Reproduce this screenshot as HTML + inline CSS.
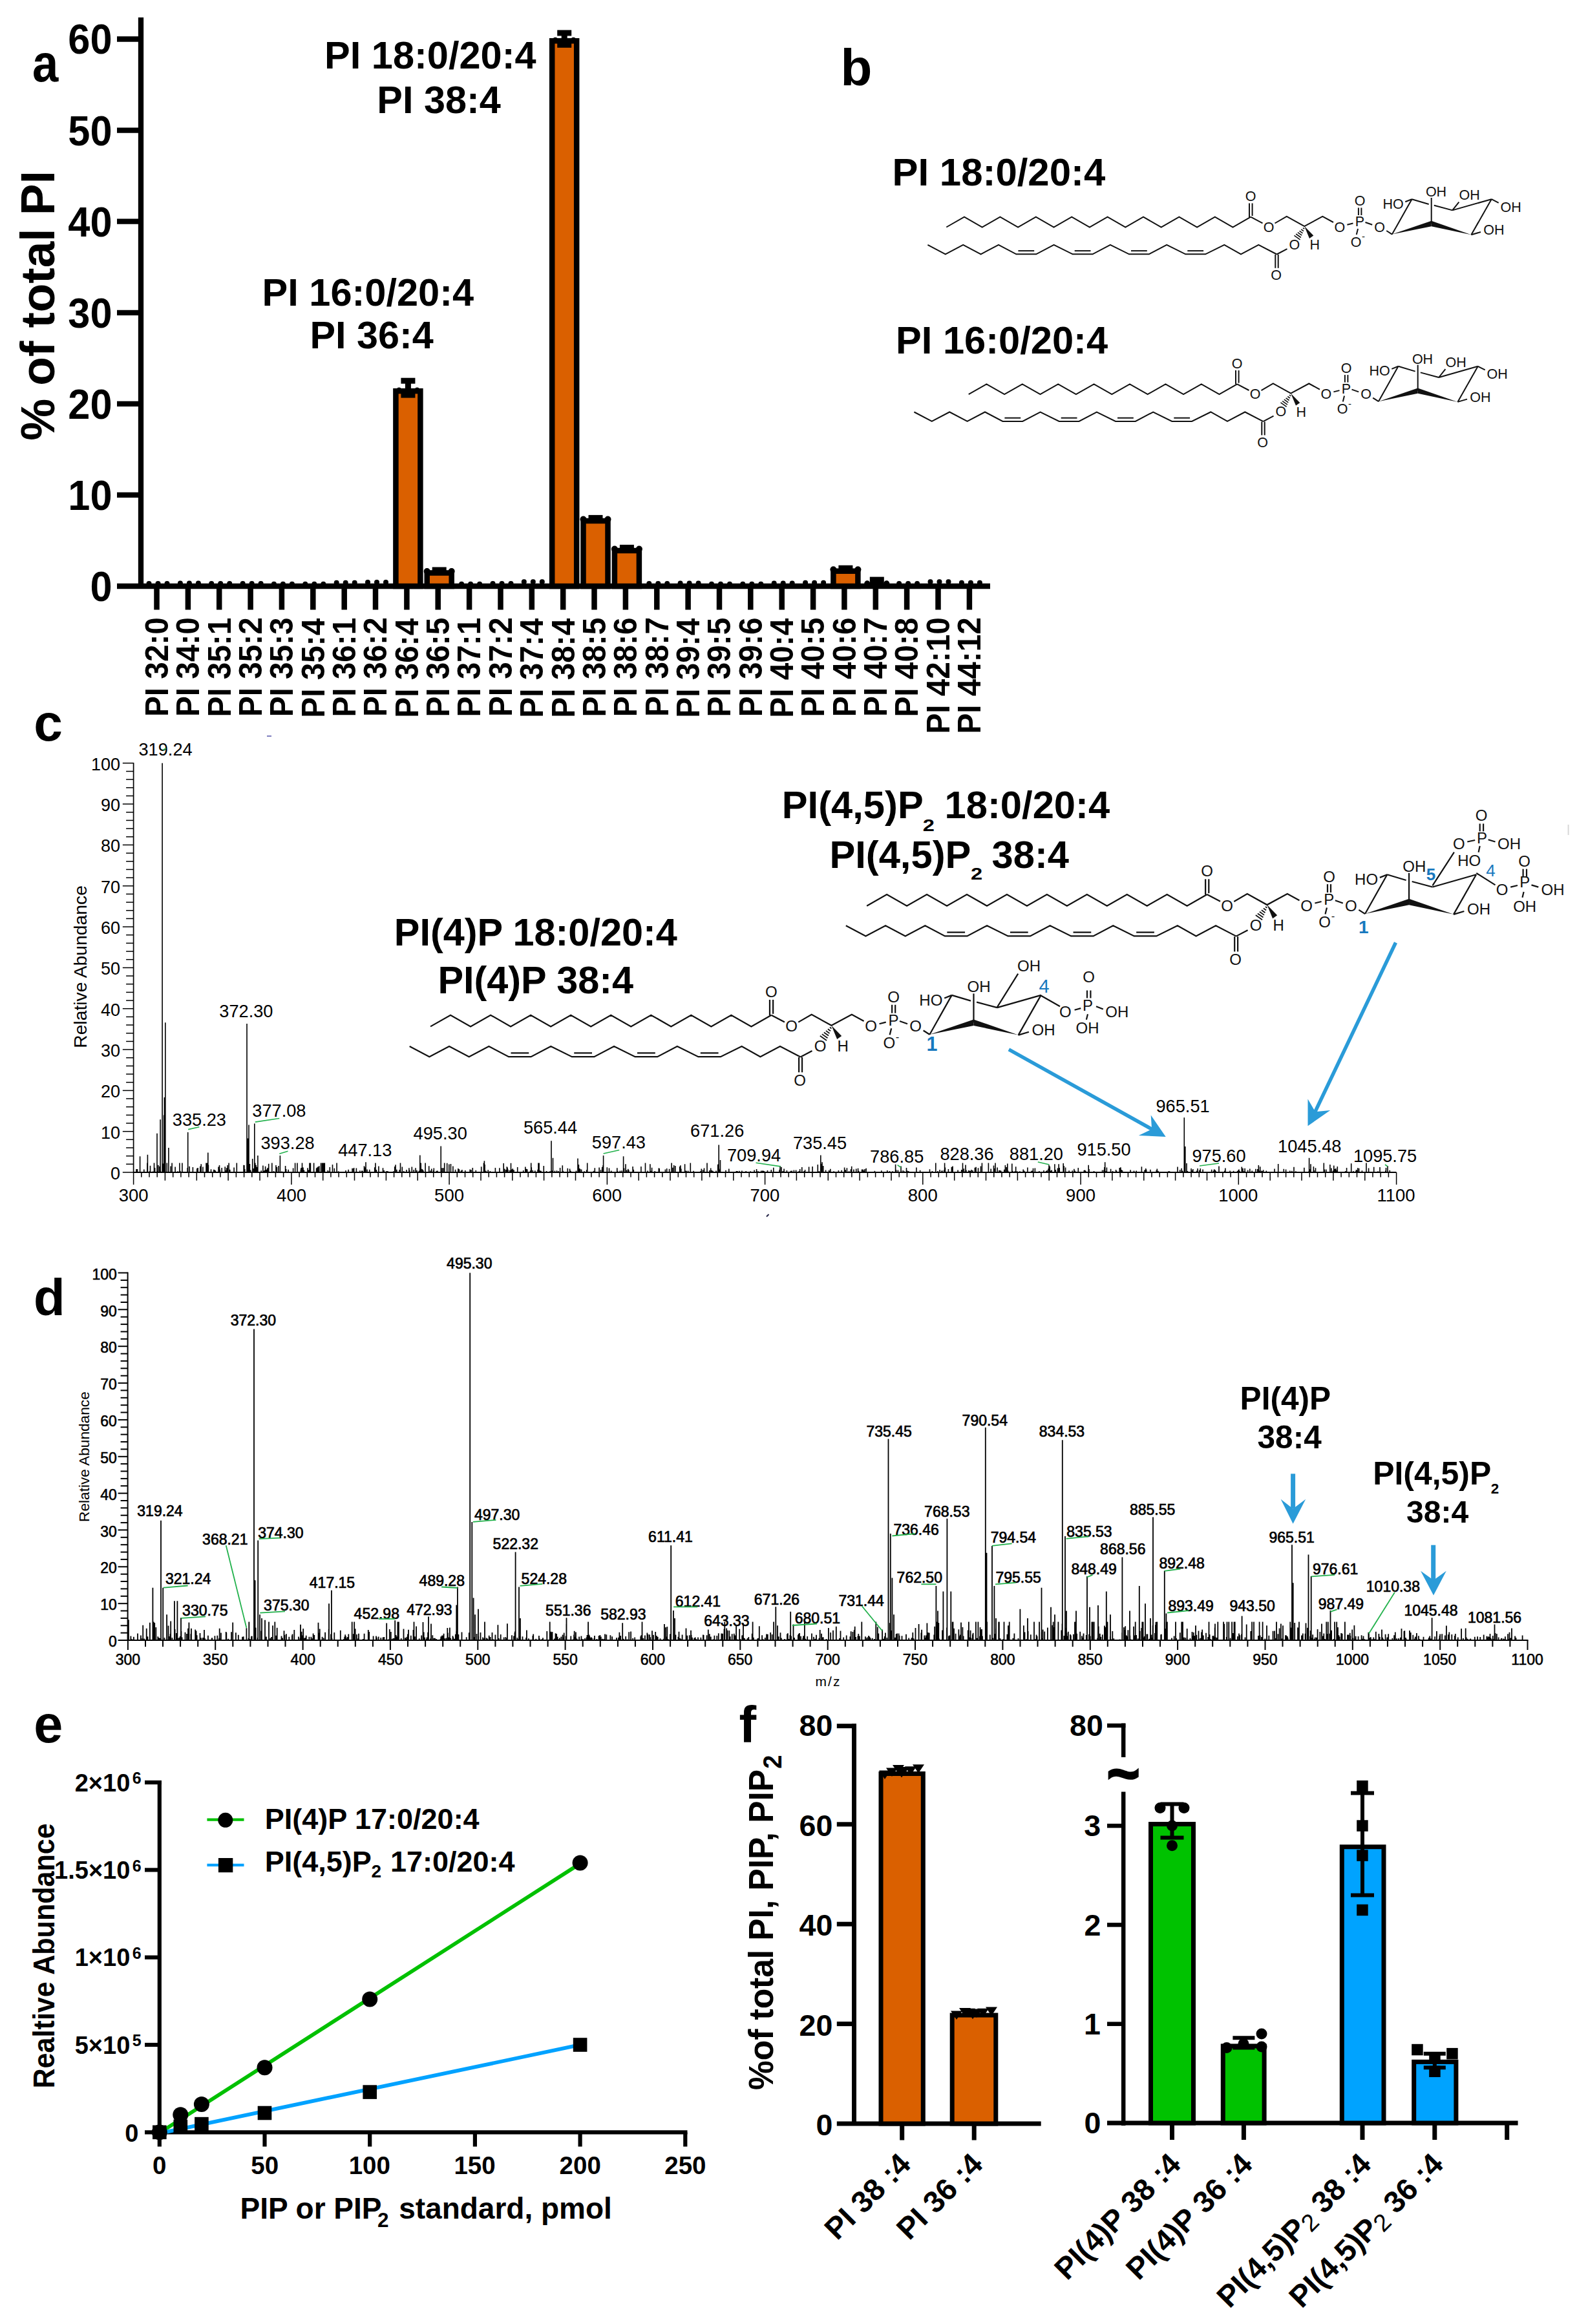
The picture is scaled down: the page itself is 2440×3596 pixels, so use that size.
<!DOCTYPE html>
<html><head><meta charset="utf-8"><style>
html,body{margin:0;padding:0;background:#fff;}
svg{display:block;}
</style></head><body>
<svg width="2440" height="3596" viewBox="0 0 2440 3596">
<rect width="2440" height="3596" fill="#fff"/>
<text x="0.0" y="0.0" font-size="81.6" font-weight="bold" text-anchor="start" fill="#000" font-family="'Liberation Sans', Arial, sans-serif" transform="translate(50.1,125.8) scale(0.888,1)" >a</text>
<line x1="218.0" y1="27.0" x2="218.0" y2="911.0" stroke="#000" stroke-width="8.3" stroke-linecap="butt"/>
<line x1="181.0" y1="907.0" x2="1532.0" y2="907.0" stroke="#000" stroke-width="8.3" stroke-linecap="butt"/>
<line x1="181.0" y1="765.9" x2="218.0" y2="765.9" stroke="#000" stroke-width="8.3" stroke-linecap="butt"/>
<line x1="181.0" y1="624.8" x2="218.0" y2="624.8" stroke="#000" stroke-width="8.3" stroke-linecap="butt"/>
<line x1="181.0" y1="483.8" x2="218.0" y2="483.8" stroke="#000" stroke-width="8.3" stroke-linecap="butt"/>
<line x1="181.0" y1="342.7" x2="218.0" y2="342.7" stroke="#000" stroke-width="8.3" stroke-linecap="butt"/>
<line x1="181.0" y1="201.6" x2="218.0" y2="201.6" stroke="#000" stroke-width="8.3" stroke-linecap="butt"/>
<line x1="181.0" y1="60.5" x2="218.0" y2="60.5" stroke="#000" stroke-width="8.3" stroke-linecap="butt"/>
<text x="0.0" y="0.0" font-size="64.2" font-weight="bold" text-anchor="start" fill="#000" font-family="'Liberation Sans', Arial, sans-serif" transform="translate(139.4,929.9) scale(0.955,1)" >0</text>
<text x="0.0" y="0.0" font-size="64.2" font-weight="bold" text-anchor="start" fill="#000" font-family="'Liberation Sans', Arial, sans-serif" transform="translate(105.3,788.8) scale(0.955,1)" >10</text>
<text x="0.0" y="0.0" font-size="64.2" font-weight="bold" text-anchor="start" fill="#000" font-family="'Liberation Sans', Arial, sans-serif" transform="translate(105.3,647.7) scale(0.955,1)" >20</text>
<text x="0.0" y="0.0" font-size="64.2" font-weight="bold" text-anchor="start" fill="#000" font-family="'Liberation Sans', Arial, sans-serif" transform="translate(105.3,506.6) scale(0.955,1)" >30</text>
<text x="0.0" y="0.0" font-size="64.2" font-weight="bold" text-anchor="start" fill="#000" font-family="'Liberation Sans', Arial, sans-serif" transform="translate(105.3,365.6) scale(0.955,1)" >40</text>
<text x="0.0" y="0.0" font-size="64.2" font-weight="bold" text-anchor="start" fill="#000" font-family="'Liberation Sans', Arial, sans-serif" transform="translate(105.3,224.5) scale(0.955,1)" >50</text>
<text x="0.0" y="0.0" font-size="64.2" font-weight="bold" text-anchor="start" fill="#000" font-family="'Liberation Sans', Arial, sans-serif" transform="translate(105.3,83.4) scale(0.955,1)" >60</text>
<text x="0.0" y="0.0" font-size="75.0" font-weight="bold" text-anchor="start" fill="#000" font-family="'Liberation Sans', Arial, sans-serif" transform="translate(84.3,681.8) rotate(-90) scale(0.973,1)" >% of total PI</text>
<line x1="242.5" y1="911.0" x2="242.5" y2="943.5" stroke="#000" stroke-width="8.5" stroke-linecap="butt"/>
<circle cx="230.5" cy="903.1" r="4" fill="#000"/>
<circle cx="244.5" cy="903.1" r="4" fill="#000"/>
<circle cx="258.5" cy="903.1" r="4" fill="#000"/>
<text x="0.0" y="0.0" font-size="50.1" font-weight="bold" text-anchor="start" fill="#000" font-family="'Liberation Sans', Arial, sans-serif" transform="translate(259.8,1109.0) rotate(-90) scale(0.953,1)" >PI 32:0</text>
<line x1="290.9" y1="911.0" x2="290.9" y2="943.5" stroke="#000" stroke-width="8.5" stroke-linecap="butt"/>
<circle cx="278.9" cy="902.4" r="4" fill="#000"/>
<circle cx="292.9" cy="902.4" r="4" fill="#000"/>
<circle cx="306.9" cy="902.4" r="4" fill="#000"/>
<text x="0.0" y="0.0" font-size="50.1" font-weight="bold" text-anchor="start" fill="#000" font-family="'Liberation Sans', Arial, sans-serif" transform="translate(308.2,1109.0) rotate(-90) scale(0.953,1)" >PI 34:0</text>
<line x1="339.2" y1="911.0" x2="339.2" y2="943.5" stroke="#000" stroke-width="8.5" stroke-linecap="butt"/>
<circle cx="327.2" cy="903.1" r="4" fill="#000"/>
<circle cx="341.2" cy="903.1" r="4" fill="#000"/>
<circle cx="355.2" cy="903.1" r="4" fill="#000"/>
<text x="0.0" y="0.0" font-size="50.1" font-weight="bold" text-anchor="start" fill="#000" font-family="'Liberation Sans', Arial, sans-serif" transform="translate(356.5,1109.6) rotate(-90) scale(0.953,1)" >PI 35:1</text>
<line x1="387.6" y1="911.0" x2="387.6" y2="943.5" stroke="#000" stroke-width="8.5" stroke-linecap="butt"/>
<circle cx="375.6" cy="903.1" r="4" fill="#000"/>
<circle cx="389.6" cy="903.1" r="4" fill="#000"/>
<circle cx="403.6" cy="903.1" r="4" fill="#000"/>
<text x="0.0" y="0.0" font-size="50.1" font-weight="bold" text-anchor="start" fill="#000" font-family="'Liberation Sans', Arial, sans-serif" transform="translate(404.9,1109.1) rotate(-90) scale(0.953,1)" >PI 35:2</text>
<line x1="435.9" y1="911.0" x2="435.9" y2="943.5" stroke="#000" stroke-width="8.5" stroke-linecap="butt"/>
<circle cx="423.9" cy="903.8" r="4" fill="#000"/>
<circle cx="437.9" cy="903.8" r="4" fill="#000"/>
<circle cx="451.9" cy="903.8" r="4" fill="#000"/>
<text x="0.0" y="0.0" font-size="50.1" font-weight="bold" text-anchor="start" fill="#000" font-family="'Liberation Sans', Arial, sans-serif" transform="translate(453.2,1109.3) rotate(-90) scale(0.953,1)" >PI 35:3</text>
<line x1="484.3" y1="911.0" x2="484.3" y2="943.5" stroke="#000" stroke-width="8.5" stroke-linecap="butt"/>
<circle cx="472.3" cy="903.8" r="4" fill="#000"/>
<circle cx="486.3" cy="903.8" r="4" fill="#000"/>
<circle cx="500.3" cy="903.8" r="4" fill="#000"/>
<text x="0.0" y="0.0" font-size="50.1" font-weight="bold" text-anchor="start" fill="#000" font-family="'Liberation Sans', Arial, sans-serif" transform="translate(501.6,1110.7) rotate(-90) scale(0.953,1)" >PI 35:4</text>
<line x1="532.7" y1="911.0" x2="532.7" y2="943.5" stroke="#000" stroke-width="8.5" stroke-linecap="butt"/>
<circle cx="520.7" cy="901.7" r="4" fill="#000"/>
<circle cx="534.7" cy="901.7" r="4" fill="#000"/>
<circle cx="548.7" cy="901.7" r="4" fill="#000"/>
<text x="0.0" y="0.0" font-size="50.1" font-weight="bold" text-anchor="start" fill="#000" font-family="'Liberation Sans', Arial, sans-serif" transform="translate(550.0,1109.6) rotate(-90) scale(0.953,1)" >PI 36:1</text>
<line x1="581.0" y1="911.0" x2="581.0" y2="943.5" stroke="#000" stroke-width="8.5" stroke-linecap="butt"/>
<circle cx="569.0" cy="901.0" r="4" fill="#000"/>
<circle cx="583.0" cy="901.0" r="4" fill="#000"/>
<circle cx="597.0" cy="901.0" r="4" fill="#000"/>
<text x="0.0" y="0.0" font-size="50.1" font-weight="bold" text-anchor="start" fill="#000" font-family="'Liberation Sans', Arial, sans-serif" transform="translate(598.3,1109.1) rotate(-90) scale(0.953,1)" >PI 36:2</text>
<line x1="629.4" y1="911.0" x2="629.4" y2="943.5" stroke="#000" stroke-width="8.5" stroke-linecap="butt"/>
<rect x="612.4" y="605.1" width="38.0" height="301.9" fill="#DA6000" stroke="#000" stroke-width="8.5"/>
<line x1="631.4" y1="589.2" x2="631.4" y2="605.1" stroke="#000" stroke-width="9" stroke-linecap="butt"/>
<line x1="620.4" y1="589.2" x2="642.4" y2="589.2" stroke="#000" stroke-width="9" stroke-linecap="butt"/>
<line x1="620.4" y1="611.1" x2="642.4" y2="611.1" stroke="#000" stroke-width="9" stroke-linecap="butt"/>
<circle cx="617.4" cy="604.1" r="4.5" fill="#000"/>
<circle cx="631.4" cy="604.1" r="4.5" fill="#000"/>
<circle cx="645.4" cy="604.1" r="4.5" fill="#000"/>
<text x="0.0" y="0.0" font-size="50.1" font-weight="bold" text-anchor="start" fill="#000" font-family="'Liberation Sans', Arial, sans-serif" transform="translate(646.7,1110.7) rotate(-90) scale(0.953,1)" >PI 36:4</text>
<line x1="677.7" y1="911.0" x2="677.7" y2="943.5" stroke="#000" stroke-width="8.5" stroke-linecap="butt"/>
<rect x="660.7" y="886.5" width="38.0" height="20.5" fill="#DA6000" stroke="#000" stroke-width="8.5"/>
<rect x="668.7" y="877.5" width="22.0" height="6.0" fill="#000"/>
<circle cx="660.7" cy="884.0" r="5" fill="#000"/>
<circle cx="698.7" cy="884.0" r="5" fill="#000"/>
<text x="0.0" y="0.0" font-size="50.1" font-weight="bold" text-anchor="start" fill="#000" font-family="'Liberation Sans', Arial, sans-serif" transform="translate(695.0,1109.6) rotate(-90) scale(0.953,1)" >PI 36:5</text>
<line x1="726.1" y1="911.0" x2="726.1" y2="943.5" stroke="#000" stroke-width="8.5" stroke-linecap="butt"/>
<circle cx="714.1" cy="903.8" r="4" fill="#000"/>
<circle cx="728.1" cy="903.8" r="4" fill="#000"/>
<circle cx="742.1" cy="903.8" r="4" fill="#000"/>
<text x="0.0" y="0.0" font-size="50.1" font-weight="bold" text-anchor="start" fill="#000" font-family="'Liberation Sans', Arial, sans-serif" transform="translate(743.4,1109.6) rotate(-90) scale(0.953,1)" >PI 37:1</text>
<line x1="774.5" y1="911.0" x2="774.5" y2="943.5" stroke="#000" stroke-width="8.5" stroke-linecap="butt"/>
<circle cx="762.5" cy="903.1" r="4" fill="#000"/>
<circle cx="776.5" cy="903.1" r="4" fill="#000"/>
<circle cx="790.5" cy="903.1" r="4" fill="#000"/>
<text x="0.0" y="0.0" font-size="50.1" font-weight="bold" text-anchor="start" fill="#000" font-family="'Liberation Sans', Arial, sans-serif" transform="translate(791.8,1109.1) rotate(-90) scale(0.953,1)" >PI 37:2</text>
<line x1="822.8" y1="911.0" x2="822.8" y2="943.5" stroke="#000" stroke-width="8.5" stroke-linecap="butt"/>
<circle cx="810.8" cy="900.3" r="4" fill="#000"/>
<circle cx="824.8" cy="900.3" r="4" fill="#000"/>
<circle cx="838.8" cy="900.3" r="4" fill="#000"/>
<text x="0.0" y="0.0" font-size="50.1" font-weight="bold" text-anchor="start" fill="#000" font-family="'Liberation Sans', Arial, sans-serif" transform="translate(840.1,1110.7) rotate(-90) scale(0.953,1)" >PI 37:4</text>
<line x1="871.2" y1="911.0" x2="871.2" y2="943.5" stroke="#000" stroke-width="8.5" stroke-linecap="butt"/>
<rect x="854.2" y="63.3" width="38.0" height="843.7" fill="#DA6000" stroke="#000" stroke-width="8.5"/>
<line x1="873.2" y1="51.0" x2="873.2" y2="63.3" stroke="#000" stroke-width="9" stroke-linecap="butt"/>
<line x1="862.2" y1="51.0" x2="884.2" y2="51.0" stroke="#000" stroke-width="9" stroke-linecap="butt"/>
<line x1="862.2" y1="69.3" x2="884.2" y2="69.3" stroke="#000" stroke-width="9" stroke-linecap="butt"/>
<circle cx="859.2" cy="62.3" r="4.5" fill="#000"/>
<circle cx="873.2" cy="62.3" r="4.5" fill="#000"/>
<circle cx="887.2" cy="62.3" r="4.5" fill="#000"/>
<text x="0.0" y="0.0" font-size="50.1" font-weight="bold" text-anchor="start" fill="#000" font-family="'Liberation Sans', Arial, sans-serif" transform="translate(888.5,1110.7) rotate(-90) scale(0.953,1)" >PI 38:4</text>
<line x1="919.5" y1="911.0" x2="919.5" y2="943.5" stroke="#000" stroke-width="8.5" stroke-linecap="butt"/>
<rect x="902.5" y="806.0" width="38.0" height="101.0" fill="#DA6000" stroke="#000" stroke-width="8.5"/>
<rect x="910.5" y="796.9" width="22.0" height="6.0" fill="#000"/>
<circle cx="902.5" cy="803.5" r="5" fill="#000"/>
<circle cx="940.5" cy="803.5" r="5" fill="#000"/>
<text x="0.0" y="0.0" font-size="50.1" font-weight="bold" text-anchor="start" fill="#000" font-family="'Liberation Sans', Arial, sans-serif" transform="translate(936.8,1109.6) rotate(-90) scale(0.953,1)" >PI 38:5</text>
<line x1="967.9" y1="911.0" x2="967.9" y2="943.5" stroke="#000" stroke-width="8.5" stroke-linecap="butt"/>
<rect x="950.9" y="852.0" width="38.0" height="55.0" fill="#DA6000" stroke="#000" stroke-width="8.5"/>
<rect x="958.9" y="842.9" width="22.0" height="6.0" fill="#000"/>
<circle cx="950.9" cy="849.5" r="5" fill="#000"/>
<circle cx="988.9" cy="849.5" r="5" fill="#000"/>
<text x="0.0" y="0.0" font-size="50.1" font-weight="bold" text-anchor="start" fill="#000" font-family="'Liberation Sans', Arial, sans-serif" transform="translate(985.2,1109.3) rotate(-90) scale(0.953,1)" >PI 38:6</text>
<line x1="1016.3" y1="911.0" x2="1016.3" y2="943.5" stroke="#000" stroke-width="8.5" stroke-linecap="butt"/>
<circle cx="1004.3" cy="903.1" r="4" fill="#000"/>
<circle cx="1018.3" cy="903.1" r="4" fill="#000"/>
<circle cx="1032.3" cy="903.1" r="4" fill="#000"/>
<text x="0.0" y="0.0" font-size="50.1" font-weight="bold" text-anchor="start" fill="#000" font-family="'Liberation Sans', Arial, sans-serif" transform="translate(1033.6,1108.9) rotate(-90) scale(0.953,1)" >PI 38:7</text>
<line x1="1064.6" y1="911.0" x2="1064.6" y2="943.5" stroke="#000" stroke-width="8.5" stroke-linecap="butt"/>
<circle cx="1052.6" cy="902.4" r="4" fill="#000"/>
<circle cx="1066.6" cy="902.4" r="4" fill="#000"/>
<circle cx="1080.6" cy="902.4" r="4" fill="#000"/>
<text x="0.0" y="0.0" font-size="50.1" font-weight="bold" text-anchor="start" fill="#000" font-family="'Liberation Sans', Arial, sans-serif" transform="translate(1081.9,1110.7) rotate(-90) scale(0.953,1)" >PI 39:4</text>
<line x1="1113.0" y1="911.0" x2="1113.0" y2="943.5" stroke="#000" stroke-width="8.5" stroke-linecap="butt"/>
<circle cx="1101.0" cy="903.8" r="4" fill="#000"/>
<circle cx="1115.0" cy="903.8" r="4" fill="#000"/>
<circle cx="1129.0" cy="903.8" r="4" fill="#000"/>
<text x="0.0" y="0.0" font-size="50.1" font-weight="bold" text-anchor="start" fill="#000" font-family="'Liberation Sans', Arial, sans-serif" transform="translate(1130.3,1109.6) rotate(-90) scale(0.953,1)" >PI 39:5</text>
<line x1="1161.3" y1="911.0" x2="1161.3" y2="943.5" stroke="#000" stroke-width="8.5" stroke-linecap="butt"/>
<circle cx="1149.3" cy="903.8" r="4" fill="#000"/>
<circle cx="1163.3" cy="903.8" r="4" fill="#000"/>
<circle cx="1177.3" cy="903.8" r="4" fill="#000"/>
<text x="0.0" y="0.0" font-size="50.1" font-weight="bold" text-anchor="start" fill="#000" font-family="'Liberation Sans', Arial, sans-serif" transform="translate(1178.6,1109.3) rotate(-90) scale(0.953,1)" >PI 39:6</text>
<line x1="1209.7" y1="911.0" x2="1209.7" y2="943.5" stroke="#000" stroke-width="8.5" stroke-linecap="butt"/>
<circle cx="1197.7" cy="902.4" r="4" fill="#000"/>
<circle cx="1211.7" cy="902.4" r="4" fill="#000"/>
<circle cx="1225.7" cy="902.4" r="4" fill="#000"/>
<text x="0.0" y="0.0" font-size="50.1" font-weight="bold" text-anchor="start" fill="#000" font-family="'Liberation Sans', Arial, sans-serif" transform="translate(1227.0,1110.7) rotate(-90) scale(0.953,1)" >PI 40:4</text>
<line x1="1258.1" y1="911.0" x2="1258.1" y2="943.5" stroke="#000" stroke-width="8.5" stroke-linecap="butt"/>
<circle cx="1246.1" cy="901.7" r="4" fill="#000"/>
<circle cx="1260.1" cy="901.7" r="4" fill="#000"/>
<circle cx="1274.1" cy="901.7" r="4" fill="#000"/>
<text x="0.0" y="0.0" font-size="50.1" font-weight="bold" text-anchor="start" fill="#000" font-family="'Liberation Sans', Arial, sans-serif" transform="translate(1275.4,1109.6) rotate(-90) scale(0.953,1)" >PI 40:5</text>
<line x1="1306.4" y1="911.0" x2="1306.4" y2="943.5" stroke="#000" stroke-width="8.5" stroke-linecap="butt"/>
<rect x="1289.4" y="883.7" width="38.0" height="23.3" fill="#DA6000" stroke="#000" stroke-width="8.5"/>
<rect x="1297.4" y="874.7" width="22.0" height="6.0" fill="#000"/>
<circle cx="1289.4" cy="881.2" r="5" fill="#000"/>
<circle cx="1327.4" cy="881.2" r="5" fill="#000"/>
<text x="0.0" y="0.0" font-size="50.1" font-weight="bold" text-anchor="start" fill="#000" font-family="'Liberation Sans', Arial, sans-serif" transform="translate(1323.7,1109.3) rotate(-90) scale(0.953,1)" >PI 40:6</text>
<line x1="1354.8" y1="911.0" x2="1354.8" y2="943.5" stroke="#000" stroke-width="8.5" stroke-linecap="butt"/>
<rect x="1345.8" y="892.6" width="22.0" height="14.4" fill="#000"/>
<circle cx="1341.8" cy="902.9" r="4.6" fill="#000"/>
<circle cx="1371.8" cy="902.9" r="4.6" fill="#000"/>
<text x="0.0" y="0.0" font-size="50.1" font-weight="bold" text-anchor="start" fill="#000" font-family="'Liberation Sans', Arial, sans-serif" transform="translate(1372.1,1108.9) rotate(-90) scale(0.953,1)" >PI 40:7</text>
<line x1="1403.1" y1="911.0" x2="1403.1" y2="943.5" stroke="#000" stroke-width="8.5" stroke-linecap="butt"/>
<circle cx="1391.1" cy="903.1" r="4" fill="#000"/>
<circle cx="1405.1" cy="903.1" r="4" fill="#000"/>
<circle cx="1419.1" cy="903.1" r="4" fill="#000"/>
<text x="0.0" y="0.0" font-size="50.1" font-weight="bold" text-anchor="start" fill="#000" font-family="'Liberation Sans', Arial, sans-serif" transform="translate(1420.4,1109.5) rotate(-90) scale(0.953,1)" >PI 40:8</text>
<line x1="1451.5" y1="911.0" x2="1451.5" y2="943.5" stroke="#000" stroke-width="8.5" stroke-linecap="butt"/>
<circle cx="1439.5" cy="900.3" r="4" fill="#000"/>
<circle cx="1453.5" cy="900.3" r="4" fill="#000"/>
<circle cx="1467.5" cy="900.3" r="4" fill="#000"/>
<text x="0.0" y="0.0" font-size="50.1" font-weight="bold" text-anchor="start" fill="#000" font-family="'Liberation Sans', Arial, sans-serif" transform="translate(1468.8,1135.6) rotate(-90) scale(0.953,1)" >PI 42:10</text>
<line x1="1499.9" y1="911.0" x2="1499.9" y2="943.5" stroke="#000" stroke-width="8.5" stroke-linecap="butt"/>
<circle cx="1487.9" cy="901.7" r="4" fill="#000"/>
<circle cx="1501.9" cy="901.7" r="4" fill="#000"/>
<circle cx="1515.9" cy="901.7" r="4" fill="#000"/>
<text x="0.0" y="0.0" font-size="50.1" font-weight="bold" text-anchor="start" fill="#000" font-family="'Liberation Sans', Arial, sans-serif" transform="translate(1517.2,1135.6) rotate(-90) scale(0.953,1)" >PI 44:12</text>
<text x="502.1" y="105.9" font-size="59.5" font-weight="bold" text-anchor="start" fill="#000" font-family="'Liberation Sans', Arial, sans-serif" >PI 18:0/20:4</text>
<text x="583.3" y="174.6" font-size="59.4" font-weight="bold" text-anchor="start" fill="#000" font-family="'Liberation Sans', Arial, sans-serif" >PI 38:4</text>
<text x="405.6" y="472.6" font-size="59.5" font-weight="bold" text-anchor="start" fill="#000" font-family="'Liberation Sans', Arial, sans-serif" >PI 16:0/20:4</text>
<text x="479.5" y="538.9" font-size="59.3" font-weight="bold" text-anchor="start" fill="#000" font-family="'Liberation Sans', Arial, sans-serif" >PI 36:4</text>
<text x="1300.6" y="131.8" font-size="80.0" font-weight="bold" text-anchor="start" fill="#000" font-family="'Liberation Sans', Arial, sans-serif" >b</text>
<text x="1380.6" y="287.3" font-size="59.9" font-weight="bold" text-anchor="start" fill="#000" font-family="'Liberation Sans', Arial, sans-serif" >PI 18:0/20:4</text>
<text x="1386.1" y="546.9" font-size="59.6" font-weight="bold" text-anchor="start" fill="#000" font-family="'Liberation Sans', Arial, sans-serif" >PI 16:0/20:4</text>
<g transform="translate(0.00,0.00) scale(1.0000)" font-family="Liberation Sans, Arial, sans-serif">
<path d="M1935.2,335.7 L1907.5,351.5 L1879.8,335.7 L1852.1,351.5 L1824.4,335.7 L1796.7,351.5 L1769.0,335.7 L1741.3,351.5 L1713.6,335.7 L1685.9,351.5 L1658.2,335.7 L1630.5,351.5 L1602.8,335.7 L1575.1,351.5 L1547.4,335.7 L1519.7,351.5 L1492.0,335.7 L1464.3,351.5" fill="none" stroke="#111" stroke-width="2.0" stroke-linejoin="miter"/>
<line x1="1933.0" y1="314.5" x2="1933.0" y2="336.0" stroke="#111" stroke-width="2.0"/>
<line x1="1937.6" y1="314.5" x2="1937.6" y2="334.0" stroke="#111" stroke-width="2.0"/>
<text x="1935.2" y="311.1" font-size="21.5" text-anchor="middle" fill="#111">O</text>
<line x1="1935.2" y1="335.7" x2="1953.5" y2="345.4" stroke="#111" stroke-width="2.0"/>
<text x="1963.0" y="358.7" font-size="21.5" text-anchor="middle" fill="#111">O</text>
<path d="M1972.5,345.5 L1990.8,334.9 L2018.2,350.1 L2046.3,334.9 L2063,344" fill="none" stroke="#111" stroke-width="2.0"/>
<text x="2072.9" y="358.6" font-size="21.5" text-anchor="middle" fill="#111">O</text>
<line x1="2084.4" y1="347.8" x2="2093.5" y2="345.5" stroke="#111" stroke-width="2.0"/>
<text x="2104.0" y="350.4" font-size="21.5" text-anchor="middle" fill="#111">P</text>
<line x1="2101.9" y1="321.5" x2="2101.9" y2="333.0" stroke="#111" stroke-width="2.0"/>
<line x1="2106.4" y1="321.5" x2="2106.4" y2="333.0" stroke="#111" stroke-width="2.0"/>
<text x="2104.2" y="318.4" font-size="21.5" text-anchor="middle" fill="#111">O</text>
<line x1="2101.0" y1="354.0" x2="2098.8" y2="363.0" stroke="#111" stroke-width="2.0"/>
<text x="2098.0" y="381.6" font-size="21.5" text-anchor="middle" fill="#111">O</text>
<text x="2107" y="371" font-size="15.0" fill="#111">-</text>
<line x1="2112.5" y1="344.0" x2="2123.2" y2="347.8" stroke="#111" stroke-width="2.0"/>
<text x="2134.5" y="358.6" font-size="21.5" text-anchor="middle" fill="#111">O</text>
<line x1="2145.2" y1="357.0" x2="2153.9" y2="362.6" stroke="#111" stroke-width="2.0"/>
<line x1="2153.9" y1="362.6" x2="2184.5" y2="308.2" stroke="#111" stroke-width="2.0"/>
<line x1="2184.5" y1="308.2" x2="2210.7" y2="316.0" stroke="#111" stroke-width="2.0"/>
<line x1="2218.8" y1="317.8" x2="2247.2" y2="325.4" stroke="#111" stroke-width="2.0"/>
<line x1="2247.2" y1="325.4" x2="2307.7" y2="308.2" stroke="#111" stroke-width="2.0"/>
<line x1="2307.7" y1="308.2" x2="2276.4" y2="363.3" stroke="#111" stroke-width="2.0"/>
<line x1="2214.7" y1="306.0" x2="2214.7" y2="346.0" stroke="#111" stroke-width="2.0"/>
<path d="M2153.9,362.6 L2214.7,341.8 L2214.7,350.2 Z" fill="#111"/>
<path d="M2276.4,363.3 L2214.7,341.8 L2214.7,350.2 Z" fill="#111"/>
<line x1="2184.5" y1="308.2" x2="2174.3" y2="312.3" stroke="#111" stroke-width="2.0"/>
<text x="2155.7" y="322.6" font-size="21.5" text-anchor="middle" fill="#111">HO</text>
<text x="2222.0" y="304.0" font-size="21.5" text-anchor="middle" fill="#111">OH</text>
<line x1="2247.2" y1="325.4" x2="2257.4" y2="312.6" stroke="#111" stroke-width="2.0"/>
<text x="2273.7" y="309.4" font-size="21.5" text-anchor="middle" fill="#111">OH</text>
<line x1="2307.7" y1="308.2" x2="2318.7" y2="313.8" stroke="#111" stroke-width="2.0"/>
<text x="2337.6" y="327.7" font-size="21.5" text-anchor="middle" fill="#111">OH</text>
<line x1="2276.4" y1="363.3" x2="2291.0" y2="359.0" stroke="#111" stroke-width="2.0"/>
<text x="2311.3" y="363.4" font-size="21.5" text-anchor="middle" fill="#111">OH</text>
<line x1="2018.3" y1="354.2" x2="2016.0" y2="352.6" stroke="#111" stroke-width="1.6"/>
<line x1="2017.0" y1="357.6" x2="2013.3" y2="354.9" stroke="#111" stroke-width="1.6"/>
<line x1="2015.6" y1="360.9" x2="2010.6" y2="357.3" stroke="#111" stroke-width="1.6"/>
<line x1="2014.3" y1="364.2" x2="2007.9" y2="359.6" stroke="#111" stroke-width="1.6"/>
<line x1="2012.9" y1="367.5" x2="2005.2" y2="362.0" stroke="#111" stroke-width="1.6"/>
<line x1="2011.6" y1="370.8" x2="2002.5" y2="364.3" stroke="#111" stroke-width="1.6"/>
<path d="M2018.2,350.1 L2026.0,369.0 L2032.3,364.6 Z" fill="#111"/>
<text x="2034.2" y="386.1" font-size="21.5" text-anchor="middle" fill="#111">H</text>
<text x="2002.8" y="385.6" font-size="21.5" text-anchor="middle" fill="#111">O</text>
<line x1="1991.5" y1="385.1" x2="1975.5" y2="393.5" stroke="#111" stroke-width="2.0"/>
<path d="M1435.4,378.9 L1462.8,393.3 L1490.2,378.9 L1517.6,393.3 L1545.0,378.9 L1572.4,393.3 L1603.2,393.3 L1630.6,378.9 L1659.7,393.3 L1690.5,393.3 L1717.9,378.9 L1747.0,393.3 L1777.8,393.3 L1805.2,378.9 L1834.3,393.3 L1865.1,393.3 L1894.3,378.9 L1920.0,393.3 L1947.3,378.9 L1975.5,393.5" fill="none" stroke="#111" stroke-width="2.0"/>
<line x1="1575.4" y1="388.1" x2="1600.2" y2="388.1" stroke="#111" stroke-width="2.0"/>
<line x1="1662.7" y1="388.1" x2="1687.5" y2="388.1" stroke="#111" stroke-width="2.0"/>
<line x1="1750.0" y1="388.1" x2="1774.8" y2="388.1" stroke="#111" stroke-width="2.0"/>
<line x1="1837.3" y1="388.1" x2="1862.1" y2="388.1" stroke="#111" stroke-width="2.0"/>
<line x1="1973.3" y1="394.0" x2="1973.3" y2="414.8" stroke="#111" stroke-width="2.0"/>
<line x1="1977.7" y1="394.0" x2="1977.7" y2="414.8" stroke="#111" stroke-width="2.0"/>
<text x="1974.6" y="433.2" font-size="21.5" text-anchor="middle" fill="#111">O</text>
</g>
<g transform="translate(-21.00,258.60) scale(1.0000)" font-family="Liberation Sans, Arial, sans-serif">
<path d="M1935.2,335.7 L1907.5,351.5 L1879.8,335.7 L1852.1,351.5 L1824.4,335.7 L1796.7,351.5 L1769.0,335.7 L1741.3,351.5 L1713.6,335.7 L1685.9,351.5 L1658.2,335.7 L1630.5,351.5 L1602.8,335.7 L1575.1,351.5 L1547.4,335.7 L1519.7,351.5" fill="none" stroke="#111" stroke-width="2.0" stroke-linejoin="miter"/>
<line x1="1933.0" y1="314.5" x2="1933.0" y2="336.0" stroke="#111" stroke-width="2.0"/>
<line x1="1937.6" y1="314.5" x2="1937.6" y2="334.0" stroke="#111" stroke-width="2.0"/>
<text x="1935.2" y="311.1" font-size="21.5" text-anchor="middle" fill="#111">O</text>
<line x1="1935.2" y1="335.7" x2="1953.5" y2="345.4" stroke="#111" stroke-width="2.0"/>
<text x="1963.0" y="358.7" font-size="21.5" text-anchor="middle" fill="#111">O</text>
<path d="M1972.5,345.5 L1990.8,334.9 L2018.2,350.1 L2046.3,334.9 L2063,344" fill="none" stroke="#111" stroke-width="2.0"/>
<text x="2072.9" y="358.6" font-size="21.5" text-anchor="middle" fill="#111">O</text>
<line x1="2084.4" y1="347.8" x2="2093.5" y2="345.5" stroke="#111" stroke-width="2.0"/>
<text x="2104.0" y="350.4" font-size="21.5" text-anchor="middle" fill="#111">P</text>
<line x1="2101.9" y1="321.5" x2="2101.9" y2="333.0" stroke="#111" stroke-width="2.0"/>
<line x1="2106.4" y1="321.5" x2="2106.4" y2="333.0" stroke="#111" stroke-width="2.0"/>
<text x="2104.2" y="318.4" font-size="21.5" text-anchor="middle" fill="#111">O</text>
<line x1="2101.0" y1="354.0" x2="2098.8" y2="363.0" stroke="#111" stroke-width="2.0"/>
<text x="2098.0" y="381.6" font-size="21.5" text-anchor="middle" fill="#111">O</text>
<text x="2107" y="371" font-size="15.0" fill="#111">-</text>
<line x1="2112.5" y1="344.0" x2="2123.2" y2="347.8" stroke="#111" stroke-width="2.0"/>
<text x="2134.5" y="358.6" font-size="21.5" text-anchor="middle" fill="#111">O</text>
<line x1="2145.2" y1="357.0" x2="2153.9" y2="362.6" stroke="#111" stroke-width="2.0"/>
<line x1="2153.9" y1="362.6" x2="2184.5" y2="308.2" stroke="#111" stroke-width="2.0"/>
<line x1="2184.5" y1="308.2" x2="2210.7" y2="316.0" stroke="#111" stroke-width="2.0"/>
<line x1="2218.8" y1="317.8" x2="2247.2" y2="325.4" stroke="#111" stroke-width="2.0"/>
<line x1="2247.2" y1="325.4" x2="2307.7" y2="308.2" stroke="#111" stroke-width="2.0"/>
<line x1="2307.7" y1="308.2" x2="2276.4" y2="363.3" stroke="#111" stroke-width="2.0"/>
<line x1="2214.7" y1="306.0" x2="2214.7" y2="346.0" stroke="#111" stroke-width="2.0"/>
<path d="M2153.9,362.6 L2214.7,341.8 L2214.7,350.2 Z" fill="#111"/>
<path d="M2276.4,363.3 L2214.7,341.8 L2214.7,350.2 Z" fill="#111"/>
<line x1="2184.5" y1="308.2" x2="2174.3" y2="312.3" stroke="#111" stroke-width="2.0"/>
<text x="2155.7" y="322.6" font-size="21.5" text-anchor="middle" fill="#111">HO</text>
<text x="2222.0" y="304.0" font-size="21.5" text-anchor="middle" fill="#111">OH</text>
<line x1="2247.2" y1="325.4" x2="2257.4" y2="312.6" stroke="#111" stroke-width="2.0"/>
<text x="2273.7" y="309.4" font-size="21.5" text-anchor="middle" fill="#111">OH</text>
<line x1="2307.7" y1="308.2" x2="2318.7" y2="313.8" stroke="#111" stroke-width="2.0"/>
<text x="2337.6" y="327.7" font-size="21.5" text-anchor="middle" fill="#111">OH</text>
<line x1="2276.4" y1="363.3" x2="2291.0" y2="359.0" stroke="#111" stroke-width="2.0"/>
<text x="2311.3" y="363.4" font-size="21.5" text-anchor="middle" fill="#111">OH</text>
<line x1="2018.3" y1="354.2" x2="2016.0" y2="352.6" stroke="#111" stroke-width="1.6"/>
<line x1="2017.0" y1="357.6" x2="2013.3" y2="354.9" stroke="#111" stroke-width="1.6"/>
<line x1="2015.6" y1="360.9" x2="2010.6" y2="357.3" stroke="#111" stroke-width="1.6"/>
<line x1="2014.3" y1="364.2" x2="2007.9" y2="359.6" stroke="#111" stroke-width="1.6"/>
<line x1="2012.9" y1="367.5" x2="2005.2" y2="362.0" stroke="#111" stroke-width="1.6"/>
<line x1="2011.6" y1="370.8" x2="2002.5" y2="364.3" stroke="#111" stroke-width="1.6"/>
<path d="M2018.2,350.1 L2026.0,369.0 L2032.3,364.6 Z" fill="#111"/>
<text x="2034.2" y="386.1" font-size="21.5" text-anchor="middle" fill="#111">H</text>
<text x="2002.8" y="385.6" font-size="21.5" text-anchor="middle" fill="#111">O</text>
<line x1="1991.5" y1="385.1" x2="1975.5" y2="393.5" stroke="#111" stroke-width="2.0"/>
<path d="M1435.4,378.9 L1462.8,393.3 L1490.2,378.9 L1517.6,393.3 L1545.0,378.9 L1572.4,393.3 L1603.2,393.3 L1630.6,378.9 L1659.7,393.3 L1690.5,393.3 L1717.9,378.9 L1747.0,393.3 L1777.8,393.3 L1805.2,378.9 L1834.3,393.3 L1865.1,393.3 L1894.3,378.9 L1920.0,393.3 L1947.3,378.9 L1975.5,393.5" fill="none" stroke="#111" stroke-width="2.0"/>
<line x1="1575.4" y1="388.1" x2="1600.2" y2="388.1" stroke="#111" stroke-width="2.0"/>
<line x1="1662.7" y1="388.1" x2="1687.5" y2="388.1" stroke="#111" stroke-width="2.0"/>
<line x1="1750.0" y1="388.1" x2="1774.8" y2="388.1" stroke="#111" stroke-width="2.0"/>
<line x1="1837.3" y1="388.1" x2="1862.1" y2="388.1" stroke="#111" stroke-width="2.0"/>
<line x1="1973.3" y1="394.0" x2="1973.3" y2="414.8" stroke="#111" stroke-width="2.0"/>
<line x1="1977.7" y1="394.0" x2="1977.7" y2="414.8" stroke="#111" stroke-width="2.0"/>
<text x="1974.6" y="433.2" font-size="21.5" text-anchor="middle" fill="#111">O</text>
</g>
<g transform="translate(-973.98,1194.69) scale(1.1200)" font-family="Liberation Sans, Arial, sans-serif">
<path d="M1935.2,335.7 L1907.5,351.5 L1879.8,335.7 L1852.1,351.5 L1824.4,335.7 L1796.7,351.5 L1769.0,335.7 L1741.3,351.5 L1713.6,335.7 L1685.9,351.5 L1658.2,335.7 L1630.5,351.5 L1602.8,335.7 L1575.1,351.5 L1547.4,335.7 L1519.7,351.5 L1492.0,335.7 L1464.3,351.5" fill="none" stroke="#111" stroke-width="2.0" stroke-linejoin="miter"/>
<line x1="1933.0" y1="314.5" x2="1933.0" y2="336.0" stroke="#111" stroke-width="2.0"/>
<line x1="1937.6" y1="314.5" x2="1937.6" y2="334.0" stroke="#111" stroke-width="2.0"/>
<text x="1935.2" y="311.1" font-size="21.5" text-anchor="middle" fill="#111">O</text>
<line x1="1935.2" y1="335.7" x2="1953.5" y2="345.4" stroke="#111" stroke-width="2.0"/>
<text x="1963.0" y="358.7" font-size="21.5" text-anchor="middle" fill="#111">O</text>
<path d="M1972.5,345.5 L1990.8,334.9 L2018.2,350.1 L2046.3,334.9 L2063,344" fill="none" stroke="#111" stroke-width="2.0"/>
<text x="2072.9" y="358.6" font-size="21.5" text-anchor="middle" fill="#111">O</text>
<line x1="2084.4" y1="347.8" x2="2093.5" y2="345.5" stroke="#111" stroke-width="2.0"/>
<text x="2104.0" y="350.4" font-size="21.5" text-anchor="middle" fill="#111">P</text>
<line x1="2101.9" y1="321.5" x2="2101.9" y2="333.0" stroke="#111" stroke-width="2.0"/>
<line x1="2106.4" y1="321.5" x2="2106.4" y2="333.0" stroke="#111" stroke-width="2.0"/>
<text x="2104.2" y="318.4" font-size="21.5" text-anchor="middle" fill="#111">O</text>
<line x1="2101.0" y1="354.0" x2="2098.8" y2="363.0" stroke="#111" stroke-width="2.0"/>
<text x="2098.0" y="381.6" font-size="21.5" text-anchor="middle" fill="#111">O</text>
<text x="2107" y="371" font-size="15.0" fill="#111">-</text>
<line x1="2112.5" y1="344.0" x2="2123.2" y2="347.8" stroke="#111" stroke-width="2.0"/>
<text x="2134.5" y="358.6" font-size="21.5" text-anchor="middle" fill="#111">O</text>
<line x1="2145.2" y1="357.0" x2="2153.9" y2="362.6" stroke="#111" stroke-width="2.0"/>
<line x1="2153.9" y1="362.6" x2="2184.5" y2="308.2" stroke="#111" stroke-width="2.0"/>
<line x1="2184.5" y1="308.2" x2="2210.7" y2="316.0" stroke="#111" stroke-width="2.0"/>
<line x1="2218.8" y1="317.8" x2="2247.2" y2="325.4" stroke="#111" stroke-width="2.0"/>
<line x1="2247.2" y1="325.4" x2="2307.7" y2="308.2" stroke="#111" stroke-width="2.0"/>
<line x1="2307.7" y1="308.2" x2="2276.4" y2="363.3" stroke="#111" stroke-width="2.0"/>
<line x1="2214.7" y1="306.0" x2="2214.7" y2="346.0" stroke="#111" stroke-width="2.0"/>
<path d="M2153.9,362.6 L2214.7,341.8 L2214.7,350.2 Z" fill="#111"/>
<path d="M2276.4,363.3 L2214.7,341.8 L2214.7,350.2 Z" fill="#111"/>
<line x1="2184.5" y1="308.2" x2="2174.3" y2="312.3" stroke="#111" stroke-width="2.0"/>
<text x="2155.7" y="322.6" font-size="21.5" text-anchor="middle" fill="#111">HO</text>
<text x="2222.0" y="304.0" font-size="21.5" text-anchor="middle" fill="#111">OH</text>
<line x1="2276.4" y1="363.3" x2="2291.0" y2="359.0" stroke="#111" stroke-width="2.0"/>
<text x="2311.3" y="363.4" font-size="21.5" text-anchor="middle" fill="#111">OH</text>
<line x1="2018.3" y1="354.2" x2="2016.0" y2="352.6" stroke="#111" stroke-width="1.6"/>
<line x1="2017.0" y1="357.6" x2="2013.3" y2="354.9" stroke="#111" stroke-width="1.6"/>
<line x1="2015.6" y1="360.9" x2="2010.6" y2="357.3" stroke="#111" stroke-width="1.6"/>
<line x1="2014.3" y1="364.2" x2="2007.9" y2="359.6" stroke="#111" stroke-width="1.6"/>
<line x1="2012.9" y1="367.5" x2="2005.2" y2="362.0" stroke="#111" stroke-width="1.6"/>
<line x1="2011.6" y1="370.8" x2="2002.5" y2="364.3" stroke="#111" stroke-width="1.6"/>
<path d="M2018.2,350.1 L2026.0,369.0 L2032.3,364.6 Z" fill="#111"/>
<text x="2034.2" y="386.1" font-size="21.5" text-anchor="middle" fill="#111">H</text>
<text x="2002.8" y="385.6" font-size="21.5" text-anchor="middle" fill="#111">O</text>
<line x1="1991.5" y1="385.1" x2="1975.5" y2="393.5" stroke="#111" stroke-width="2.0"/>
<path d="M1435.4,378.9 L1462.8,393.3 L1490.2,378.9 L1517.6,393.3 L1545.0,378.9 L1572.4,393.3 L1603.2,393.3 L1630.6,378.9 L1659.7,393.3 L1690.5,393.3 L1717.9,378.9 L1747.0,393.3 L1777.8,393.3 L1805.2,378.9 L1834.3,393.3 L1865.1,393.3 L1894.3,378.9 L1920.0,393.3 L1947.3,378.9 L1975.5,393.5" fill="none" stroke="#111" stroke-width="2.0"/>
<line x1="1575.4" y1="388.1" x2="1600.2" y2="388.1" stroke="#111" stroke-width="2.0"/>
<line x1="1662.7" y1="388.1" x2="1687.5" y2="388.1" stroke="#111" stroke-width="2.0"/>
<line x1="1750.0" y1="388.1" x2="1774.8" y2="388.1" stroke="#111" stroke-width="2.0"/>
<line x1="1837.3" y1="388.1" x2="1862.1" y2="388.1" stroke="#111" stroke-width="2.0"/>
<line x1="1973.3" y1="394.0" x2="1973.3" y2="414.8" stroke="#111" stroke-width="2.0"/>
<line x1="1977.7" y1="394.0" x2="1977.7" y2="414.8" stroke="#111" stroke-width="2.0"/>
<text x="1974.6" y="433.2" font-size="21.5" text-anchor="middle" fill="#111">O</text>
</g>
<line x1="1542.9" y1="1558.4" x2="1575.2" y2="1506.7" stroke="#111" stroke-width="2.2" stroke-linecap="butt"/>
<text x="1592.0" y="1503.1" font-size="24.0" font-weight="normal" text-anchor="middle" fill="#111" font-family="Liberation Sans, Arial, sans-serif">OH</text>
<line x1="1609.7" y1="1540.0" x2="1640.0" y2="1557.3" stroke="#111" stroke-width="2.2" stroke-linecap="butt"/>
<text x="1648.4" y="1573.5" font-size="24.0" font-weight="normal" text-anchor="middle" fill="#111" font-family="Liberation Sans, Arial, sans-serif">O</text>
<line x1="1662.6" y1="1562.7" x2="1672.3" y2="1560.1" stroke="#111" stroke-width="2.2" stroke-linecap="butt"/>
<text x="1683.0" y="1563.9" font-size="24.0" font-weight="normal" text-anchor="middle" fill="#111" font-family="Liberation Sans, Arial, sans-serif">P</text>
<line x1="1682.0" y1="1532.5" x2="1682.0" y2="1544.4" stroke="#111" stroke-width="2.2" stroke-linecap="butt"/>
<line x1="1687.4" y1="1532.5" x2="1687.4" y2="1544.4" stroke="#111" stroke-width="2.2" stroke-linecap="butt"/>
<text x="1684.5" y="1519.6" font-size="24.0" font-weight="normal" text-anchor="middle" fill="#111" font-family="Liberation Sans, Arial, sans-serif">O</text>
<line x1="1696.0" y1="1557.3" x2="1706.8" y2="1561.6" stroke="#111" stroke-width="2.2" stroke-linecap="butt"/>
<text x="1728.3" y="1573.8" font-size="24.0" font-weight="normal" text-anchor="middle" fill="#111" font-family="Liberation Sans, Arial, sans-serif">OH</text>
<line x1="1683.0" y1="1569.2" x2="1680.9" y2="1577.8" stroke="#111" stroke-width="2.2" stroke-linecap="butt"/>
<text x="1682.5" y="1599.4" font-size="24.0" font-weight="normal" text-anchor="middle" fill="#111" font-family="Liberation Sans, Arial, sans-serif">OH</text>
<text x="1615.6" y="1536.4" font-size="29.0" font-weight="normal" text-anchor="middle" fill="#1878BE" font-family="Liberation Sans, Arial, sans-serif">4</text>
<text x="1442.0" y="1626.2" font-size="30.5" font-weight="bold" text-anchor="middle" fill="#1878BE" font-family="Liberation Sans, Arial, sans-serif">1</text>
<g transform="translate(-295.95,1008.69) scale(1.1180)" font-family="Liberation Sans, Arial, sans-serif">
<path d="M1935.2,335.7 L1907.5,351.5 L1879.8,335.7 L1852.1,351.5 L1824.4,335.7 L1796.7,351.5 L1769.0,335.7 L1741.3,351.5 L1713.6,335.7 L1685.9,351.5 L1658.2,335.7 L1630.5,351.5 L1602.8,335.7 L1575.1,351.5 L1547.4,335.7 L1519.7,351.5 L1492.0,335.7 L1464.3,351.5" fill="none" stroke="#111" stroke-width="2.0" stroke-linejoin="miter"/>
<line x1="1933.0" y1="314.5" x2="1933.0" y2="336.0" stroke="#111" stroke-width="2.0"/>
<line x1="1937.6" y1="314.5" x2="1937.6" y2="334.0" stroke="#111" stroke-width="2.0"/>
<text x="1935.2" y="311.1" font-size="21.5" text-anchor="middle" fill="#111">O</text>
<line x1="1935.2" y1="335.7" x2="1953.5" y2="345.4" stroke="#111" stroke-width="2.0"/>
<text x="1963.0" y="358.7" font-size="21.5" text-anchor="middle" fill="#111">O</text>
<path d="M1972.5,345.5 L1990.8,334.9 L2018.2,350.1 L2046.3,334.9 L2063,344" fill="none" stroke="#111" stroke-width="2.0"/>
<text x="2072.9" y="358.6" font-size="21.5" text-anchor="middle" fill="#111">O</text>
<line x1="2084.4" y1="347.8" x2="2093.5" y2="345.5" stroke="#111" stroke-width="2.0"/>
<text x="2104.0" y="350.4" font-size="21.5" text-anchor="middle" fill="#111">P</text>
<line x1="2101.9" y1="321.5" x2="2101.9" y2="333.0" stroke="#111" stroke-width="2.0"/>
<line x1="2106.4" y1="321.5" x2="2106.4" y2="333.0" stroke="#111" stroke-width="2.0"/>
<text x="2104.2" y="318.4" font-size="21.5" text-anchor="middle" fill="#111">O</text>
<line x1="2101.0" y1="354.0" x2="2098.8" y2="363.0" stroke="#111" stroke-width="2.0"/>
<text x="2098.0" y="381.6" font-size="21.5" text-anchor="middle" fill="#111">O</text>
<text x="2107" y="371" font-size="15.0" fill="#111">-</text>
<line x1="2112.5" y1="344.0" x2="2123.2" y2="347.8" stroke="#111" stroke-width="2.0"/>
<text x="2134.5" y="358.6" font-size="21.5" text-anchor="middle" fill="#111">O</text>
<line x1="2145.2" y1="357.0" x2="2153.9" y2="362.6" stroke="#111" stroke-width="2.0"/>
<line x1="2153.9" y1="362.6" x2="2184.5" y2="308.2" stroke="#111" stroke-width="2.0"/>
<line x1="2184.5" y1="308.2" x2="2210.7" y2="316.0" stroke="#111" stroke-width="2.0"/>
<line x1="2218.8" y1="317.8" x2="2247.2" y2="325.4" stroke="#111" stroke-width="2.0"/>
<line x1="2247.2" y1="325.4" x2="2307.7" y2="308.2" stroke="#111" stroke-width="2.0"/>
<line x1="2307.7" y1="308.2" x2="2276.4" y2="363.3" stroke="#111" stroke-width="2.0"/>
<line x1="2214.7" y1="306.0" x2="2214.7" y2="346.0" stroke="#111" stroke-width="2.0"/>
<path d="M2153.9,362.6 L2214.7,341.8 L2214.7,350.2 Z" fill="#111"/>
<path d="M2276.4,363.3 L2214.7,341.8 L2214.7,350.2 Z" fill="#111"/>
<line x1="2184.5" y1="308.2" x2="2174.3" y2="312.3" stroke="#111" stroke-width="2.0"/>
<text x="2155.7" y="322.6" font-size="21.5" text-anchor="middle" fill="#111">HO</text>
<text x="2222.0" y="304.0" font-size="21.5" text-anchor="middle" fill="#111">OH</text>
<line x1="2276.4" y1="363.3" x2="2291.0" y2="359.0" stroke="#111" stroke-width="2.0"/>
<text x="2311.3" y="363.4" font-size="21.5" text-anchor="middle" fill="#111">OH</text>
<line x1="2018.3" y1="354.2" x2="2016.0" y2="352.6" stroke="#111" stroke-width="1.6"/>
<line x1="2017.0" y1="357.6" x2="2013.3" y2="354.9" stroke="#111" stroke-width="1.6"/>
<line x1="2015.6" y1="360.9" x2="2010.6" y2="357.3" stroke="#111" stroke-width="1.6"/>
<line x1="2014.3" y1="364.2" x2="2007.9" y2="359.6" stroke="#111" stroke-width="1.6"/>
<line x1="2012.9" y1="367.5" x2="2005.2" y2="362.0" stroke="#111" stroke-width="1.6"/>
<line x1="2011.6" y1="370.8" x2="2002.5" y2="364.3" stroke="#111" stroke-width="1.6"/>
<path d="M2018.2,350.1 L2026.0,369.0 L2032.3,364.6 Z" fill="#111"/>
<text x="2034.2" y="386.1" font-size="21.5" text-anchor="middle" fill="#111">H</text>
<text x="2002.8" y="385.6" font-size="21.5" text-anchor="middle" fill="#111">O</text>
<line x1="1991.5" y1="385.1" x2="1975.5" y2="393.5" stroke="#111" stroke-width="2.0"/>
<path d="M1435.4,378.9 L1462.8,393.3 L1490.2,378.9 L1517.6,393.3 L1545.0,378.9 L1572.4,393.3 L1603.2,393.3 L1630.6,378.9 L1659.7,393.3 L1690.5,393.3 L1717.9,378.9 L1747.0,393.3 L1777.8,393.3 L1805.2,378.9 L1834.3,393.3 L1865.1,393.3 L1894.3,378.9 L1920.0,393.3 L1947.3,378.9 L1975.5,393.5" fill="none" stroke="#111" stroke-width="2.0"/>
<line x1="1575.4" y1="388.1" x2="1600.2" y2="388.1" stroke="#111" stroke-width="2.0"/>
<line x1="1662.7" y1="388.1" x2="1687.5" y2="388.1" stroke="#111" stroke-width="2.0"/>
<line x1="1750.0" y1="388.1" x2="1774.8" y2="388.1" stroke="#111" stroke-width="2.0"/>
<line x1="1837.3" y1="388.1" x2="1862.1" y2="388.1" stroke="#111" stroke-width="2.0"/>
<line x1="1973.3" y1="394.0" x2="1973.3" y2="414.8" stroke="#111" stroke-width="2.0"/>
<line x1="1977.7" y1="394.0" x2="1977.7" y2="414.8" stroke="#111" stroke-width="2.0"/>
<text x="1974.6" y="433.2" font-size="21.5" text-anchor="middle" fill="#111">O</text>
</g>
<line x1="2216.4" y1="1370.4" x2="2249.9" y2="1318.7" stroke="#111" stroke-width="2.2" stroke-linecap="butt"/>
<text x="2257.4" y="1314.1" font-size="24.0" font-weight="normal" text-anchor="middle" fill="#111" font-family="Liberation Sans, Arial, sans-serif">O</text>
<line x1="2270.3" y1="1302.5" x2="2282.2" y2="1300.0" stroke="#111" stroke-width="2.2" stroke-linecap="butt"/>
<text x="2293.0" y="1304.7" font-size="24.0" font-weight="normal" text-anchor="middle" fill="#111" font-family="Liberation Sans, Arial, sans-serif">P</text>
<line x1="2289.7" y1="1274.5" x2="2289.7" y2="1286.4" stroke="#111" stroke-width="2.2" stroke-linecap="butt"/>
<line x1="2295.1" y1="1274.5" x2="2295.1" y2="1286.4" stroke="#111" stroke-width="2.2" stroke-linecap="butt"/>
<text x="2292.2" y="1269.5" font-size="24.0" font-weight="normal" text-anchor="middle" fill="#111" font-family="Liberation Sans, Arial, sans-serif">O</text>
<line x1="2302.7" y1="1299.3" x2="2313.5" y2="1302.5" stroke="#111" stroke-width="2.2" stroke-linecap="butt"/>
<text x="2335.0" y="1314.1" font-size="24.0" font-weight="normal" text-anchor="middle" fill="#111" font-family="Liberation Sans, Arial, sans-serif">OH</text>
<line x1="2289.7" y1="1309.0" x2="2287.6" y2="1318.7" stroke="#111" stroke-width="2.2" stroke-linecap="butt"/>
<text x="2273.2" y="1339.9" font-size="24.0" font-weight="normal" text-anchor="middle" fill="#111" font-family="Liberation Sans, Arial, sans-serif">HO</text>
<text x="2214.0" y="1361.7" font-size="26.0" font-weight="bold" text-anchor="middle" fill="#1878BE" font-family="Liberation Sans, Arial, sans-serif">5</text>
<line x1="2284.3" y1="1351.0" x2="2313.5" y2="1369.4" stroke="#111" stroke-width="2.2" stroke-linecap="butt"/>
<text x="2324.2" y="1384.9" font-size="24.0" font-weight="normal" text-anchor="middle" fill="#111" font-family="Liberation Sans, Arial, sans-serif">O</text>
<line x1="2337.2" y1="1372.6" x2="2348.0" y2="1370.0" stroke="#111" stroke-width="2.2" stroke-linecap="butt"/>
<text x="2359.2" y="1373.3" font-size="24.0" font-weight="normal" text-anchor="middle" fill="#111" font-family="Liberation Sans, Arial, sans-serif">P</text>
<line x1="2356.6" y1="1344.6" x2="2356.6" y2="1356.4" stroke="#111" stroke-width="2.2" stroke-linecap="butt"/>
<line x1="2362.0" y1="1344.6" x2="2362.0" y2="1356.4" stroke="#111" stroke-width="2.2" stroke-linecap="butt"/>
<text x="2358.5" y="1340.8" font-size="24.0" font-weight="normal" text-anchor="middle" fill="#111" font-family="Liberation Sans, Arial, sans-serif">O</text>
<line x1="2369.5" y1="1369.4" x2="2380.3" y2="1372.6" stroke="#111" stroke-width="2.2" stroke-linecap="butt"/>
<text x="2402.5" y="1384.9" font-size="24.0" font-weight="normal" text-anchor="middle" fill="#111" font-family="Liberation Sans, Arial, sans-serif">OH</text>
<line x1="2357.6" y1="1380.1" x2="2355.5" y2="1388.8" stroke="#111" stroke-width="2.2" stroke-linecap="butt"/>
<text x="2359.2" y="1411.1" font-size="24.0" font-weight="normal" text-anchor="middle" fill="#111" font-family="Liberation Sans, Arial, sans-serif">OH</text>
<text x="2306.4" y="1355.7" font-size="26.0" font-weight="normal" text-anchor="middle" fill="#1878BE" font-family="Liberation Sans, Arial, sans-serif">4</text>
<text x="2109.7" y="1443.8" font-size="28.0" font-weight="bold" text-anchor="middle" fill="#1878BE" font-family="Liberation Sans, Arial, sans-serif">1</text>
<text x="609.8" y="1463.0" font-size="59.4" font-weight="bold" text-anchor="start" fill="#000" font-family="'Liberation Sans', Arial, sans-serif" >PI(4)P 18:0/20:4</text>
<text x="677.4" y="1537.1" font-size="59.4" font-weight="bold" text-anchor="start" fill="#000" font-family="'Liberation Sans', Arial, sans-serif" >PI(4)P 38:4</text>
<text x="1209.8" y="1265.5" font-size="59.7" font-weight="bold" text-anchor="start" fill="#000" font-family="'Liberation Sans', Arial, sans-serif" >PI(4,5)P</text>
<text x="0.0" y="0.0" font-size="25.1" font-weight="bold" text-anchor="start" fill="#000" font-family="'Liberation Sans', Arial, sans-serif" transform="translate(1427.7,1286.0) scale(1.300,1)" >2</text>
<text x="1461.6" y="1265.5" font-size="59.7" font-weight="bold" text-anchor="start" fill="#000" font-family="'Liberation Sans', Arial, sans-serif" >18:0/20:4</text>
<text x="1283.4" y="1342.9" font-size="59.7" font-weight="bold" text-anchor="start" fill="#000" font-family="'Liberation Sans', Arial, sans-serif" >PI(4,5)P</text>
<text x="0.0" y="0.0" font-size="25.1" font-weight="bold" text-anchor="start" fill="#000" font-family="'Liberation Sans', Arial, sans-serif" transform="translate(1502.0,1361.0) scale(1.300,1)" >2</text>
<text x="1534.5" y="1342.9" font-size="59.7" font-weight="bold" text-anchor="start" fill="#000" font-family="'Liberation Sans', Arial, sans-serif" >38:4</text>
<line x1="1560.9" y1="1623.8" x2="1787.5" y2="1750.2" stroke="#2A9BD8" stroke-width="5.5" stroke-linecap="butt"/>
<path d="M1803.7,1759.0 L1780.7,1725.6 L1782.1,1747.2 L1761.8,1757.0 Z" fill="#2A9BD8"/>
<line x1="2159.5" y1="1458.5" x2="2032.2" y2="1725.8" stroke="#2A9BD8" stroke-width="5.5" stroke-linecap="butt"/>
<path d="M2023.5,1742.3 L2023.5,1700.5 L2035.1,1720.3 L2058.2,1718.0 Z" fill="#2A9BD8"/>
<text x="52.2" y="1146.0" font-size="80.3" font-weight="bold" text-anchor="start" fill="#000" font-family="'Liberation Sans', Arial, sans-serif" >c</text>
<line x1="206.6" y1="1180.3" x2="206.6" y2="1814.8" stroke="#000" stroke-width="1.7" stroke-linecap="butt"/>
<line x1="206.6" y1="1814.0" x2="2160.5" y2="1814.0" stroke="#000" stroke-width="1.8" stroke-linecap="butt"/>
<line x1="189.8" y1="1814.0" x2="206.6" y2="1814.0" stroke="#000" stroke-width="1.5" stroke-linecap="butt"/>
<text x="171.0" y="1824.8" font-size="27.0" font-weight="normal" text-anchor="start" fill="#000" font-family="'Liberation Sans', Arial, sans-serif" >0</text>
<line x1="195.1" y1="1801.3" x2="206.6" y2="1801.3" stroke="#000" stroke-width="1.5" stroke-linecap="butt"/>
<line x1="195.1" y1="1788.7" x2="206.6" y2="1788.7" stroke="#000" stroke-width="1.5" stroke-linecap="butt"/>
<line x1="195.1" y1="1776.0" x2="206.6" y2="1776.0" stroke="#000" stroke-width="1.5" stroke-linecap="butt"/>
<line x1="195.1" y1="1763.3" x2="206.6" y2="1763.3" stroke="#000" stroke-width="1.5" stroke-linecap="butt"/>
<line x1="189.8" y1="1750.7" x2="206.6" y2="1750.7" stroke="#000" stroke-width="1.5" stroke-linecap="butt"/>
<text x="156.0" y="1761.5" font-size="27.0" font-weight="normal" text-anchor="start" fill="#000" font-family="'Liberation Sans', Arial, sans-serif" >10</text>
<line x1="195.1" y1="1738.0" x2="206.6" y2="1738.0" stroke="#000" stroke-width="1.5" stroke-linecap="butt"/>
<line x1="195.1" y1="1725.4" x2="206.6" y2="1725.4" stroke="#000" stroke-width="1.5" stroke-linecap="butt"/>
<line x1="195.1" y1="1712.7" x2="206.6" y2="1712.7" stroke="#000" stroke-width="1.5" stroke-linecap="butt"/>
<line x1="195.1" y1="1700.0" x2="206.6" y2="1700.0" stroke="#000" stroke-width="1.5" stroke-linecap="butt"/>
<line x1="189.8" y1="1687.4" x2="206.6" y2="1687.4" stroke="#000" stroke-width="1.5" stroke-linecap="butt"/>
<text x="156.0" y="1698.1" font-size="27.0" font-weight="normal" text-anchor="start" fill="#000" font-family="'Liberation Sans', Arial, sans-serif" >20</text>
<line x1="195.1" y1="1674.7" x2="206.6" y2="1674.7" stroke="#000" stroke-width="1.5" stroke-linecap="butt"/>
<line x1="195.1" y1="1662.0" x2="206.6" y2="1662.0" stroke="#000" stroke-width="1.5" stroke-linecap="butt"/>
<line x1="195.1" y1="1649.4" x2="206.6" y2="1649.4" stroke="#000" stroke-width="1.5" stroke-linecap="butt"/>
<line x1="195.1" y1="1636.7" x2="206.6" y2="1636.7" stroke="#000" stroke-width="1.5" stroke-linecap="butt"/>
<line x1="189.8" y1="1624.0" x2="206.6" y2="1624.0" stroke="#000" stroke-width="1.5" stroke-linecap="butt"/>
<text x="156.0" y="1634.8" font-size="27.0" font-weight="normal" text-anchor="start" fill="#000" font-family="'Liberation Sans', Arial, sans-serif" >30</text>
<line x1="195.1" y1="1611.4" x2="206.6" y2="1611.4" stroke="#000" stroke-width="1.5" stroke-linecap="butt"/>
<line x1="195.1" y1="1598.7" x2="206.6" y2="1598.7" stroke="#000" stroke-width="1.5" stroke-linecap="butt"/>
<line x1="195.1" y1="1586.0" x2="206.6" y2="1586.0" stroke="#000" stroke-width="1.5" stroke-linecap="butt"/>
<line x1="195.1" y1="1573.4" x2="206.6" y2="1573.4" stroke="#000" stroke-width="1.5" stroke-linecap="butt"/>
<line x1="189.8" y1="1560.7" x2="206.6" y2="1560.7" stroke="#000" stroke-width="1.5" stroke-linecap="butt"/>
<text x="156.0" y="1571.5" font-size="27.0" font-weight="normal" text-anchor="start" fill="#000" font-family="'Liberation Sans', Arial, sans-serif" >40</text>
<line x1="195.1" y1="1548.1" x2="206.6" y2="1548.1" stroke="#000" stroke-width="1.5" stroke-linecap="butt"/>
<line x1="195.1" y1="1535.4" x2="206.6" y2="1535.4" stroke="#000" stroke-width="1.5" stroke-linecap="butt"/>
<line x1="195.1" y1="1522.7" x2="206.6" y2="1522.7" stroke="#000" stroke-width="1.5" stroke-linecap="butt"/>
<line x1="195.1" y1="1510.1" x2="206.6" y2="1510.1" stroke="#000" stroke-width="1.5" stroke-linecap="butt"/>
<line x1="189.8" y1="1497.4" x2="206.6" y2="1497.4" stroke="#000" stroke-width="1.5" stroke-linecap="butt"/>
<text x="156.0" y="1508.2" font-size="27.0" font-weight="normal" text-anchor="start" fill="#000" font-family="'Liberation Sans', Arial, sans-serif" >50</text>
<line x1="195.1" y1="1484.7" x2="206.6" y2="1484.7" stroke="#000" stroke-width="1.5" stroke-linecap="butt"/>
<line x1="195.1" y1="1472.1" x2="206.6" y2="1472.1" stroke="#000" stroke-width="1.5" stroke-linecap="butt"/>
<line x1="195.1" y1="1459.4" x2="206.6" y2="1459.4" stroke="#000" stroke-width="1.5" stroke-linecap="butt"/>
<line x1="195.1" y1="1446.7" x2="206.6" y2="1446.7" stroke="#000" stroke-width="1.5" stroke-linecap="butt"/>
<line x1="189.8" y1="1434.1" x2="206.6" y2="1434.1" stroke="#000" stroke-width="1.5" stroke-linecap="butt"/>
<text x="156.0" y="1444.9" font-size="27.0" font-weight="normal" text-anchor="start" fill="#000" font-family="'Liberation Sans', Arial, sans-serif" >60</text>
<line x1="195.1" y1="1421.4" x2="206.6" y2="1421.4" stroke="#000" stroke-width="1.5" stroke-linecap="butt"/>
<line x1="195.1" y1="1408.8" x2="206.6" y2="1408.8" stroke="#000" stroke-width="1.5" stroke-linecap="butt"/>
<line x1="195.1" y1="1396.1" x2="206.6" y2="1396.1" stroke="#000" stroke-width="1.5" stroke-linecap="butt"/>
<line x1="195.1" y1="1383.4" x2="206.6" y2="1383.4" stroke="#000" stroke-width="1.5" stroke-linecap="butt"/>
<line x1="189.8" y1="1370.8" x2="206.6" y2="1370.8" stroke="#000" stroke-width="1.5" stroke-linecap="butt"/>
<text x="156.0" y="1381.5" font-size="27.0" font-weight="normal" text-anchor="start" fill="#000" font-family="'Liberation Sans', Arial, sans-serif" >70</text>
<line x1="195.1" y1="1358.1" x2="206.6" y2="1358.1" stroke="#000" stroke-width="1.5" stroke-linecap="butt"/>
<line x1="195.1" y1="1345.4" x2="206.6" y2="1345.4" stroke="#000" stroke-width="1.5" stroke-linecap="butt"/>
<line x1="195.1" y1="1332.8" x2="206.6" y2="1332.8" stroke="#000" stroke-width="1.5" stroke-linecap="butt"/>
<line x1="195.1" y1="1320.1" x2="206.6" y2="1320.1" stroke="#000" stroke-width="1.5" stroke-linecap="butt"/>
<line x1="189.8" y1="1307.4" x2="206.6" y2="1307.4" stroke="#000" stroke-width="1.5" stroke-linecap="butt"/>
<text x="156.0" y="1318.2" font-size="27.0" font-weight="normal" text-anchor="start" fill="#000" font-family="'Liberation Sans', Arial, sans-serif" >80</text>
<line x1="195.1" y1="1294.8" x2="206.6" y2="1294.8" stroke="#000" stroke-width="1.5" stroke-linecap="butt"/>
<line x1="195.1" y1="1282.1" x2="206.6" y2="1282.1" stroke="#000" stroke-width="1.5" stroke-linecap="butt"/>
<line x1="195.1" y1="1269.4" x2="206.6" y2="1269.4" stroke="#000" stroke-width="1.5" stroke-linecap="butt"/>
<line x1="195.1" y1="1256.8" x2="206.6" y2="1256.8" stroke="#000" stroke-width="1.5" stroke-linecap="butt"/>
<line x1="189.8" y1="1244.1" x2="206.6" y2="1244.1" stroke="#000" stroke-width="1.5" stroke-linecap="butt"/>
<text x="156.0" y="1254.9" font-size="27.0" font-weight="normal" text-anchor="start" fill="#000" font-family="'Liberation Sans', Arial, sans-serif" >90</text>
<line x1="195.1" y1="1231.5" x2="206.6" y2="1231.5" stroke="#000" stroke-width="1.5" stroke-linecap="butt"/>
<line x1="195.1" y1="1218.8" x2="206.6" y2="1218.8" stroke="#000" stroke-width="1.5" stroke-linecap="butt"/>
<line x1="195.1" y1="1206.1" x2="206.6" y2="1206.1" stroke="#000" stroke-width="1.5" stroke-linecap="butt"/>
<line x1="195.1" y1="1193.5" x2="206.6" y2="1193.5" stroke="#000" stroke-width="1.5" stroke-linecap="butt"/>
<line x1="189.8" y1="1180.8" x2="206.6" y2="1180.8" stroke="#000" stroke-width="1.5" stroke-linecap="butt"/>
<text x="141.0" y="1191.6" font-size="27.0" font-weight="normal" text-anchor="start" fill="#000" font-family="'Liberation Sans', Arial, sans-serif" >100</text>
<line x1="206.6" y1="1814.0" x2="206.6" y2="1833.0" stroke="#000" stroke-width="1.5" stroke-linecap="butt"/>
<text x="183.7" y="1858.6" font-size="27.5" font-weight="normal" text-anchor="start" fill="#000" font-family="'Liberation Sans', Arial, sans-serif" >300</text>
<line x1="218.8" y1="1814.0" x2="218.8" y2="1821.6" stroke="#000" stroke-width="1.5" stroke-linecap="butt"/>
<line x1="231.0" y1="1814.0" x2="231.0" y2="1821.6" stroke="#000" stroke-width="1.5" stroke-linecap="butt"/>
<line x1="243.2" y1="1814.0" x2="243.2" y2="1821.6" stroke="#000" stroke-width="1.5" stroke-linecap="butt"/>
<line x1="255.4" y1="1814.0" x2="255.4" y2="1826.7" stroke="#000" stroke-width="1.5" stroke-linecap="butt"/>
<line x1="267.7" y1="1814.0" x2="267.7" y2="1821.6" stroke="#000" stroke-width="1.5" stroke-linecap="butt"/>
<line x1="279.9" y1="1814.0" x2="279.9" y2="1821.6" stroke="#000" stroke-width="1.5" stroke-linecap="butt"/>
<line x1="292.1" y1="1814.0" x2="292.1" y2="1821.6" stroke="#000" stroke-width="1.5" stroke-linecap="butt"/>
<line x1="304.3" y1="1814.0" x2="304.3" y2="1826.7" stroke="#000" stroke-width="1.5" stroke-linecap="butt"/>
<line x1="316.5" y1="1814.0" x2="316.5" y2="1821.6" stroke="#000" stroke-width="1.5" stroke-linecap="butt"/>
<line x1="328.7" y1="1814.0" x2="328.7" y2="1821.6" stroke="#000" stroke-width="1.5" stroke-linecap="butt"/>
<line x1="340.9" y1="1814.0" x2="340.9" y2="1821.6" stroke="#000" stroke-width="1.5" stroke-linecap="butt"/>
<line x1="353.1" y1="1814.0" x2="353.1" y2="1826.7" stroke="#000" stroke-width="1.5" stroke-linecap="butt"/>
<line x1="365.4" y1="1814.0" x2="365.4" y2="1821.6" stroke="#000" stroke-width="1.5" stroke-linecap="butt"/>
<line x1="377.6" y1="1814.0" x2="377.6" y2="1821.6" stroke="#000" stroke-width="1.5" stroke-linecap="butt"/>
<line x1="389.8" y1="1814.0" x2="389.8" y2="1821.6" stroke="#000" stroke-width="1.5" stroke-linecap="butt"/>
<line x1="402.0" y1="1814.0" x2="402.0" y2="1826.7" stroke="#000" stroke-width="1.5" stroke-linecap="butt"/>
<line x1="414.2" y1="1814.0" x2="414.2" y2="1821.6" stroke="#000" stroke-width="1.5" stroke-linecap="butt"/>
<line x1="426.4" y1="1814.0" x2="426.4" y2="1821.6" stroke="#000" stroke-width="1.5" stroke-linecap="butt"/>
<line x1="438.6" y1="1814.0" x2="438.6" y2="1821.6" stroke="#000" stroke-width="1.5" stroke-linecap="butt"/>
<line x1="450.9" y1="1814.0" x2="450.9" y2="1833.0" stroke="#000" stroke-width="1.5" stroke-linecap="butt"/>
<text x="428.1" y="1858.6" font-size="27.5" font-weight="normal" text-anchor="start" fill="#000" font-family="'Liberation Sans', Arial, sans-serif" >400</text>
<line x1="463.1" y1="1814.0" x2="463.1" y2="1821.6" stroke="#000" stroke-width="1.5" stroke-linecap="butt"/>
<line x1="475.3" y1="1814.0" x2="475.3" y2="1821.6" stroke="#000" stroke-width="1.5" stroke-linecap="butt"/>
<line x1="487.5" y1="1814.0" x2="487.5" y2="1821.6" stroke="#000" stroke-width="1.5" stroke-linecap="butt"/>
<line x1="499.7" y1="1814.0" x2="499.7" y2="1826.7" stroke="#000" stroke-width="1.5" stroke-linecap="butt"/>
<line x1="511.9" y1="1814.0" x2="511.9" y2="1821.6" stroke="#000" stroke-width="1.5" stroke-linecap="butt"/>
<line x1="524.1" y1="1814.0" x2="524.1" y2="1821.6" stroke="#000" stroke-width="1.5" stroke-linecap="butt"/>
<line x1="536.3" y1="1814.0" x2="536.3" y2="1821.6" stroke="#000" stroke-width="1.5" stroke-linecap="butt"/>
<line x1="548.5" y1="1814.0" x2="548.5" y2="1826.7" stroke="#000" stroke-width="1.5" stroke-linecap="butt"/>
<line x1="560.8" y1="1814.0" x2="560.8" y2="1821.6" stroke="#000" stroke-width="1.5" stroke-linecap="butt"/>
<line x1="573.0" y1="1814.0" x2="573.0" y2="1821.6" stroke="#000" stroke-width="1.5" stroke-linecap="butt"/>
<line x1="585.2" y1="1814.0" x2="585.2" y2="1821.6" stroke="#000" stroke-width="1.5" stroke-linecap="butt"/>
<line x1="597.4" y1="1814.0" x2="597.4" y2="1826.7" stroke="#000" stroke-width="1.5" stroke-linecap="butt"/>
<line x1="609.6" y1="1814.0" x2="609.6" y2="1821.6" stroke="#000" stroke-width="1.5" stroke-linecap="butt"/>
<line x1="621.8" y1="1814.0" x2="621.8" y2="1821.6" stroke="#000" stroke-width="1.5" stroke-linecap="butt"/>
<line x1="634.0" y1="1814.0" x2="634.0" y2="1821.6" stroke="#000" stroke-width="1.5" stroke-linecap="butt"/>
<line x1="646.2" y1="1814.0" x2="646.2" y2="1826.7" stroke="#000" stroke-width="1.5" stroke-linecap="butt"/>
<line x1="658.5" y1="1814.0" x2="658.5" y2="1821.6" stroke="#000" stroke-width="1.5" stroke-linecap="butt"/>
<line x1="670.7" y1="1814.0" x2="670.7" y2="1821.6" stroke="#000" stroke-width="1.5" stroke-linecap="butt"/>
<line x1="682.9" y1="1814.0" x2="682.9" y2="1821.6" stroke="#000" stroke-width="1.5" stroke-linecap="butt"/>
<line x1="695.1" y1="1814.0" x2="695.1" y2="1833.0" stroke="#000" stroke-width="1.5" stroke-linecap="butt"/>
<text x="672.1" y="1858.6" font-size="27.5" font-weight="normal" text-anchor="start" fill="#000" font-family="'Liberation Sans', Arial, sans-serif" >500</text>
<line x1="707.3" y1="1814.0" x2="707.3" y2="1821.6" stroke="#000" stroke-width="1.5" stroke-linecap="butt"/>
<line x1="719.5" y1="1814.0" x2="719.5" y2="1821.6" stroke="#000" stroke-width="1.5" stroke-linecap="butt"/>
<line x1="731.7" y1="1814.0" x2="731.7" y2="1821.6" stroke="#000" stroke-width="1.5" stroke-linecap="butt"/>
<line x1="744.0" y1="1814.0" x2="744.0" y2="1826.7" stroke="#000" stroke-width="1.5" stroke-linecap="butt"/>
<line x1="756.2" y1="1814.0" x2="756.2" y2="1821.6" stroke="#000" stroke-width="1.5" stroke-linecap="butt"/>
<line x1="768.4" y1="1814.0" x2="768.4" y2="1821.6" stroke="#000" stroke-width="1.5" stroke-linecap="butt"/>
<line x1="780.6" y1="1814.0" x2="780.6" y2="1821.6" stroke="#000" stroke-width="1.5" stroke-linecap="butt"/>
<line x1="792.8" y1="1814.0" x2="792.8" y2="1826.7" stroke="#000" stroke-width="1.5" stroke-linecap="butt"/>
<line x1="805.0" y1="1814.0" x2="805.0" y2="1821.6" stroke="#000" stroke-width="1.5" stroke-linecap="butt"/>
<line x1="817.2" y1="1814.0" x2="817.2" y2="1821.6" stroke="#000" stroke-width="1.5" stroke-linecap="butt"/>
<line x1="829.4" y1="1814.0" x2="829.4" y2="1821.6" stroke="#000" stroke-width="1.5" stroke-linecap="butt"/>
<line x1="841.6" y1="1814.0" x2="841.6" y2="1826.7" stroke="#000" stroke-width="1.5" stroke-linecap="butt"/>
<line x1="853.9" y1="1814.0" x2="853.9" y2="1821.6" stroke="#000" stroke-width="1.5" stroke-linecap="butt"/>
<line x1="866.1" y1="1814.0" x2="866.1" y2="1821.6" stroke="#000" stroke-width="1.5" stroke-linecap="butt"/>
<line x1="878.3" y1="1814.0" x2="878.3" y2="1821.6" stroke="#000" stroke-width="1.5" stroke-linecap="butt"/>
<line x1="890.5" y1="1814.0" x2="890.5" y2="1826.7" stroke="#000" stroke-width="1.5" stroke-linecap="butt"/>
<line x1="902.7" y1="1814.0" x2="902.7" y2="1821.6" stroke="#000" stroke-width="1.5" stroke-linecap="butt"/>
<line x1="914.9" y1="1814.0" x2="914.9" y2="1821.6" stroke="#000" stroke-width="1.5" stroke-linecap="butt"/>
<line x1="927.1" y1="1814.0" x2="927.1" y2="1821.6" stroke="#000" stroke-width="1.5" stroke-linecap="butt"/>
<line x1="939.4" y1="1814.0" x2="939.4" y2="1833.0" stroke="#000" stroke-width="1.5" stroke-linecap="butt"/>
<text x="916.2" y="1858.6" font-size="27.5" font-weight="normal" text-anchor="start" fill="#000" font-family="'Liberation Sans', Arial, sans-serif" >600</text>
<line x1="951.6" y1="1814.0" x2="951.6" y2="1821.6" stroke="#000" stroke-width="1.5" stroke-linecap="butt"/>
<line x1="963.8" y1="1814.0" x2="963.8" y2="1821.6" stroke="#000" stroke-width="1.5" stroke-linecap="butt"/>
<line x1="976.0" y1="1814.0" x2="976.0" y2="1821.6" stroke="#000" stroke-width="1.5" stroke-linecap="butt"/>
<line x1="988.2" y1="1814.0" x2="988.2" y2="1826.7" stroke="#000" stroke-width="1.5" stroke-linecap="butt"/>
<line x1="1000.4" y1="1814.0" x2="1000.4" y2="1821.6" stroke="#000" stroke-width="1.5" stroke-linecap="butt"/>
<line x1="1012.6" y1="1814.0" x2="1012.6" y2="1821.6" stroke="#000" stroke-width="1.5" stroke-linecap="butt"/>
<line x1="1024.8" y1="1814.0" x2="1024.8" y2="1821.6" stroke="#000" stroke-width="1.5" stroke-linecap="butt"/>
<line x1="1037.0" y1="1814.0" x2="1037.0" y2="1826.7" stroke="#000" stroke-width="1.5" stroke-linecap="butt"/>
<line x1="1049.3" y1="1814.0" x2="1049.3" y2="1821.6" stroke="#000" stroke-width="1.5" stroke-linecap="butt"/>
<line x1="1061.5" y1="1814.0" x2="1061.5" y2="1821.6" stroke="#000" stroke-width="1.5" stroke-linecap="butt"/>
<line x1="1073.7" y1="1814.0" x2="1073.7" y2="1821.6" stroke="#000" stroke-width="1.5" stroke-linecap="butt"/>
<line x1="1085.9" y1="1814.0" x2="1085.9" y2="1826.7" stroke="#000" stroke-width="1.5" stroke-linecap="butt"/>
<line x1="1098.1" y1="1814.0" x2="1098.1" y2="1821.6" stroke="#000" stroke-width="1.5" stroke-linecap="butt"/>
<line x1="1110.3" y1="1814.0" x2="1110.3" y2="1821.6" stroke="#000" stroke-width="1.5" stroke-linecap="butt"/>
<line x1="1122.5" y1="1814.0" x2="1122.5" y2="1821.6" stroke="#000" stroke-width="1.5" stroke-linecap="butt"/>
<line x1="1134.8" y1="1814.0" x2="1134.8" y2="1826.7" stroke="#000" stroke-width="1.5" stroke-linecap="butt"/>
<line x1="1147.0" y1="1814.0" x2="1147.0" y2="1821.6" stroke="#000" stroke-width="1.5" stroke-linecap="butt"/>
<line x1="1159.2" y1="1814.0" x2="1159.2" y2="1821.6" stroke="#000" stroke-width="1.5" stroke-linecap="butt"/>
<line x1="1171.4" y1="1814.0" x2="1171.4" y2="1821.6" stroke="#000" stroke-width="1.5" stroke-linecap="butt"/>
<line x1="1183.6" y1="1814.0" x2="1183.6" y2="1833.0" stroke="#000" stroke-width="1.5" stroke-linecap="butt"/>
<text x="1160.5" y="1858.6" font-size="27.5" font-weight="normal" text-anchor="start" fill="#000" font-family="'Liberation Sans', Arial, sans-serif" >700</text>
<line x1="1195.8" y1="1814.0" x2="1195.8" y2="1821.6" stroke="#000" stroke-width="1.5" stroke-linecap="butt"/>
<line x1="1208.0" y1="1814.0" x2="1208.0" y2="1821.6" stroke="#000" stroke-width="1.5" stroke-linecap="butt"/>
<line x1="1220.2" y1="1814.0" x2="1220.2" y2="1821.6" stroke="#000" stroke-width="1.5" stroke-linecap="butt"/>
<line x1="1232.4" y1="1814.0" x2="1232.4" y2="1826.7" stroke="#000" stroke-width="1.5" stroke-linecap="butt"/>
<line x1="1244.7" y1="1814.0" x2="1244.7" y2="1821.6" stroke="#000" stroke-width="1.5" stroke-linecap="butt"/>
<line x1="1256.9" y1="1814.0" x2="1256.9" y2="1821.6" stroke="#000" stroke-width="1.5" stroke-linecap="butt"/>
<line x1="1269.1" y1="1814.0" x2="1269.1" y2="1821.6" stroke="#000" stroke-width="1.5" stroke-linecap="butt"/>
<line x1="1281.3" y1="1814.0" x2="1281.3" y2="1826.7" stroke="#000" stroke-width="1.5" stroke-linecap="butt"/>
<line x1="1293.5" y1="1814.0" x2="1293.5" y2="1821.6" stroke="#000" stroke-width="1.5" stroke-linecap="butt"/>
<line x1="1305.7" y1="1814.0" x2="1305.7" y2="1821.6" stroke="#000" stroke-width="1.5" stroke-linecap="butt"/>
<line x1="1317.9" y1="1814.0" x2="1317.9" y2="1821.6" stroke="#000" stroke-width="1.5" stroke-linecap="butt"/>
<line x1="1330.1" y1="1814.0" x2="1330.1" y2="1826.7" stroke="#000" stroke-width="1.5" stroke-linecap="butt"/>
<line x1="1342.4" y1="1814.0" x2="1342.4" y2="1821.6" stroke="#000" stroke-width="1.5" stroke-linecap="butt"/>
<line x1="1354.6" y1="1814.0" x2="1354.6" y2="1821.6" stroke="#000" stroke-width="1.5" stroke-linecap="butt"/>
<line x1="1366.8" y1="1814.0" x2="1366.8" y2="1821.6" stroke="#000" stroke-width="1.5" stroke-linecap="butt"/>
<line x1="1379.0" y1="1814.0" x2="1379.0" y2="1826.7" stroke="#000" stroke-width="1.5" stroke-linecap="butt"/>
<line x1="1391.2" y1="1814.0" x2="1391.2" y2="1821.6" stroke="#000" stroke-width="1.5" stroke-linecap="butt"/>
<line x1="1403.4" y1="1814.0" x2="1403.4" y2="1821.6" stroke="#000" stroke-width="1.5" stroke-linecap="butt"/>
<line x1="1415.6" y1="1814.0" x2="1415.6" y2="1821.6" stroke="#000" stroke-width="1.5" stroke-linecap="butt"/>
<line x1="1427.8" y1="1814.0" x2="1427.8" y2="1833.0" stroke="#000" stroke-width="1.5" stroke-linecap="butt"/>
<text x="1404.8" y="1858.6" font-size="27.5" font-weight="normal" text-anchor="start" fill="#000" font-family="'Liberation Sans', Arial, sans-serif" >800</text>
<line x1="1440.1" y1="1814.0" x2="1440.1" y2="1821.6" stroke="#000" stroke-width="1.5" stroke-linecap="butt"/>
<line x1="1452.3" y1="1814.0" x2="1452.3" y2="1821.6" stroke="#000" stroke-width="1.5" stroke-linecap="butt"/>
<line x1="1464.5" y1="1814.0" x2="1464.5" y2="1821.6" stroke="#000" stroke-width="1.5" stroke-linecap="butt"/>
<line x1="1476.7" y1="1814.0" x2="1476.7" y2="1826.7" stroke="#000" stroke-width="1.5" stroke-linecap="butt"/>
<line x1="1488.9" y1="1814.0" x2="1488.9" y2="1821.6" stroke="#000" stroke-width="1.5" stroke-linecap="butt"/>
<line x1="1501.1" y1="1814.0" x2="1501.1" y2="1821.6" stroke="#000" stroke-width="1.5" stroke-linecap="butt"/>
<line x1="1513.3" y1="1814.0" x2="1513.3" y2="1821.6" stroke="#000" stroke-width="1.5" stroke-linecap="butt"/>
<line x1="1525.5" y1="1814.0" x2="1525.5" y2="1826.7" stroke="#000" stroke-width="1.5" stroke-linecap="butt"/>
<line x1="1537.8" y1="1814.0" x2="1537.8" y2="1821.6" stroke="#000" stroke-width="1.5" stroke-linecap="butt"/>
<line x1="1550.0" y1="1814.0" x2="1550.0" y2="1821.6" stroke="#000" stroke-width="1.5" stroke-linecap="butt"/>
<line x1="1562.2" y1="1814.0" x2="1562.2" y2="1821.6" stroke="#000" stroke-width="1.5" stroke-linecap="butt"/>
<line x1="1574.4" y1="1814.0" x2="1574.4" y2="1826.7" stroke="#000" stroke-width="1.5" stroke-linecap="butt"/>
<line x1="1586.6" y1="1814.0" x2="1586.6" y2="1821.6" stroke="#000" stroke-width="1.5" stroke-linecap="butt"/>
<line x1="1598.8" y1="1814.0" x2="1598.8" y2="1821.6" stroke="#000" stroke-width="1.5" stroke-linecap="butt"/>
<line x1="1611.0" y1="1814.0" x2="1611.0" y2="1821.6" stroke="#000" stroke-width="1.5" stroke-linecap="butt"/>
<line x1="1623.2" y1="1814.0" x2="1623.2" y2="1826.7" stroke="#000" stroke-width="1.5" stroke-linecap="butt"/>
<line x1="1635.5" y1="1814.0" x2="1635.5" y2="1821.6" stroke="#000" stroke-width="1.5" stroke-linecap="butt"/>
<line x1="1647.7" y1="1814.0" x2="1647.7" y2="1821.6" stroke="#000" stroke-width="1.5" stroke-linecap="butt"/>
<line x1="1659.9" y1="1814.0" x2="1659.9" y2="1821.6" stroke="#000" stroke-width="1.5" stroke-linecap="butt"/>
<line x1="1672.1" y1="1814.0" x2="1672.1" y2="1833.0" stroke="#000" stroke-width="1.5" stroke-linecap="butt"/>
<text x="1649.1" y="1858.6" font-size="27.5" font-weight="normal" text-anchor="start" fill="#000" font-family="'Liberation Sans', Arial, sans-serif" >900</text>
<line x1="1684.3" y1="1814.0" x2="1684.3" y2="1821.6" stroke="#000" stroke-width="1.5" stroke-linecap="butt"/>
<line x1="1696.5" y1="1814.0" x2="1696.5" y2="1821.6" stroke="#000" stroke-width="1.5" stroke-linecap="butt"/>
<line x1="1708.7" y1="1814.0" x2="1708.7" y2="1821.6" stroke="#000" stroke-width="1.5" stroke-linecap="butt"/>
<line x1="1720.9" y1="1814.0" x2="1720.9" y2="1826.7" stroke="#000" stroke-width="1.5" stroke-linecap="butt"/>
<line x1="1733.2" y1="1814.0" x2="1733.2" y2="1821.6" stroke="#000" stroke-width="1.5" stroke-linecap="butt"/>
<line x1="1745.4" y1="1814.0" x2="1745.4" y2="1821.6" stroke="#000" stroke-width="1.5" stroke-linecap="butt"/>
<line x1="1757.6" y1="1814.0" x2="1757.6" y2="1821.6" stroke="#000" stroke-width="1.5" stroke-linecap="butt"/>
<line x1="1769.8" y1="1814.0" x2="1769.8" y2="1826.7" stroke="#000" stroke-width="1.5" stroke-linecap="butt"/>
<line x1="1782.0" y1="1814.0" x2="1782.0" y2="1821.6" stroke="#000" stroke-width="1.5" stroke-linecap="butt"/>
<line x1="1794.2" y1="1814.0" x2="1794.2" y2="1821.6" stroke="#000" stroke-width="1.5" stroke-linecap="butt"/>
<line x1="1806.4" y1="1814.0" x2="1806.4" y2="1821.6" stroke="#000" stroke-width="1.5" stroke-linecap="butt"/>
<line x1="1818.6" y1="1814.0" x2="1818.6" y2="1826.7" stroke="#000" stroke-width="1.5" stroke-linecap="butt"/>
<line x1="1830.9" y1="1814.0" x2="1830.9" y2="1821.6" stroke="#000" stroke-width="1.5" stroke-linecap="butt"/>
<line x1="1843.1" y1="1814.0" x2="1843.1" y2="1821.6" stroke="#000" stroke-width="1.5" stroke-linecap="butt"/>
<line x1="1855.3" y1="1814.0" x2="1855.3" y2="1821.6" stroke="#000" stroke-width="1.5" stroke-linecap="butt"/>
<line x1="1867.5" y1="1814.0" x2="1867.5" y2="1826.7" stroke="#000" stroke-width="1.5" stroke-linecap="butt"/>
<line x1="1879.7" y1="1814.0" x2="1879.7" y2="1821.6" stroke="#000" stroke-width="1.5" stroke-linecap="butt"/>
<line x1="1891.9" y1="1814.0" x2="1891.9" y2="1821.6" stroke="#000" stroke-width="1.5" stroke-linecap="butt"/>
<line x1="1904.1" y1="1814.0" x2="1904.1" y2="1821.6" stroke="#000" stroke-width="1.5" stroke-linecap="butt"/>
<line x1="1916.3" y1="1814.0" x2="1916.3" y2="1833.0" stroke="#000" stroke-width="1.5" stroke-linecap="butt"/>
<text x="1885.2" y="1858.6" font-size="27.5" font-weight="normal" text-anchor="start" fill="#000" font-family="'Liberation Sans', Arial, sans-serif" >1000</text>
<line x1="1928.6" y1="1814.0" x2="1928.6" y2="1821.6" stroke="#000" stroke-width="1.5" stroke-linecap="butt"/>
<line x1="1940.8" y1="1814.0" x2="1940.8" y2="1821.6" stroke="#000" stroke-width="1.5" stroke-linecap="butt"/>
<line x1="1953.0" y1="1814.0" x2="1953.0" y2="1821.6" stroke="#000" stroke-width="1.5" stroke-linecap="butt"/>
<line x1="1965.2" y1="1814.0" x2="1965.2" y2="1826.7" stroke="#000" stroke-width="1.5" stroke-linecap="butt"/>
<line x1="1977.4" y1="1814.0" x2="1977.4" y2="1821.6" stroke="#000" stroke-width="1.5" stroke-linecap="butt"/>
<line x1="1989.6" y1="1814.0" x2="1989.6" y2="1821.6" stroke="#000" stroke-width="1.5" stroke-linecap="butt"/>
<line x1="2001.8" y1="1814.0" x2="2001.8" y2="1821.6" stroke="#000" stroke-width="1.5" stroke-linecap="butt"/>
<line x1="2014.0" y1="1814.0" x2="2014.0" y2="1826.7" stroke="#000" stroke-width="1.5" stroke-linecap="butt"/>
<line x1="2026.3" y1="1814.0" x2="2026.3" y2="1821.6" stroke="#000" stroke-width="1.5" stroke-linecap="butt"/>
<line x1="2038.5" y1="1814.0" x2="2038.5" y2="1821.6" stroke="#000" stroke-width="1.5" stroke-linecap="butt"/>
<line x1="2050.7" y1="1814.0" x2="2050.7" y2="1821.6" stroke="#000" stroke-width="1.5" stroke-linecap="butt"/>
<line x1="2062.9" y1="1814.0" x2="2062.9" y2="1826.7" stroke="#000" stroke-width="1.5" stroke-linecap="butt"/>
<line x1="2075.1" y1="1814.0" x2="2075.1" y2="1821.6" stroke="#000" stroke-width="1.5" stroke-linecap="butt"/>
<line x1="2087.3" y1="1814.0" x2="2087.3" y2="1821.6" stroke="#000" stroke-width="1.5" stroke-linecap="butt"/>
<line x1="2099.5" y1="1814.0" x2="2099.5" y2="1821.6" stroke="#000" stroke-width="1.5" stroke-linecap="butt"/>
<line x1="2111.8" y1="1814.0" x2="2111.8" y2="1826.7" stroke="#000" stroke-width="1.5" stroke-linecap="butt"/>
<line x1="2124.0" y1="1814.0" x2="2124.0" y2="1821.6" stroke="#000" stroke-width="1.5" stroke-linecap="butt"/>
<line x1="2136.2" y1="1814.0" x2="2136.2" y2="1821.6" stroke="#000" stroke-width="1.5" stroke-linecap="butt"/>
<line x1="2148.4" y1="1814.0" x2="2148.4" y2="1821.6" stroke="#000" stroke-width="1.5" stroke-linecap="butt"/>
<line x1="2160.6" y1="1814.0" x2="2160.6" y2="1833.0" stroke="#000" stroke-width="1.5" stroke-linecap="butt"/>
<text x="2130.5" y="1858.6" font-size="27.5" font-weight="normal" text-anchor="start" fill="#000" font-family="'Liberation Sans', Arial, sans-serif" >1100</text>
<line x1="1186.0" y1="1882.5" x2="1189.5" y2="1879.0" stroke="#224" stroke-width="2" stroke-linecap="butt"/>
<line x1="413.0" y1="1139.0" x2="420.0" y2="1139.0" stroke="#6060b0" stroke-width="1.6" stroke-linecap="butt"/>
<line x1="2426.6" y1="1276.0" x2="2426.6" y2="1292.0" stroke="#d8d8d8" stroke-width="2" stroke-linecap="butt"/>
<text x="0.0" y="0.0" font-size="28.3" font-weight="normal" text-anchor="start" fill="#000" font-family="'Liberation Sans', Arial, sans-serif" transform="translate(134.2,1621.8) rotate(-90)" >Relative Abundance</text>
<path d="M211.1,1814.0V1809.0 M212.5,1814.0V1809.0 M222.8,1814.0V1809.6 M227.9,1814.0V1799.4 M231.5,1814.0V1812.2 M232.5,1814.0V1803.8 M236.6,1814.0V1812.4 M238.5,1814.0V1799.4 M239.6,1814.0V1807.1 M244.1,1814.0V1812.0 M244.8,1814.0V1802.8 M246.9,1814.0V1804.8 M248.4,1814.0V1812.3 M251.1,1814.0V1799.4 M252.0,1814.0V1800.5 M253.5,1814.0V1799.4 M254.4,1814.0V1803.6 M258.3,1814.0V1799.4 M264.2,1814.0V1804.6 M266.1,1814.0V1799.4 M271.1,1814.0V1805.5 M275.1,1814.0V1812.2 M277.9,1814.0V1799.4 M278.8,1814.0V1811.8 M281.9,1814.0V1799.4 M290.1,1814.0V1806.9 M293.1,1814.0V1804.7 M298.4,1814.0V1805.9 M304.8,1814.0V1807.9 M306.2,1814.0V1806.9 M309.8,1814.0V1804.7 M311.2,1814.0V1801.2 M313.9,1814.0V1805.6 M319.0,1814.0V1799.4 M320.5,1814.0V1799.4 M322.4,1814.0V1802.5 M326.5,1814.0V1809.2 M330.8,1814.0V1809.8 M331.8,1814.0V1810.3 M333.3,1814.0V1811.3 M338.1,1814.0V1805.4 M339.5,1814.0V1803.0 M340.1,1814.0V1809.8 M343.2,1814.0V1807.0 M348.2,1814.0V1805.2 M349.0,1814.0V1811.0 M350.6,1814.0V1807.3 M352.2,1814.0V1803.0 M354.1,1814.0V1799.4 M355.7,1814.0V1809.8 M362.1,1814.0V1806.6 M366.3,1814.0V1799.4 M377.1,1814.0V1802.7 M377.9,1814.0V1803.1 M378.7,1814.0V1808.9 M383.9,1814.0V1808.8 M386.4,1814.0V1801.0 M387.8,1814.0V1810.6 M392.4,1814.0V1808.0 M393.3,1814.0V1809.1 M394.8,1814.0V1799.4 M396.1,1814.0V1802.7 M397.5,1814.0V1805.8 M398.2,1814.0V1810.3 M404.2,1814.0V1811.3 M406.9,1814.0V1803.4 M407.6,1814.0V1812.2 M409.1,1814.0V1810.9 M410.6,1814.0V1804.8 M411.4,1814.0V1812.0 M412.2,1814.0V1810.0 M413.4,1814.0V1808.7 M414.2,1814.0V1807.0 M415.7,1814.0V1800.7 M420.8,1814.0V1799.4 M423.6,1814.0V1812.1 M427.0,1814.0V1803.1 M427.7,1814.0V1805.9 M428.4,1814.0V1806.0 M431.0,1814.0V1804.1 M436.0,1814.0V1812.4 M441.6,1814.0V1803.9 M442.6,1814.0V1808.9 M446.2,1814.0V1809.8 M453.6,1814.0V1807.6 M456.6,1814.0V1799.4 M460.0,1814.0V1799.4 M465.4,1814.0V1809.6 M466.0,1814.0V1806.9 M467.5,1814.0V1799.4 M469.0,1814.0V1806.5 M470.4,1814.0V1810.5 M476.0,1814.0V1807.3 M477.6,1814.0V1810.4 M478.3,1814.0V1810.7 M479.0,1814.0V1799.4 M480.4,1814.0V1799.4 M485.6,1814.0V1799.4 M489.6,1814.0V1807.6 M490.7,1814.0V1806.6 M492.1,1814.0V1805.2 M493.1,1814.0V1812.0 M493.8,1814.0V1804.2 M496.6,1814.0V1799.4 M498.5,1814.0V1799.4 M499.7,1814.0V1799.4 M500.7,1814.0V1799.4 M502.3,1814.0V1799.4 M507.3,1814.0V1810.9 M508.9,1814.0V1812.4 M510.3,1814.0V1805.9 M514.5,1814.0V1802.0 M517.3,1814.0V1807.8 M521.1,1814.0V1799.4 M523.6,1814.0V1812.3 M535.0,1814.0V1811.0 M539.1,1814.0V1809.7 M545.1,1814.0V1807.8 M546.9,1814.0V1808.2 M547.6,1814.0V1807.1 M551.4,1814.0V1807.4 M556.9,1814.0V1811.3 M559.8,1814.0V1811.6 M560.9,1814.0V1811.4 M563.5,1814.0V1804.3 M564.8,1814.0V1806.3 M568.0,1814.0V1809.5 M571.7,1814.0V1809.7 M579.7,1814.0V1806.2 M580.9,1814.0V1799.4 M582.4,1814.0V1809.9 M585.9,1814.0V1804.6 M592.5,1814.0V1807.3 M594.2,1814.0V1811.1 M597.9,1814.0V1812.1 M599.9,1814.0V1812.0 M608.8,1814.0V1812.2 M610.7,1814.0V1804.9 M612.0,1814.0V1802.2 M613.8,1814.0V1809.7 M618.2,1814.0V1810.0 M619.5,1814.0V1799.4 M622.3,1814.0V1805.4 M624.7,1814.0V1811.9 M629.0,1814.0V1809.9 M632.9,1814.0V1807.2 M633.6,1814.0V1810.6 M637.3,1814.0V1805.6 M640.2,1814.0V1810.0 M643.0,1814.0V1807.2 M644.9,1814.0V1810.7 M648.4,1814.0V1811.5 M650.0,1814.0V1809.5 M651.2,1814.0V1799.4 M652.9,1814.0V1808.8 M653.9,1814.0V1809.8 M654.9,1814.0V1811.3 M658.1,1814.0V1799.4 M663.7,1814.0V1804.2 M665.9,1814.0V1811.2 M667.8,1814.0V1808.4 M670.6,1814.0V1811.1 M671.3,1814.0V1807.5 M675.4,1814.0V1811.7 M676.9,1814.0V1811.4 M682.7,1814.0V1811.7 M684.0,1814.0V1807.3 M685.9,1814.0V1807.2 M687.7,1814.0V1799.4 M691.7,1814.0V1799.8 M694.8,1814.0V1801.4 M697.5,1814.0V1801.1 M700.9,1814.0V1804.6 M704.6,1814.0V1809.7 M708.9,1814.0V1808.0 M710.5,1814.0V1809.2 M713.5,1814.0V1811.4 M714.9,1814.0V1810.1 M719.8,1814.0V1811.1 M727.2,1814.0V1809.5 M729.0,1814.0V1810.0 M731.3,1814.0V1807.0 M736.3,1814.0V1810.8 M744.7,1814.0V1805.2 M748.5,1814.0V1799.4 M749.1,1814.0V1812.1 M750.1,1814.0V1801.9 M751.9,1814.0V1811.6 M755.2,1814.0V1810.3 M758.3,1814.0V1812.1 M766.4,1814.0V1807.0 M772.9,1814.0V1807.3 M779.2,1814.0V1799.9 M780.7,1814.0V1808.5 M782.7,1814.0V1809.9 M784.3,1814.0V1805.3 M785.1,1814.0V1806.4 M786.0,1814.0V1809.7 M788.8,1814.0V1810.7 M790.5,1814.0V1799.7 M791.8,1814.0V1809.6 M793.3,1814.0V1808.2 M795.0,1814.0V1810.2 M800.7,1814.0V1806.0 M809.7,1814.0V1810.9 M812.8,1814.0V1805.6 M813.7,1814.0V1812.0 M814.4,1814.0V1808.8 M815.7,1814.0V1809.2 M820.6,1814.0V1811.2 M821.7,1814.0V1799.4 M822.3,1814.0V1806.3 M824.3,1814.0V1810.7 M827.8,1814.0V1811.3 M832.1,1814.0V1809.7 M833.0,1814.0V1799.5 M834.1,1814.0V1799.4 M835.6,1814.0V1811.2 M837.1,1814.0V1811.7 M841.3,1814.0V1804.0 M845.6,1814.0V1812.0 M850.9,1814.0V1812.3 M851.5,1814.0V1812.4 M854.2,1814.0V1811.6 M858.4,1814.0V1811.4 M861.5,1814.0V1811.3 M863.9,1814.0V1812.0 M866.6,1814.0V1807.0 M870.3,1814.0V1803.2 M871.3,1814.0V1811.7 M878.3,1814.0V1807.7 M881.6,1814.0V1808.6 M882.3,1814.0V1811.3 M883.0,1814.0V1811.9 M891.5,1814.0V1811.6 M895.4,1814.0V1802.0 M896.8,1814.0V1808.1 M897.6,1814.0V1808.9 M899.6,1814.0V1809.4 M904.2,1814.0V1812.3 M907.7,1814.0V1810.2 M908.7,1814.0V1799.4 M918.5,1814.0V1811.7 M920.3,1814.0V1807.2 M927.1,1814.0V1806.6 M929.5,1814.0V1810.1 M931.7,1814.0V1806.0 M933.0,1814.0V1803.2 M939.3,1814.0V1806.3 M942.5,1814.0V1807.4 M945.7,1814.0V1811.5 M954.8,1814.0V1807.3 M955.6,1814.0V1812.2 M959.4,1814.0V1811.5 M962.2,1814.0V1811.3 M965.6,1814.0V1807.6 M969.7,1814.0V1810.4 M971.8,1814.0V1808.7 M972.8,1814.0V1810.5 M979.1,1814.0V1805.1 M980.3,1814.0V1809.7 M991.9,1814.0V1805.1 M998.5,1814.0V1799.4 M1002.2,1814.0V1811.5 M1005.9,1814.0V1801.3 M1006.9,1814.0V1811.8 M1008.6,1814.0V1806.7 M1013.2,1814.0V1811.9 M1019.3,1814.0V1807.4 M1020.2,1814.0V1807.9 M1029.4,1814.0V1809.5 M1031.7,1814.0V1808.1 M1035.6,1814.0V1808.7 M1039.1,1814.0V1799.4 M1040.8,1814.0V1806.8 M1042.7,1814.0V1803.1 M1044.8,1814.0V1804.1 M1051.7,1814.0V1805.1 M1052.9,1814.0V1803.2 M1053.8,1814.0V1808.4 M1059.6,1814.0V1801.3 M1061.3,1814.0V1811.5 M1062.0,1814.0V1811.7 M1064.6,1814.0V1811.4 M1068.3,1814.0V1799.4 M1073.1,1814.0V1811.8 M1084.1,1814.0V1812.0 M1085.3,1814.0V1808.6 M1087.6,1814.0V1810.2 M1089.5,1814.0V1807.5 M1094.0,1814.0V1799.4 M1097.8,1814.0V1810.9 M1099.7,1814.0V1807.6 M1101.3,1814.0V1811.1 M1103.0,1814.0V1811.8 M1108.0,1814.0V1811.6 M1110.7,1814.0V1801.7 M1112.6,1814.0V1808.6 M1113.9,1814.0V1810.6 M1123.0,1814.0V1810.7 M1127.8,1814.0V1808.4 M1139.4,1814.0V1812.1 M1140.9,1814.0V1812.1 M1143.8,1814.0V1811.8 M1147.9,1814.0V1811.5 M1154.2,1814.0V1812.0 M1161.2,1814.0V1812.2 M1167.1,1814.0V1810.4 M1170.6,1814.0V1809.1 M1171.3,1814.0V1811.9 M1173.5,1814.0V1812.2 M1177.7,1814.0V1811.6 M1179.6,1814.0V1811.5 M1180.8,1814.0V1811.5 M1182.2,1814.0V1812.1 M1187.5,1814.0V1810.9 M1193.3,1814.0V1810.1 M1196.8,1814.0V1806.7 M1206.0,1814.0V1810.4 M1206.7,1814.0V1809.2 M1209.0,1814.0V1805.7 M1211.3,1814.0V1811.9 M1213.1,1814.0V1808.4 M1217.4,1814.0V1810.9 M1223.4,1814.0V1811.7 M1225.2,1814.0V1811.6 M1228.4,1814.0V1810.5 M1231.6,1814.0V1810.6 M1236.1,1814.0V1812.2 M1237.7,1814.0V1808.9 M1240.8,1814.0V1805.9 M1244.1,1814.0V1811.9 M1245.6,1814.0V1810.1 M1251.6,1814.0V1805.6 M1257.1,1814.0V1805.1 M1265.3,1814.0V1802.1 M1267.4,1814.0V1812.0 M1271.4,1814.0V1801.1 M1273.7,1814.0V1804.0 M1277.6,1814.0V1810.4 M1282.7,1814.0V1810.8 M1283.5,1814.0V1812.1 M1284.8,1814.0V1808.7 M1290.1,1814.0V1812.2 M1297.4,1814.0V1811.1 M1302.2,1814.0V1810.8 M1306.6,1814.0V1806.4 M1308.2,1814.0V1810.3 M1310.4,1814.0V1807.2 M1313.6,1814.0V1812.2 M1316.5,1814.0V1809.2 M1317.7,1814.0V1804.8 M1320.9,1814.0V1809.4 M1324.7,1814.0V1808.4 M1327.6,1814.0V1807.8 M1328.6,1814.0V1811.7 M1333.6,1814.0V1809.4 M1335.3,1814.0V1809.4 M1336.4,1814.0V1811.3 M1338.0,1814.0V1809.0 M1340.1,1814.0V1807.8 M1353.4,1814.0V1811.7 M1363.8,1814.0V1811.3 M1372.8,1814.0V1810.9 M1376.5,1814.0V1812.1 M1381.0,1814.0V1812.2 M1385.6,1814.0V1801.7 M1386.6,1814.0V1810.2 M1389.4,1814.0V1810.6 M1394.4,1814.0V1811.5 M1397.2,1814.0V1811.0 M1399.1,1814.0V1812.3 M1402.5,1814.0V1807.1 M1403.8,1814.0V1811.6 M1405.7,1814.0V1812.1 M1417.9,1814.0V1806.5 M1423.6,1814.0V1810.7 M1438.5,1814.0V1809.3 M1442.4,1814.0V1811.9 M1447.8,1814.0V1799.4 M1450.9,1814.0V1811.9 M1454.1,1814.0V1809.9 M1457.1,1814.0V1811.4 M1457.8,1814.0V1811.2 M1460.7,1814.0V1810.6 M1461.6,1814.0V1799.4 M1462.4,1814.0V1806.5 M1467.4,1814.0V1809.0 M1472.4,1814.0V1805.8 M1474.0,1814.0V1804.6 M1482.1,1814.0V1810.4 M1487.7,1814.0V1809.9 M1488.3,1814.0V1810.8 M1489.5,1814.0V1799.4 M1491.3,1814.0V1808.3 M1493.1,1814.0V1812.4 M1494.9,1814.0V1810.6 M1498.7,1814.0V1811.1 M1499.9,1814.0V1811.6 M1501.3,1814.0V1811.7 M1503.0,1814.0V1809.9 M1504.9,1814.0V1811.0 M1508.4,1814.0V1806.8 M1510.1,1814.0V1805.7 M1513.5,1814.0V1807.2 M1517.5,1814.0V1804.6 M1519.4,1814.0V1799.4 M1529.4,1814.0V1799.4 M1533.2,1814.0V1808.6 M1537.5,1814.0V1803.4 M1538.7,1814.0V1808.0 M1540.0,1814.0V1799.4 M1543.1,1814.0V1806.4 M1545.8,1814.0V1811.1 M1547.2,1814.0V1811.0 M1548.7,1814.0V1811.6 M1553.8,1814.0V1809.7 M1555.4,1814.0V1803.0 M1557.2,1814.0V1806.1 M1558.8,1814.0V1800.4 M1559.7,1814.0V1811.6 M1565.8,1814.0V1800.6 M1566.8,1814.0V1811.7 M1570.2,1814.0V1812.2 M1571.7,1814.0V1805.3 M1573.6,1814.0V1812.2 M1577.9,1814.0V1812.2 M1583.2,1814.0V1809.6 M1584.8,1814.0V1811.5 M1589.9,1814.0V1806.4 M1596.0,1814.0V1811.8 M1597.2,1814.0V1811.4 M1598.5,1814.0V1807.7 M1601.4,1814.0V1807.6 M1607.9,1814.0V1812.0 M1615.0,1814.0V1811.1 M1618.6,1814.0V1812.0 M1620.1,1814.0V1810.7 M1622.1,1814.0V1808.2 M1624.3,1814.0V1804.7 M1625.9,1814.0V1811.6 M1627.2,1814.0V1810.5 M1631.9,1814.0V1801.2 M1633.3,1814.0V1809.9 M1636.5,1814.0V1807.5 M1638.2,1814.0V1801.2 M1639.2,1814.0V1806.9 M1645.2,1814.0V1800.1 M1646.1,1814.0V1803.9 M1648.6,1814.0V1806.5 M1654.1,1814.0V1811.3 M1659.3,1814.0V1811.2 M1661.9,1814.0V1808.8 M1663.3,1814.0V1811.5 M1668.3,1814.0V1807.0 M1677.3,1814.0V1810.9 M1678.4,1814.0V1810.6 M1679.7,1814.0V1811.4 M1684.2,1814.0V1802.7 M1685.0,1814.0V1809.0 M1692.6,1814.0V1812.0 M1705.6,1814.0V1810.6 M1708.0,1814.0V1810.2 M1708.9,1814.0V1806.1 M1710.9,1814.0V1812.2 M1712.4,1814.0V1806.4 M1718.6,1814.0V1808.8 M1721.6,1814.0V1812.0 M1726.6,1814.0V1810.1 M1727.5,1814.0V1811.8 M1732.3,1814.0V1807.0 M1733.9,1814.0V1806.2 M1735.0,1814.0V1809.9 M1736.5,1814.0V1810.9 M1749.1,1814.0V1810.3 M1754.5,1814.0V1811.5 M1758.2,1814.0V1811.4 M1766.4,1814.0V1805.2 M1771.1,1814.0V1810.3 M1772.8,1814.0V1807.9 M1773.6,1814.0V1809.7 M1779.9,1814.0V1809.8 M1789.3,1814.0V1810.8 M1790.3,1814.0V1808.5 M1792.0,1814.0V1811.8 M1808.0,1814.0V1812.2 M1809.5,1814.0V1812.2 M1822.0,1814.0V1805.5 M1825.7,1814.0V1809.9 M1828.2,1814.0V1807.7 M1829.7,1814.0V1811.6 M1832.3,1814.0V1799.5 M1837.4,1814.0V1811.9 M1843.1,1814.0V1807.9 M1844.6,1814.0V1811.0 M1845.8,1814.0V1809.0 M1851.7,1814.0V1811.5 M1853.1,1814.0V1807.9 M1855.9,1814.0V1810.8 M1857.3,1814.0V1808.1 M1861.1,1814.0V1809.5 M1874.7,1814.0V1809.8 M1877.6,1814.0V1811.5 M1878.7,1814.0V1809.3 M1880.3,1814.0V1810.6 M1881.1,1814.0V1812.0 M1894.8,1814.0V1811.6 M1895.9,1814.0V1807.6 M1903.1,1814.0V1811.6 M1908.6,1814.0V1811.8 M1914.6,1814.0V1811.9 M1916.0,1814.0V1810.6 M1917.0,1814.0V1809.5 M1918.0,1814.0V1812.1 M1921.3,1814.0V1805.5 M1922.4,1814.0V1811.0 M1923.0,1814.0V1807.8 M1924.4,1814.0V1812.3 M1926.1,1814.0V1807.7 M1930.7,1814.0V1810.5 M1933.8,1814.0V1808.4 M1937.2,1814.0V1811.4 M1942.9,1814.0V1808.7 M1945.7,1814.0V1809.0 M1947.3,1814.0V1803.0 M1948.6,1814.0V1811.4 M1949.7,1814.0V1805.3 M1951.6,1814.0V1811.6 M1953.4,1814.0V1811.9 M1954.6,1814.0V1810.3 M1959.3,1814.0V1811.5 M1972.0,1814.0V1808.5 M1977.7,1814.0V1801.0 M1986.3,1814.0V1808.7 M1989.6,1814.0V1809.5 M1995.8,1814.0V1811.6 M1998.9,1814.0V1811.8 M2002.0,1814.0V1805.8 M2004.9,1814.0V1812.3 M2017.9,1814.0V1806.8 M2024.9,1814.0V1812.4 M2027.1,1814.0V1809.3 M2027.9,1814.0V1812.0 M2032.4,1814.0V1804.9 M2033.4,1814.0V1811.0 M2035.5,1814.0V1807.2 M2048.3,1814.0V1799.4 M2049.4,1814.0V1809.5 M2051.8,1814.0V1809.6 M2057.9,1814.0V1802.0 M2060.0,1814.0V1807.6 M2062.5,1814.0V1811.6 M2063.8,1814.0V1803.5 M2065.3,1814.0V1808.8 M2066.9,1814.0V1808.0 M2068.3,1814.0V1811.0 M2069.3,1814.0V1805.1 M2081.7,1814.0V1812.1 M2083.6,1814.0V1806.9 M2090.7,1814.0V1800.2 M2094.0,1814.0V1812.1 M2097.6,1814.0V1812.2 M2098.5,1814.0V1810.1 M2100.0,1814.0V1810.9 M2100.7,1814.0V1807.3 M2102.6,1814.0V1807.7 M2107.4,1814.0V1811.3 M2114.0,1814.0V1799.4 M2117.6,1814.0V1807.4 M2125.7,1814.0V1805.8 M2132.1,1814.0V1812.3 M2135.0,1814.0V1805.9 M2143.8,1814.0V1811.5 M2144.5,1814.0V1807.1 M2150.3,1814.0V1810.7 M251.1,1814.0V1180.8 M255.8,1814.0V1582.2 M254.4,1814.0V1698.1 M253.6,1814.0V1725.4 M248.1,1814.0V1732.3 M243.0,1814.0V1753.8 M260.9,1814.0V1776.0 M216.6,1814.0V1789.3 M228.4,1814.0V1786.8 M290.7,1814.0V1751.9 M321.8,1814.0V1783.6 M382.0,1814.0V1584.1 M385.0,1814.0V1740.5 M383.6,1814.0V1761.4 M384.3,1814.0V1761.4 M393.8,1814.0V1738.6 M398.9,1814.0V1788.0 M433.4,1814.0V1788.0 M390.7,1814.0V1793.1 M566.0,1814.0V1798.2 M682.2,1814.0V1773.5 M649.8,1814.0V1787.4 M749.4,1814.0V1796.3 M853.0,1814.0V1765.2 M855.5,1814.0V1791.8 M894.0,1814.0V1792.5 M933.6,1814.0V1788.0 M964.6,1814.0V1789.3 M968.0,1814.0V1801.3 M1112.2,1814.0V1771.6 M1114.5,1814.0V1795.0 M1269.8,1814.0V1787.4 M1272.0,1814.0V1798.2 M1709.7,1814.0V1798.2 M1832.3,1814.0V1729.2 M1833.8,1814.0V1774.1 M1836.0,1814.0V1800.1 M2025.6,1814.0V1791.8 M2028.0,1814.0V1801.3 M1207.0,1814.0V1803.9 M1394.0,1814.0V1804.5 M1494.0,1814.0V1802.6 M1623.0,1814.0V1802.6 M1886.0,1814.0V1804.5 M2147.0,1814.0V1803.9" stroke="#000" stroke-width="1.6" fill="none"/>
<text x="214.5" y="1168.7" font-size="27.2" font-weight="normal" text-anchor="start" fill="#000" font-family="'Liberation Sans', Arial, sans-serif" >319.24</text>
<text x="266.8" y="1741.7" font-size="27.2" font-weight="normal" text-anchor="start" fill="#000" font-family="'Liberation Sans', Arial, sans-serif" >335.23</text>
<text x="339.3" y="1573.9" font-size="27.2" font-weight="normal" text-anchor="start" fill="#000" font-family="'Liberation Sans', Arial, sans-serif" >372.30</text>
<text x="390.3" y="1728.1" font-size="27.2" font-weight="normal" text-anchor="start" fill="#000" font-family="'Liberation Sans', Arial, sans-serif" >377.08</text>
<text x="403.5" y="1777.8" font-size="27.2" font-weight="normal" text-anchor="start" fill="#000" font-family="'Liberation Sans', Arial, sans-serif" >393.28</text>
<text x="523.2" y="1789.3" font-size="27.2" font-weight="normal" text-anchor="start" fill="#000" font-family="'Liberation Sans', Arial, sans-serif" >447.13</text>
<text x="639.6" y="1762.7" font-size="27.2" font-weight="normal" text-anchor="start" fill="#000" font-family="'Liberation Sans', Arial, sans-serif" >495.30</text>
<text x="809.9" y="1754.3" font-size="27.2" font-weight="normal" text-anchor="start" fill="#000" font-family="'Liberation Sans', Arial, sans-serif" >565.44</text>
<text x="915.8" y="1777.2" font-size="27.2" font-weight="normal" text-anchor="start" fill="#000" font-family="'Liberation Sans', Arial, sans-serif" >597.43</text>
<text x="1068.1" y="1758.9" font-size="27.2" font-weight="normal" text-anchor="start" fill="#000" font-family="'Liberation Sans', Arial, sans-serif" >671.26</text>
<text x="1125.0" y="1797.0" font-size="27.2" font-weight="normal" text-anchor="start" fill="#000" font-family="'Liberation Sans', Arial, sans-serif" >709.94</text>
<text x="1226.9" y="1777.7" font-size="27.2" font-weight="normal" text-anchor="start" fill="#000" font-family="'Liberation Sans', Arial, sans-serif" >735.45</text>
<text x="1346.1" y="1799.2" font-size="27.2" font-weight="normal" text-anchor="start" fill="#000" font-family="'Liberation Sans', Arial, sans-serif" >786.85</text>
<text x="1454.4" y="1795.4" font-size="27.2" font-weight="normal" text-anchor="start" fill="#000" font-family="'Liberation Sans', Arial, sans-serif" >828.36</text>
<text x="1561.8" y="1795.4" font-size="27.2" font-weight="normal" text-anchor="start" fill="#000" font-family="'Liberation Sans', Arial, sans-serif" >881.20</text>
<text x="1666.4" y="1788.3" font-size="27.2" font-weight="normal" text-anchor="start" fill="#000" font-family="'Liberation Sans', Arial, sans-serif" >915.50</text>
<text x="1788.5" y="1720.7" font-size="27.2" font-weight="normal" text-anchor="start" fill="#000" font-family="'Liberation Sans', Arial, sans-serif" >965.51</text>
<text x="1844.4" y="1797.5" font-size="27.2" font-weight="normal" text-anchor="start" fill="#000" font-family="'Liberation Sans', Arial, sans-serif" >975.60</text>
<text x="1977.1" y="1783.4" font-size="27.2" font-weight="normal" text-anchor="start" fill="#000" font-family="'Liberation Sans', Arial, sans-serif" >1045.48</text>
<text x="2093.9" y="1797.5" font-size="27.2" font-weight="normal" text-anchor="start" fill="#000" font-family="'Liberation Sans', Arial, sans-serif" >1095.75</text>
<line x1="252.0" y1="1160.5" x2="257.0" y2="1158.0" stroke="#22B14C" stroke-width="1.6" stroke-linecap="butt"/>
<line x1="291.2" y1="1747.6" x2="308.3" y2="1743.8" stroke="#22B14C" stroke-width="1.6" stroke-linecap="butt"/>
<line x1="394.8" y1="1736.1" x2="432.3" y2="1730.5" stroke="#22B14C" stroke-width="1.6" stroke-linecap="butt"/>
<line x1="432.3" y1="1785.2" x2="445.5" y2="1781.2" stroke="#22B14C" stroke-width="1.6" stroke-linecap="butt"/>
<line x1="933.6" y1="1785.0" x2="958.2" y2="1779.5" stroke="#22B14C" stroke-width="1.6" stroke-linecap="butt"/>
<line x1="1169.5" y1="1799.3" x2="1207.6" y2="1804.9" stroke="#22B14C" stroke-width="1.6" stroke-linecap="butt"/>
<line x1="1388.6" y1="1802.7" x2="1394.0" y2="1806.5" stroke="#22B14C" stroke-width="1.6" stroke-linecap="butt"/>
<line x1="1605.8" y1="1798.0" x2="1623.3" y2="1802.0" stroke="#22B14C" stroke-width="1.6" stroke-linecap="butt"/>
<line x1="1856.0" y1="1804.0" x2="1886.0" y2="1800.0" stroke="#22B14C" stroke-width="1.6" stroke-linecap="butt"/>
<line x1="2143.0" y1="1802.0" x2="2147.0" y2="1805.0" stroke="#22B14C" stroke-width="1.6" stroke-linecap="butt"/>
<text x="52.0" y="2034.8" font-size="79.7" font-weight="bold" text-anchor="start" fill="#000" font-family="'Liberation Sans', Arial, sans-serif" >d</text>
<line x1="197.6" y1="1968.5" x2="197.6" y2="2539.0" stroke="#000" stroke-width="2" stroke-linecap="butt"/>
<line x1="197.6" y1="2538.0" x2="2364.5" y2="2538.0" stroke="#000" stroke-width="2.2" stroke-linecap="butt"/>
<line x1="182.6" y1="2538.0" x2="197.6" y2="2538.0" stroke="#000" stroke-width="2" stroke-linecap="butt"/>
<text x="168.1" y="2548.1" font-size="23.0" font-weight="normal" text-anchor="start" fill="#000" font-family="'Liberation Sans', Arial, sans-serif" stroke="#000" stroke-width="0.6">0</text>
<line x1="186.6" y1="2526.6" x2="197.6" y2="2526.6" stroke="#000" stroke-width="2" stroke-linecap="butt"/>
<line x1="186.6" y1="2515.3" x2="197.6" y2="2515.3" stroke="#000" stroke-width="2" stroke-linecap="butt"/>
<line x1="186.6" y1="2503.9" x2="197.6" y2="2503.9" stroke="#000" stroke-width="2" stroke-linecap="butt"/>
<line x1="186.6" y1="2492.5" x2="197.6" y2="2492.5" stroke="#000" stroke-width="2" stroke-linecap="butt"/>
<line x1="182.6" y1="2481.2" x2="197.6" y2="2481.2" stroke="#000" stroke-width="2" stroke-linecap="butt"/>
<text x="155.3" y="2491.3" font-size="23.0" font-weight="normal" text-anchor="start" fill="#000" font-family="'Liberation Sans', Arial, sans-serif" stroke="#000" stroke-width="0.6">10</text>
<line x1="186.6" y1="2469.8" x2="197.6" y2="2469.8" stroke="#000" stroke-width="2" stroke-linecap="butt"/>
<line x1="186.6" y1="2458.4" x2="197.6" y2="2458.4" stroke="#000" stroke-width="2" stroke-linecap="butt"/>
<line x1="186.6" y1="2447.0" x2="197.6" y2="2447.0" stroke="#000" stroke-width="2" stroke-linecap="butt"/>
<line x1="186.6" y1="2435.7" x2="197.6" y2="2435.7" stroke="#000" stroke-width="2" stroke-linecap="butt"/>
<line x1="182.6" y1="2424.3" x2="197.6" y2="2424.3" stroke="#000" stroke-width="2" stroke-linecap="butt"/>
<text x="155.3" y="2434.4" font-size="23.0" font-weight="normal" text-anchor="start" fill="#000" font-family="'Liberation Sans', Arial, sans-serif" stroke="#000" stroke-width="0.6">20</text>
<line x1="186.6" y1="2412.9" x2="197.6" y2="2412.9" stroke="#000" stroke-width="2" stroke-linecap="butt"/>
<line x1="186.6" y1="2401.6" x2="197.6" y2="2401.6" stroke="#000" stroke-width="2" stroke-linecap="butt"/>
<line x1="186.6" y1="2390.2" x2="197.6" y2="2390.2" stroke="#000" stroke-width="2" stroke-linecap="butt"/>
<line x1="186.6" y1="2378.8" x2="197.6" y2="2378.8" stroke="#000" stroke-width="2" stroke-linecap="butt"/>
<line x1="182.6" y1="2367.4" x2="197.6" y2="2367.4" stroke="#000" stroke-width="2" stroke-linecap="butt"/>
<text x="155.3" y="2377.6" font-size="23.0" font-weight="normal" text-anchor="start" fill="#000" font-family="'Liberation Sans', Arial, sans-serif" stroke="#000" stroke-width="0.6">30</text>
<line x1="186.6" y1="2356.1" x2="197.6" y2="2356.1" stroke="#000" stroke-width="2" stroke-linecap="butt"/>
<line x1="186.6" y1="2344.7" x2="197.6" y2="2344.7" stroke="#000" stroke-width="2" stroke-linecap="butt"/>
<line x1="186.6" y1="2333.3" x2="197.6" y2="2333.3" stroke="#000" stroke-width="2" stroke-linecap="butt"/>
<line x1="186.6" y1="2322.0" x2="197.6" y2="2322.0" stroke="#000" stroke-width="2" stroke-linecap="butt"/>
<line x1="182.6" y1="2310.6" x2="197.6" y2="2310.6" stroke="#000" stroke-width="2" stroke-linecap="butt"/>
<text x="155.3" y="2320.7" font-size="23.0" font-weight="normal" text-anchor="start" fill="#000" font-family="'Liberation Sans', Arial, sans-serif" stroke="#000" stroke-width="0.6">40</text>
<line x1="186.6" y1="2299.2" x2="197.6" y2="2299.2" stroke="#000" stroke-width="2" stroke-linecap="butt"/>
<line x1="186.6" y1="2287.9" x2="197.6" y2="2287.9" stroke="#000" stroke-width="2" stroke-linecap="butt"/>
<line x1="186.6" y1="2276.5" x2="197.6" y2="2276.5" stroke="#000" stroke-width="2" stroke-linecap="butt"/>
<line x1="186.6" y1="2265.1" x2="197.6" y2="2265.1" stroke="#000" stroke-width="2" stroke-linecap="butt"/>
<line x1="182.6" y1="2253.8" x2="197.6" y2="2253.8" stroke="#000" stroke-width="2" stroke-linecap="butt"/>
<text x="155.3" y="2263.9" font-size="23.0" font-weight="normal" text-anchor="start" fill="#000" font-family="'Liberation Sans', Arial, sans-serif" stroke="#000" stroke-width="0.6">50</text>
<line x1="186.6" y1="2242.4" x2="197.6" y2="2242.4" stroke="#000" stroke-width="2" stroke-linecap="butt"/>
<line x1="186.6" y1="2231.0" x2="197.6" y2="2231.0" stroke="#000" stroke-width="2" stroke-linecap="butt"/>
<line x1="186.6" y1="2219.6" x2="197.6" y2="2219.6" stroke="#000" stroke-width="2" stroke-linecap="butt"/>
<line x1="186.6" y1="2208.3" x2="197.6" y2="2208.3" stroke="#000" stroke-width="2" stroke-linecap="butt"/>
<line x1="182.6" y1="2196.9" x2="197.6" y2="2196.9" stroke="#000" stroke-width="2" stroke-linecap="butt"/>
<text x="155.3" y="2207.0" font-size="23.0" font-weight="normal" text-anchor="start" fill="#000" font-family="'Liberation Sans', Arial, sans-serif" stroke="#000" stroke-width="0.6">60</text>
<line x1="186.6" y1="2185.5" x2="197.6" y2="2185.5" stroke="#000" stroke-width="2" stroke-linecap="butt"/>
<line x1="186.6" y1="2174.2" x2="197.6" y2="2174.2" stroke="#000" stroke-width="2" stroke-linecap="butt"/>
<line x1="186.6" y1="2162.8" x2="197.6" y2="2162.8" stroke="#000" stroke-width="2" stroke-linecap="butt"/>
<line x1="186.6" y1="2151.4" x2="197.6" y2="2151.4" stroke="#000" stroke-width="2" stroke-linecap="butt"/>
<line x1="182.6" y1="2140.1" x2="197.6" y2="2140.1" stroke="#000" stroke-width="2" stroke-linecap="butt"/>
<text x="155.3" y="2150.2" font-size="23.0" font-weight="normal" text-anchor="start" fill="#000" font-family="'Liberation Sans', Arial, sans-serif" stroke="#000" stroke-width="0.6">70</text>
<line x1="186.6" y1="2128.7" x2="197.6" y2="2128.7" stroke="#000" stroke-width="2" stroke-linecap="butt"/>
<line x1="186.6" y1="2117.3" x2="197.6" y2="2117.3" stroke="#000" stroke-width="2" stroke-linecap="butt"/>
<line x1="186.6" y1="2105.9" x2="197.6" y2="2105.9" stroke="#000" stroke-width="2" stroke-linecap="butt"/>
<line x1="186.6" y1="2094.6" x2="197.6" y2="2094.6" stroke="#000" stroke-width="2" stroke-linecap="butt"/>
<line x1="182.6" y1="2083.2" x2="197.6" y2="2083.2" stroke="#000" stroke-width="2" stroke-linecap="butt"/>
<text x="155.3" y="2093.3" font-size="23.0" font-weight="normal" text-anchor="start" fill="#000" font-family="'Liberation Sans', Arial, sans-serif" stroke="#000" stroke-width="0.6">80</text>
<line x1="186.6" y1="2071.8" x2="197.6" y2="2071.8" stroke="#000" stroke-width="2" stroke-linecap="butt"/>
<line x1="186.6" y1="2060.5" x2="197.6" y2="2060.5" stroke="#000" stroke-width="2" stroke-linecap="butt"/>
<line x1="186.6" y1="2049.1" x2="197.6" y2="2049.1" stroke="#000" stroke-width="2" stroke-linecap="butt"/>
<line x1="186.6" y1="2037.7" x2="197.6" y2="2037.7" stroke="#000" stroke-width="2" stroke-linecap="butt"/>
<line x1="182.6" y1="2026.3" x2="197.6" y2="2026.3" stroke="#000" stroke-width="2" stroke-linecap="butt"/>
<text x="155.3" y="2036.5" font-size="23.0" font-weight="normal" text-anchor="start" fill="#000" font-family="'Liberation Sans', Arial, sans-serif" stroke="#000" stroke-width="0.6">90</text>
<line x1="186.6" y1="2015.0" x2="197.6" y2="2015.0" stroke="#000" stroke-width="2" stroke-linecap="butt"/>
<line x1="186.6" y1="2003.6" x2="197.6" y2="2003.6" stroke="#000" stroke-width="2" stroke-linecap="butt"/>
<line x1="186.6" y1="1992.2" x2="197.6" y2="1992.2" stroke="#000" stroke-width="2" stroke-linecap="butt"/>
<line x1="186.6" y1="1980.9" x2="197.6" y2="1980.9" stroke="#000" stroke-width="2" stroke-linecap="butt"/>
<line x1="182.6" y1="1969.5" x2="197.6" y2="1969.5" stroke="#000" stroke-width="2" stroke-linecap="butt"/>
<text x="142.5" y="1979.6" font-size="23.0" font-weight="normal" text-anchor="start" fill="#000" font-family="'Liberation Sans', Arial, sans-serif" stroke="#000" stroke-width="0.6">100</text>
<line x1="197.9" y1="2538.0" x2="197.9" y2="2553.0" stroke="#000" stroke-width="2" stroke-linecap="butt"/>
<text x="178.7" y="2575.8" font-size="23.0" font-weight="normal" text-anchor="start" fill="#000" font-family="'Liberation Sans', Arial, sans-serif" stroke="#000" stroke-width="0.6">300</text>
<line x1="225.0" y1="2538.0" x2="225.0" y2="2548.0" stroke="#000" stroke-width="2" stroke-linecap="butt"/>
<line x1="252.0" y1="2538.0" x2="252.0" y2="2548.0" stroke="#000" stroke-width="2" stroke-linecap="butt"/>
<line x1="279.1" y1="2538.0" x2="279.1" y2="2548.0" stroke="#000" stroke-width="2" stroke-linecap="butt"/>
<line x1="306.2" y1="2538.0" x2="306.2" y2="2548.0" stroke="#000" stroke-width="2" stroke-linecap="butt"/>
<line x1="333.2" y1="2538.0" x2="333.2" y2="2553.0" stroke="#000" stroke-width="2" stroke-linecap="butt"/>
<text x="314.1" y="2575.8" font-size="23.0" font-weight="normal" text-anchor="start" fill="#000" font-family="'Liberation Sans', Arial, sans-serif" stroke="#000" stroke-width="0.6">350</text>
<line x1="360.3" y1="2538.0" x2="360.3" y2="2548.0" stroke="#000" stroke-width="2" stroke-linecap="butt"/>
<line x1="387.4" y1="2538.0" x2="387.4" y2="2548.0" stroke="#000" stroke-width="2" stroke-linecap="butt"/>
<line x1="414.5" y1="2538.0" x2="414.5" y2="2548.0" stroke="#000" stroke-width="2" stroke-linecap="butt"/>
<line x1="441.5" y1="2538.0" x2="441.5" y2="2548.0" stroke="#000" stroke-width="2" stroke-linecap="butt"/>
<line x1="468.6" y1="2538.0" x2="468.6" y2="2553.0" stroke="#000" stroke-width="2" stroke-linecap="butt"/>
<text x="449.6" y="2575.8" font-size="23.0" font-weight="normal" text-anchor="start" fill="#000" font-family="'Liberation Sans', Arial, sans-serif" stroke="#000" stroke-width="0.6">400</text>
<line x1="495.7" y1="2538.0" x2="495.7" y2="2548.0" stroke="#000" stroke-width="2" stroke-linecap="butt"/>
<line x1="522.7" y1="2538.0" x2="522.7" y2="2548.0" stroke="#000" stroke-width="2" stroke-linecap="butt"/>
<line x1="549.8" y1="2538.0" x2="549.8" y2="2548.0" stroke="#000" stroke-width="2" stroke-linecap="butt"/>
<line x1="576.9" y1="2538.0" x2="576.9" y2="2548.0" stroke="#000" stroke-width="2" stroke-linecap="butt"/>
<line x1="603.9" y1="2538.0" x2="603.9" y2="2553.0" stroke="#000" stroke-width="2" stroke-linecap="butt"/>
<text x="585.0" y="2575.8" font-size="23.0" font-weight="normal" text-anchor="start" fill="#000" font-family="'Liberation Sans', Arial, sans-serif" stroke="#000" stroke-width="0.6">450</text>
<line x1="631.0" y1="2538.0" x2="631.0" y2="2548.0" stroke="#000" stroke-width="2" stroke-linecap="butt"/>
<line x1="658.1" y1="2538.0" x2="658.1" y2="2548.0" stroke="#000" stroke-width="2" stroke-linecap="butt"/>
<line x1="685.2" y1="2538.0" x2="685.2" y2="2548.0" stroke="#000" stroke-width="2" stroke-linecap="butt"/>
<line x1="712.2" y1="2538.0" x2="712.2" y2="2548.0" stroke="#000" stroke-width="2" stroke-linecap="butt"/>
<line x1="739.3" y1="2538.0" x2="739.3" y2="2553.0" stroke="#000" stroke-width="2" stroke-linecap="butt"/>
<text x="720.1" y="2575.8" font-size="23.0" font-weight="normal" text-anchor="start" fill="#000" font-family="'Liberation Sans', Arial, sans-serif" stroke="#000" stroke-width="0.6">500</text>
<line x1="766.4" y1="2538.0" x2="766.4" y2="2548.0" stroke="#000" stroke-width="2" stroke-linecap="butt"/>
<line x1="793.4" y1="2538.0" x2="793.4" y2="2548.0" stroke="#000" stroke-width="2" stroke-linecap="butt"/>
<line x1="820.5" y1="2538.0" x2="820.5" y2="2548.0" stroke="#000" stroke-width="2" stroke-linecap="butt"/>
<line x1="847.6" y1="2538.0" x2="847.6" y2="2548.0" stroke="#000" stroke-width="2" stroke-linecap="butt"/>
<line x1="874.6" y1="2538.0" x2="874.6" y2="2553.0" stroke="#000" stroke-width="2" stroke-linecap="butt"/>
<text x="855.4" y="2575.8" font-size="23.0" font-weight="normal" text-anchor="start" fill="#000" font-family="'Liberation Sans', Arial, sans-serif" stroke="#000" stroke-width="0.6">550</text>
<line x1="901.7" y1="2538.0" x2="901.7" y2="2548.0" stroke="#000" stroke-width="2" stroke-linecap="butt"/>
<line x1="928.8" y1="2538.0" x2="928.8" y2="2548.0" stroke="#000" stroke-width="2" stroke-linecap="butt"/>
<line x1="955.9" y1="2538.0" x2="955.9" y2="2548.0" stroke="#000" stroke-width="2" stroke-linecap="butt"/>
<line x1="982.9" y1="2538.0" x2="982.9" y2="2548.0" stroke="#000" stroke-width="2" stroke-linecap="butt"/>
<line x1="1010.0" y1="2538.0" x2="1010.0" y2="2553.0" stroke="#000" stroke-width="2" stroke-linecap="butt"/>
<text x="990.7" y="2575.8" font-size="23.0" font-weight="normal" text-anchor="start" fill="#000" font-family="'Liberation Sans', Arial, sans-serif" stroke="#000" stroke-width="0.6">600</text>
<line x1="1037.1" y1="2538.0" x2="1037.1" y2="2548.0" stroke="#000" stroke-width="2" stroke-linecap="butt"/>
<line x1="1064.1" y1="2538.0" x2="1064.1" y2="2548.0" stroke="#000" stroke-width="2" stroke-linecap="butt"/>
<line x1="1091.2" y1="2538.0" x2="1091.2" y2="2548.0" stroke="#000" stroke-width="2" stroke-linecap="butt"/>
<line x1="1118.3" y1="2538.0" x2="1118.3" y2="2548.0" stroke="#000" stroke-width="2" stroke-linecap="butt"/>
<line x1="1145.3" y1="2538.0" x2="1145.3" y2="2553.0" stroke="#000" stroke-width="2" stroke-linecap="butt"/>
<text x="1126.0" y="2575.8" font-size="23.0" font-weight="normal" text-anchor="start" fill="#000" font-family="'Liberation Sans', Arial, sans-serif" stroke="#000" stroke-width="0.6">650</text>
<line x1="1172.4" y1="2538.0" x2="1172.4" y2="2548.0" stroke="#000" stroke-width="2" stroke-linecap="butt"/>
<line x1="1199.5" y1="2538.0" x2="1199.5" y2="2548.0" stroke="#000" stroke-width="2" stroke-linecap="butt"/>
<line x1="1226.6" y1="2538.0" x2="1226.6" y2="2548.0" stroke="#000" stroke-width="2" stroke-linecap="butt"/>
<line x1="1253.6" y1="2538.0" x2="1253.6" y2="2548.0" stroke="#000" stroke-width="2" stroke-linecap="butt"/>
<line x1="1280.7" y1="2538.0" x2="1280.7" y2="2553.0" stroke="#000" stroke-width="2" stroke-linecap="butt"/>
<text x="1261.4" y="2575.8" font-size="23.0" font-weight="normal" text-anchor="start" fill="#000" font-family="'Liberation Sans', Arial, sans-serif" stroke="#000" stroke-width="0.6">700</text>
<line x1="1307.8" y1="2538.0" x2="1307.8" y2="2548.0" stroke="#000" stroke-width="2" stroke-linecap="butt"/>
<line x1="1334.8" y1="2538.0" x2="1334.8" y2="2548.0" stroke="#000" stroke-width="2" stroke-linecap="butt"/>
<line x1="1361.9" y1="2538.0" x2="1361.9" y2="2548.0" stroke="#000" stroke-width="2" stroke-linecap="butt"/>
<line x1="1389.0" y1="2538.0" x2="1389.0" y2="2548.0" stroke="#000" stroke-width="2" stroke-linecap="butt"/>
<line x1="1416.0" y1="2538.0" x2="1416.0" y2="2553.0" stroke="#000" stroke-width="2" stroke-linecap="butt"/>
<text x="1396.7" y="2575.8" font-size="23.0" font-weight="normal" text-anchor="start" fill="#000" font-family="'Liberation Sans', Arial, sans-serif" stroke="#000" stroke-width="0.6">750</text>
<line x1="1443.1" y1="2538.0" x2="1443.1" y2="2548.0" stroke="#000" stroke-width="2" stroke-linecap="butt"/>
<line x1="1470.2" y1="2538.0" x2="1470.2" y2="2548.0" stroke="#000" stroke-width="2" stroke-linecap="butt"/>
<line x1="1497.3" y1="2538.0" x2="1497.3" y2="2548.0" stroke="#000" stroke-width="2" stroke-linecap="butt"/>
<line x1="1524.3" y1="2538.0" x2="1524.3" y2="2548.0" stroke="#000" stroke-width="2" stroke-linecap="butt"/>
<line x1="1551.4" y1="2538.0" x2="1551.4" y2="2553.0" stroke="#000" stroke-width="2" stroke-linecap="butt"/>
<text x="1532.2" y="2575.8" font-size="23.0" font-weight="normal" text-anchor="start" fill="#000" font-family="'Liberation Sans', Arial, sans-serif" stroke="#000" stroke-width="0.6">800</text>
<line x1="1578.5" y1="2538.0" x2="1578.5" y2="2548.0" stroke="#000" stroke-width="2" stroke-linecap="butt"/>
<line x1="1605.5" y1="2538.0" x2="1605.5" y2="2548.0" stroke="#000" stroke-width="2" stroke-linecap="butt"/>
<line x1="1632.6" y1="2538.0" x2="1632.6" y2="2548.0" stroke="#000" stroke-width="2" stroke-linecap="butt"/>
<line x1="1659.7" y1="2538.0" x2="1659.7" y2="2548.0" stroke="#000" stroke-width="2" stroke-linecap="butt"/>
<line x1="1686.8" y1="2538.0" x2="1686.8" y2="2553.0" stroke="#000" stroke-width="2" stroke-linecap="butt"/>
<text x="1667.5" y="2575.8" font-size="23.0" font-weight="normal" text-anchor="start" fill="#000" font-family="'Liberation Sans', Arial, sans-serif" stroke="#000" stroke-width="0.6">850</text>
<line x1="1713.8" y1="2538.0" x2="1713.8" y2="2548.0" stroke="#000" stroke-width="2" stroke-linecap="butt"/>
<line x1="1740.9" y1="2538.0" x2="1740.9" y2="2548.0" stroke="#000" stroke-width="2" stroke-linecap="butt"/>
<line x1="1768.0" y1="2538.0" x2="1768.0" y2="2548.0" stroke="#000" stroke-width="2" stroke-linecap="butt"/>
<line x1="1795.0" y1="2538.0" x2="1795.0" y2="2548.0" stroke="#000" stroke-width="2" stroke-linecap="butt"/>
<line x1="1822.1" y1="2538.0" x2="1822.1" y2="2553.0" stroke="#000" stroke-width="2" stroke-linecap="butt"/>
<text x="1802.8" y="2575.8" font-size="23.0" font-weight="normal" text-anchor="start" fill="#000" font-family="'Liberation Sans', Arial, sans-serif" stroke="#000" stroke-width="0.6">900</text>
<line x1="1849.2" y1="2538.0" x2="1849.2" y2="2548.0" stroke="#000" stroke-width="2" stroke-linecap="butt"/>
<line x1="1876.2" y1="2538.0" x2="1876.2" y2="2548.0" stroke="#000" stroke-width="2" stroke-linecap="butt"/>
<line x1="1903.3" y1="2538.0" x2="1903.3" y2="2548.0" stroke="#000" stroke-width="2" stroke-linecap="butt"/>
<line x1="1930.4" y1="2538.0" x2="1930.4" y2="2548.0" stroke="#000" stroke-width="2" stroke-linecap="butt"/>
<line x1="1957.5" y1="2538.0" x2="1957.5" y2="2553.0" stroke="#000" stroke-width="2" stroke-linecap="butt"/>
<text x="1938.2" y="2575.8" font-size="23.0" font-weight="normal" text-anchor="start" fill="#000" font-family="'Liberation Sans', Arial, sans-serif" stroke="#000" stroke-width="0.6">950</text>
<line x1="1984.5" y1="2538.0" x2="1984.5" y2="2548.0" stroke="#000" stroke-width="2" stroke-linecap="butt"/>
<line x1="2011.6" y1="2538.0" x2="2011.6" y2="2548.0" stroke="#000" stroke-width="2" stroke-linecap="butt"/>
<line x1="2038.7" y1="2538.0" x2="2038.7" y2="2548.0" stroke="#000" stroke-width="2" stroke-linecap="butt"/>
<line x1="2065.7" y1="2538.0" x2="2065.7" y2="2548.0" stroke="#000" stroke-width="2" stroke-linecap="butt"/>
<line x1="2092.8" y1="2538.0" x2="2092.8" y2="2553.0" stroke="#000" stroke-width="2" stroke-linecap="butt"/>
<text x="2066.8" y="2575.8" font-size="23.0" font-weight="normal" text-anchor="start" fill="#000" font-family="'Liberation Sans', Arial, sans-serif" stroke="#000" stroke-width="0.6">1000</text>
<line x1="2119.9" y1="2538.0" x2="2119.9" y2="2548.0" stroke="#000" stroke-width="2" stroke-linecap="butt"/>
<line x1="2146.9" y1="2538.0" x2="2146.9" y2="2548.0" stroke="#000" stroke-width="2" stroke-linecap="butt"/>
<line x1="2174.0" y1="2538.0" x2="2174.0" y2="2548.0" stroke="#000" stroke-width="2" stroke-linecap="butt"/>
<line x1="2201.1" y1="2538.0" x2="2201.1" y2="2548.0" stroke="#000" stroke-width="2" stroke-linecap="butt"/>
<line x1="2228.2" y1="2538.0" x2="2228.2" y2="2553.0" stroke="#000" stroke-width="2" stroke-linecap="butt"/>
<text x="2202.1" y="2575.8" font-size="23.0" font-weight="normal" text-anchor="start" fill="#000" font-family="'Liberation Sans', Arial, sans-serif" stroke="#000" stroke-width="0.6">1050</text>
<line x1="2255.2" y1="2538.0" x2="2255.2" y2="2548.0" stroke="#000" stroke-width="2" stroke-linecap="butt"/>
<line x1="2282.3" y1="2538.0" x2="2282.3" y2="2548.0" stroke="#000" stroke-width="2" stroke-linecap="butt"/>
<line x1="2309.4" y1="2538.0" x2="2309.4" y2="2548.0" stroke="#000" stroke-width="2" stroke-linecap="butt"/>
<line x1="2336.4" y1="2538.0" x2="2336.4" y2="2548.0" stroke="#000" stroke-width="2" stroke-linecap="butt"/>
<line x1="2363.5" y1="2538.0" x2="2363.5" y2="2553.0" stroke="#000" stroke-width="2" stroke-linecap="butt"/>
<text x="2338.3" y="2575.8" font-size="23.0" font-weight="normal" text-anchor="start" fill="#000" font-family="'Liberation Sans', Arial, sans-serif" stroke="#000" stroke-width="0.6">1100</text>
<text x="0.0" y="0.0" font-size="22.7" font-weight="normal" text-anchor="start" fill="#000" font-family="'Liberation Sans', Arial, sans-serif" transform="translate(137.7,2355.0) rotate(-90)" >Relative Abundance</text>
<text x="1261.4" y="2609.0" font-size="21.0" font-weight="normal" text-anchor="start" fill="#000" font-family="'Liberation Sans', Arial, sans-serif" textLength="38">m/z</text>
<path d="M202.4,2538.0V2531.4 M204.3,2538.0V2536.2 M206.9,2538.0V2532.7 M213.0,2538.0V2527.5 M217.9,2538.0V2530.4 M218.7,2538.0V2535.1 M220.9,2538.0V2535.6 M223.2,2538.0V2535.5 M228.5,2538.0V2532.2 M231.9,2538.0V2510.7 M237.7,2538.0V2509.6 M239.2,2538.0V2510.9 M241.3,2538.0V2518.0 M244.3,2538.0V2532.2 M245.9,2538.0V2534.0 M247.6,2538.0V2534.9 M254.5,2538.0V2534.1 M260.5,2538.0V2515.6 M262.4,2538.0V2531.9 M263.5,2538.0V2528.6 M264.1,2538.0V2526.6 M266.4,2538.0V2533.9 M270.6,2538.0V2521.1 M272.9,2538.0V2526.9 M275.2,2538.0V2534.8 M277.2,2538.0V2534.0 M278.7,2538.0V2532.0 M280.4,2538.0V2523.9 M281.6,2538.0V2533.4 M286.5,2538.0V2525.8 M289.0,2538.0V2528.1 M291.0,2538.0V2519.8 M292.4,2538.0V2510.4 M295.4,2538.0V2528.3 M302.2,2538.0V2535.2 M303.5,2538.0V2523.5 M304.6,2538.0V2530.2 M309.5,2538.0V2527.0 M311.1,2538.0V2534.3 M313.8,2538.0V2534.1 M314.5,2538.0V2533.9 M317.1,2538.0V2535.2 M321.9,2538.0V2530.8 M327.7,2538.0V2534.4 M328.3,2538.0V2534.3 M332.4,2538.0V2531.2 M336.3,2538.0V2530.8 M339.0,2538.0V2534.8 M340.8,2538.0V2535.5 M341.9,2538.0V2526.4 M349.7,2538.0V2525.0 M350.3,2538.0V2526.3 M353.1,2538.0V2535.7 M358.0,2538.0V2525.3 M360.2,2538.0V2510.5 M364.9,2538.0V2526.2 M368.8,2538.0V2529.8 M375.1,2538.0V2532.8 M376.7,2538.0V2532.3 M384.5,2538.0V2534.7 M385.3,2538.0V2509.6 M386.8,2538.0V2535.9 M389.0,2538.0V2532.1 M389.8,2538.0V2531.4 M393.1,2538.0V2531.9 M395.6,2538.0V2518.6 M398.6,2538.0V2533.9 M404.3,2538.0V2523.6 M411.9,2538.0V2532.4 M418.2,2538.0V2534.9 M418.9,2538.0V2535.0 M419.9,2538.0V2533.1 M425.3,2538.0V2509.6 M427.3,2538.0V2530.7 M428.7,2538.0V2518.7 M435.5,2538.0V2531.4 M437.1,2538.0V2534.5 M439.5,2538.0V2523.2 M440.5,2538.0V2529.8 M442.9,2538.0V2528.2 M447.3,2538.0V2532.8 M451.9,2538.0V2530.4 M452.5,2538.0V2528.4 M455.3,2538.0V2522.0 M461.9,2538.0V2532.5 M464.4,2538.0V2534.4 M465.0,2538.0V2513.7 M466.6,2538.0V2524.8 M467.5,2538.0V2530.5 M469.2,2538.0V2520.0 M469.8,2538.0V2536.2 M471.2,2538.0V2534.6 M472.7,2538.0V2534.1 M473.7,2538.0V2530.7 M475.9,2538.0V2536.4 M478.4,2538.0V2532.8 M481.4,2538.0V2532.8 M483.3,2538.0V2535.2 M484.6,2538.0V2527.6 M486.3,2538.0V2529.9 M492.5,2538.0V2510.8 M493.9,2538.0V2526.6 M494.7,2538.0V2520.6 M498.6,2538.0V2532.7 M500.7,2538.0V2534.4 M503.1,2538.0V2525.8 M508.7,2538.0V2520.8 M512.0,2538.0V2528.4 M512.6,2538.0V2532.3 M513.4,2538.0V2534.7 M517.3,2538.0V2526.0 M526.8,2538.0V2522.7 M532.0,2538.0V2536.1 M533.2,2538.0V2532.5 M534.2,2538.0V2529.3 M535.1,2538.0V2531.9 M536.8,2538.0V2535.3 M537.7,2538.0V2533.1 M539.3,2538.0V2528.6 M544.7,2538.0V2509.6 M546.9,2538.0V2528.2 M547.6,2538.0V2530.8 M548.2,2538.0V2509.6 M549.6,2538.0V2520.3 M551.9,2538.0V2529.1 M554.1,2538.0V2535.2 M555.0,2538.0V2527.8 M561.7,2538.0V2536.0 M563.6,2538.0V2527.8 M569.8,2538.0V2522.0 M571.2,2538.0V2525.0 M577.6,2538.0V2531.6 M582.0,2538.0V2531.4 M582.8,2538.0V2533.7 M585.6,2538.0V2532.5 M589.3,2538.0V2533.9 M592.5,2538.0V2533.5 M593.3,2538.0V2533.6 M594.3,2538.0V2533.0 M598.2,2538.0V2511.4 M601.3,2538.0V2536.4 M602.8,2538.0V2521.0 M604.8,2538.0V2524.9 M606.0,2538.0V2536.5 M607.6,2538.0V2535.4 M608.2,2538.0V2535.4 M608.8,2538.0V2534.9 M609.4,2538.0V2535.5 M610.2,2538.0V2535.0 M612.6,2538.0V2530.0 M613.9,2538.0V2532.3 M614.8,2538.0V2533.5 M615.4,2538.0V2509.6 M616.9,2538.0V2509.6 M620.7,2538.0V2534.9 M624.5,2538.0V2520.6 M626.9,2538.0V2534.1 M627.7,2538.0V2535.6 M629.4,2538.0V2532.8 M630.9,2538.0V2528.5 M632.0,2538.0V2521.8 M635.8,2538.0V2530.7 M639.5,2538.0V2522.0 M640.5,2538.0V2509.6 M642.0,2538.0V2532.2 M644.1,2538.0V2516.6 M648.7,2538.0V2535.2 M652.2,2538.0V2530.5 M654.5,2538.0V2510.0 M655.7,2538.0V2525.6 M656.3,2538.0V2533.5 M657.2,2538.0V2533.7 M659.8,2538.0V2536.0 M660.5,2538.0V2533.5 M662.1,2538.0V2525.7 M665.8,2538.0V2535.5 M669.3,2538.0V2530.2 M671.3,2538.0V2534.8 M673.0,2538.0V2534.7 M675.1,2538.0V2535.9 M681.5,2538.0V2535.8 M682.3,2538.0V2532.3 M683.9,2538.0V2530.8 M685.5,2538.0V2530.4 M686.6,2538.0V2527.8 M688.1,2538.0V2535.3 M690.3,2538.0V2534.4 M692.3,2538.0V2519.1 M693.0,2538.0V2526.6 M694.4,2538.0V2533.5 M695.9,2538.0V2518.5 M697.1,2538.0V2534.8 M700.5,2538.0V2531.3 M701.2,2538.0V2533.2 M703.0,2538.0V2535.8 M704.8,2538.0V2528.8 M706.1,2538.0V2524.2 M706.8,2538.0V2532.2 M709.4,2538.0V2529.1 M714.5,2538.0V2525.5 M721.7,2538.0V2533.3 M725.8,2538.0V2526.2 M734.3,2538.0V2533.3 M737.5,2538.0V2528.0 M740.2,2538.0V2532.2 M743.5,2538.0V2526.1 M747.1,2538.0V2533.6 M748.9,2538.0V2535.2 M750.1,2538.0V2531.8 M752.5,2538.0V2534.2 M754.2,2538.0V2535.6 M756.7,2538.0V2530.7 M758.6,2538.0V2533.1 M761.5,2538.0V2526.1 M763.3,2538.0V2536.4 M766.4,2538.0V2529.4 M770.4,2538.0V2514.3 M771.8,2538.0V2535.0 M774.7,2538.0V2529.1 M779.7,2538.0V2533.6 M782.4,2538.0V2533.0 M783.6,2538.0V2535.1 M784.9,2538.0V2512.3 M792.0,2538.0V2530.2 M795.0,2538.0V2531.4 M796.5,2538.0V2526.0 M797.0,2538.0V2524.3 M800.3,2538.0V2533.9 M801.5,2538.0V2536.2 M803.8,2538.0V2531.9 M804.4,2538.0V2533.5 M808.5,2538.0V2532.2 M814.1,2538.0V2534.0 M814.9,2538.0V2522.4 M817.9,2538.0V2535.2 M824.4,2538.0V2531.1 M825.2,2538.0V2528.6 M829.3,2538.0V2535.7 M833.9,2538.0V2530.9 M834.7,2538.0V2535.3 M838.8,2538.0V2535.9 M840.0,2538.0V2534.2 M846.3,2538.0V2524.0 M850.7,2538.0V2509.6 M852.5,2538.0V2524.7 M853.9,2538.0V2527.1 M854.5,2538.0V2525.1 M857.9,2538.0V2535.5 M859.5,2538.0V2527.3 M861.1,2538.0V2528.1 M862.6,2538.0V2532.5 M863.8,2538.0V2536.3 M865.9,2538.0V2534.5 M868.3,2538.0V2532.6 M870.6,2538.0V2529.6 M871.3,2538.0V2533.7 M872.7,2538.0V2526.5 M875.5,2538.0V2531.5 M876.4,2538.0V2513.0 M883.3,2538.0V2531.6 M886.7,2538.0V2536.5 M888.1,2538.0V2529.5 M888.7,2538.0V2523.7 M889.7,2538.0V2532.7 M890.9,2538.0V2525.4 M892.6,2538.0V2535.5 M896.1,2538.0V2532.6 M899.4,2538.0V2531.4 M900.1,2538.0V2535.9 M902.2,2538.0V2536.3 M905.0,2538.0V2534.9 M907.5,2538.0V2533.6 M908.5,2538.0V2529.9 M910.1,2538.0V2509.6 M911.5,2538.0V2529.5 M912.2,2538.0V2531.6 M913.0,2538.0V2534.5 M914.6,2538.0V2533.3 M915.9,2538.0V2534.5 M919.4,2538.0V2534.8 M920.0,2538.0V2531.0 M923.4,2538.0V2536.0 M926.6,2538.0V2530.9 M927.2,2538.0V2534.8 M928.4,2538.0V2529.9 M929.8,2538.0V2532.5 M930.8,2538.0V2536.5 M932.4,2538.0V2535.8 M934.5,2538.0V2536.2 M936.0,2538.0V2528.5 M938.3,2538.0V2529.2 M944.4,2538.0V2530.3 M947.1,2538.0V2532.2 M954.0,2538.0V2534.0 M957.0,2538.0V2533.8 M958.4,2538.0V2525.7 M960.2,2538.0V2531.1 M964.7,2538.0V2535.7 M968.2,2538.0V2532.1 M970.5,2538.0V2536.5 M973.2,2538.0V2525.3 M976.1,2538.0V2524.5 M979.2,2538.0V2534.7 M982.2,2538.0V2533.5 M991.3,2538.0V2532.0 M992.2,2538.0V2530.2 M993.5,2538.0V2509.6 M995.4,2538.0V2534.8 M997.9,2538.0V2530.6 M1001.4,2538.0V2526.5 M1002.6,2538.0V2528.9 M1005.1,2538.0V2529.3 M1006.2,2538.0V2533.3 M1009.0,2538.0V2523.2 M1011.1,2538.0V2529.8 M1014.2,2538.0V2525.0 M1015.9,2538.0V2530.9 M1017.7,2538.0V2532.8 M1021.5,2538.0V2535.2 M1027.0,2538.0V2535.8 M1027.9,2538.0V2512.9 M1030.6,2538.0V2532.5 M1032.3,2538.0V2516.9 M1033.5,2538.0V2535.9 M1036.9,2538.0V2528.5 M1045.4,2538.0V2529.5 M1049.4,2538.0V2532.8 M1050.5,2538.0V2524.7 M1051.3,2538.0V2535.1 M1052.7,2538.0V2535.3 M1054.0,2538.0V2536.5 M1055.6,2538.0V2529.4 M1061.5,2538.0V2519.5 M1063.3,2538.0V2530.7 M1066.8,2538.0V2530.2 M1069.0,2538.0V2522.7 M1069.6,2538.0V2529.8 M1071.0,2538.0V2533.7 M1074.2,2538.0V2534.6 M1075.7,2538.0V2533.6 M1077.3,2538.0V2536.2 M1080.0,2538.0V2533.5 M1084.4,2538.0V2533.8 M1087.9,2538.0V2529.4 M1088.6,2538.0V2530.1 M1093.6,2538.0V2530.3 M1095.8,2538.0V2521.6 M1097.8,2538.0V2528.3 M1099.8,2538.0V2532.6 M1103.6,2538.0V2536.4 M1105.4,2538.0V2530.7 M1109.3,2538.0V2530.9 M1111.8,2538.0V2527.3 M1114.9,2538.0V2536.5 M1116.3,2538.0V2527.6 M1118.1,2538.0V2527.8 M1120.5,2538.0V2520.4 M1121.3,2538.0V2509.6 M1124.2,2538.0V2519.4 M1125.6,2538.0V2536.4 M1128.3,2538.0V2522.9 M1129.7,2538.0V2532.3 M1132.7,2538.0V2528.2 M1135.8,2538.0V2527.8 M1137.4,2538.0V2530.5 M1139.1,2538.0V2514.3 M1140.6,2538.0V2536.5 M1144.2,2538.0V2520.4 M1145.2,2538.0V2536.0 M1148.2,2538.0V2530.6 M1149.2,2538.0V2530.2 M1150.0,2538.0V2511.7 M1150.6,2538.0V2534.3 M1152.0,2538.0V2535.1 M1156.5,2538.0V2535.1 M1158.3,2538.0V2532.9 M1163.7,2538.0V2527.8 M1164.6,2538.0V2509.6 M1165.9,2538.0V2533.7 M1172.2,2538.0V2535.3 M1173.4,2538.0V2534.7 M1174.8,2538.0V2516.3 M1179.1,2538.0V2530.3 M1180.6,2538.0V2536.2 M1183.8,2538.0V2534.1 M1186.1,2538.0V2528.6 M1187.8,2538.0V2528.8 M1192.2,2538.0V2526.1 M1194.7,2538.0V2528.9 M1197.1,2538.0V2509.6 M1203.7,2538.0V2535.3 M1204.7,2538.0V2532.3 M1207.5,2538.0V2526.3 M1208.9,2538.0V2534.5 M1214.1,2538.0V2536.1 M1218.0,2538.0V2528.2 M1218.9,2538.0V2527.2 M1220.5,2538.0V2536.1 M1222.4,2538.0V2530.3 M1224.1,2538.0V2531.5 M1227.5,2538.0V2513.5 M1228.4,2538.0V2536.2 M1229.1,2538.0V2533.9 M1234.9,2538.0V2529.9 M1235.7,2538.0V2528.1 M1237.0,2538.0V2527.0 M1239.1,2538.0V2531.8 M1242.4,2538.0V2534.5 M1243.1,2538.0V2531.2 M1244.9,2538.0V2509.6 M1246.3,2538.0V2535.7 M1249.2,2538.0V2532.0 M1256.0,2538.0V2527.6 M1259.0,2538.0V2532.7 M1261.1,2538.0V2535.8 M1262.3,2538.0V2535.9 M1263.0,2538.0V2529.7 M1267.4,2538.0V2534.8 M1268.7,2538.0V2522.1 M1271.1,2538.0V2527.8 M1272.1,2538.0V2533.5 M1273.7,2538.0V2533.2 M1278.5,2538.0V2536.0 M1281.9,2538.0V2519.0 M1285.2,2538.0V2525.9 M1289.0,2538.0V2522.7 M1293.8,2538.0V2516.7 M1299.0,2538.0V2535.0 M1300.5,2538.0V2523.4 M1305.2,2538.0V2533.5 M1309.7,2538.0V2530.4 M1315.4,2538.0V2532.3 M1316.7,2538.0V2524.2 M1319.4,2538.0V2525.1 M1321.7,2538.0V2522.3 M1322.7,2538.0V2516.7 M1324.1,2538.0V2533.0 M1327.4,2538.0V2531.6 M1328.3,2538.0V2528.1 M1329.9,2538.0V2531.6 M1333.3,2538.0V2509.6 M1338.9,2538.0V2532.3 M1341.1,2538.0V2534.7 M1341.8,2538.0V2533.6 M1344.0,2538.0V2530.9 M1345.4,2538.0V2532.6 M1346.7,2538.0V2534.5 M1349.7,2538.0V2534.7 M1353.0,2538.0V2535.9 M1355.3,2538.0V2509.6 M1357.8,2538.0V2517.5 M1359.3,2538.0V2527.6 M1366.9,2538.0V2535.8 M1368.7,2538.0V2532.0 M1369.9,2538.0V2526.5 M1372.3,2538.0V2534.0 M1376.8,2538.0V2511.3 M1379.1,2538.0V2523.0 M1380.4,2538.0V2512.9 M1383.5,2538.0V2536.4 M1385.0,2538.0V2533.8 M1386.7,2538.0V2528.3 M1388.1,2538.0V2527.5 M1390.6,2538.0V2527.5 M1391.5,2538.0V2530.8 M1395.5,2538.0V2531.3 M1402.0,2538.0V2528.8 M1406.2,2538.0V2534.5 M1410.5,2538.0V2534.2 M1412.3,2538.0V2526.1 M1413.6,2538.0V2535.3 M1416.5,2538.0V2519.1 M1421.6,2538.0V2512.9 M1425.4,2538.0V2526.5 M1426.1,2538.0V2521.8 M1430.3,2538.0V2530.4 M1431.2,2538.0V2534.0 M1432.8,2538.0V2530.6 M1434.4,2538.0V2511.6 M1435.1,2538.0V2531.4 M1435.8,2538.0V2525.9 M1436.8,2538.0V2534.0 M1437.7,2538.0V2526.6 M1445.3,2538.0V2529.4 M1446.2,2538.0V2516.7 M1449.6,2538.0V2509.6 M1452.3,2538.0V2511.0 M1453.0,2538.0V2535.4 M1458.1,2538.0V2522.5 M1465.0,2538.0V2518.5 M1467.9,2538.0V2531.4 M1469.2,2538.0V2530.5 M1473.7,2538.0V2509.6 M1474.5,2538.0V2509.6 M1476.0,2538.0V2519.7 M1478.6,2538.0V2527.8 M1483.4,2538.0V2521.2 M1484.5,2538.0V2531.8 M1485.8,2538.0V2529.6 M1487.0,2538.0V2510.6 M1489.4,2538.0V2517.8 M1490.6,2538.0V2531.5 M1497.8,2538.0V2522.5 M1498.9,2538.0V2509.6 M1500.5,2538.0V2533.5 M1501.6,2538.0V2522.7 M1502.6,2538.0V2534.6 M1504.9,2538.0V2529.1 M1505.6,2538.0V2526.7 M1509.9,2538.0V2509.6 M1511.6,2538.0V2534.8 M1513.4,2538.0V2509.6 M1515.9,2538.0V2531.7 M1516.6,2538.0V2518.0 M1517.4,2538.0V2521.4 M1519.0,2538.0V2520.9 M1520.0,2538.0V2531.6 M1525.1,2538.0V2522.1 M1526.5,2538.0V2509.6 M1527.1,2538.0V2509.6 M1531.8,2538.0V2529.5 M1536.2,2538.0V2534.5 M1539.2,2538.0V2528.0 M1540.9,2538.0V2520.0 M1545.2,2538.0V2509.6 M1545.9,2538.0V2509.6 M1547.6,2538.0V2535.3 M1552.1,2538.0V2536.3 M1553.5,2538.0V2509.6 M1558.4,2538.0V2528.7 M1560.1,2538.0V2536.5 M1561.7,2538.0V2509.6 M1567.4,2538.0V2534.8 M1569.4,2538.0V2527.5 M1575.5,2538.0V2535.0 M1583.9,2538.0V2515.2 M1584.7,2538.0V2536.0 M1585.5,2538.0V2525.5 M1587.9,2538.0V2536.2 M1590.6,2538.0V2524.1 M1594.8,2538.0V2529.3 M1602.0,2538.0V2536.2 M1603.6,2538.0V2529.6 M1604.6,2538.0V2531.8 M1608.1,2538.0V2509.6 M1611.4,2538.0V2525.4 M1612.0,2538.0V2535.0 M1613.6,2538.0V2521.6 M1616.2,2538.0V2524.6 M1620.9,2538.0V2518.6 M1628.3,2538.0V2514.8 M1629.7,2538.0V2509.6 M1630.3,2538.0V2518.0 M1637.4,2538.0V2509.6 M1642.3,2538.0V2522.5 M1643.5,2538.0V2512.6 M1646.4,2538.0V2531.0 M1648.2,2538.0V2519.4 M1649.6,2538.0V2528.9 M1650.4,2538.0V2526.8 M1651.8,2538.0V2531.5 M1652.8,2538.0V2524.7 M1656.1,2538.0V2529.1 M1656.8,2538.0V2530.6 M1660.9,2538.0V2528.8 M1663.0,2538.0V2509.6 M1664.4,2538.0V2509.6 M1666.1,2538.0V2527.7 M1671.2,2538.0V2524.8 M1674.0,2538.0V2531.2 M1674.9,2538.0V2534.0 M1676.5,2538.0V2527.4 M1680.8,2538.0V2530.1 M1685.0,2538.0V2528.7 M1686.8,2538.0V2531.5 M1689.4,2538.0V2509.6 M1690.7,2538.0V2509.6 M1692.7,2538.0V2509.6 M1698.2,2538.0V2534.5 M1699.7,2538.0V2516.5 M1700.3,2538.0V2536.5 M1701.8,2538.0V2527.7 M1702.4,2538.0V2535.9 M1703.3,2538.0V2532.8 M1705.8,2538.0V2529.3 M1708.9,2538.0V2515.5 M1709.5,2538.0V2524.2 M1710.5,2538.0V2517.8 M1712.1,2538.0V2516.5 M1713.5,2538.0V2509.6 M1717.8,2538.0V2532.2 M1719.5,2538.0V2536.5 M1721.3,2538.0V2524.1 M1723.3,2538.0V2535.2 M1732.6,2538.0V2536.5 M1736.2,2538.0V2526.3 M1739.0,2538.0V2517.9 M1739.7,2538.0V2522.0 M1741.2,2538.0V2516.3 M1743.0,2538.0V2530.4 M1744.4,2538.0V2532.2 M1745.4,2538.0V2522.3 M1748.3,2538.0V2530.7 M1749.4,2538.0V2536.4 M1754.1,2538.0V2516.7 M1755.3,2538.0V2530.5 M1756.7,2538.0V2509.6 M1758.2,2538.0V2530.0 M1760.7,2538.0V2535.2 M1763.7,2538.0V2523.7 M1766.3,2538.0V2518.9 M1767.3,2538.0V2509.6 M1767.9,2538.0V2524.5 M1768.6,2538.0V2509.6 M1769.8,2538.0V2533.7 M1770.8,2538.0V2532.0 M1774.3,2538.0V2528.6 M1775.4,2538.0V2528.5 M1778.2,2538.0V2535.7 M1780.0,2538.0V2509.6 M1781.5,2538.0V2529.5 M1782.7,2538.0V2533.9 M1783.7,2538.0V2515.2 M1786.9,2538.0V2527.1 M1787.9,2538.0V2514.3 M1788.5,2538.0V2509.7 M1790.3,2538.0V2509.6 M1796.2,2538.0V2529.3 M1796.9,2538.0V2528.8 M1801.9,2538.0V2509.6 M1802.7,2538.0V2519.9 M1804.4,2538.0V2535.0 M1805.9,2538.0V2509.6 M1813.0,2538.0V2534.5 M1816.7,2538.0V2531.5 M1819.0,2538.0V2509.6 M1820.1,2538.0V2535.0 M1825.8,2538.0V2526.3 M1828.3,2538.0V2509.6 M1830.4,2538.0V2535.5 M1832.0,2538.0V2533.5 M1834.3,2538.0V2534.1 M1836.7,2538.0V2520.1 M1841.5,2538.0V2535.0 M1844.5,2538.0V2524.9 M1845.3,2538.0V2531.3 M1846.7,2538.0V2525.9 M1848.1,2538.0V2531.1 M1851.3,2538.0V2529.8 M1854.5,2538.0V2523.4 M1855.0,2538.0V2535.5 M1857.3,2538.0V2534.8 M1859.1,2538.0V2525.6 M1860.2,2538.0V2521.5 M1861.8,2538.0V2530.4 M1866.0,2538.0V2526.8 M1869.1,2538.0V2533.0 M1870.5,2538.0V2509.6 M1871.6,2538.0V2528.9 M1872.8,2538.0V2535.9 M1876.3,2538.0V2531.3 M1877.5,2538.0V2530.9 M1878.1,2538.0V2532.9 M1879.7,2538.0V2518.6 M1880.7,2538.0V2533.3 M1882.7,2538.0V2534.1 M1884.3,2538.0V2509.6 M1893.1,2538.0V2509.6 M1894.2,2538.0V2512.7 M1897.8,2538.0V2533.1 M1898.5,2538.0V2509.6 M1901.3,2538.0V2509.6 M1903.6,2538.0V2534.6 M1906.1,2538.0V2509.6 M1907.8,2538.0V2527.0 M1909.5,2538.0V2509.6 M1910.7,2538.0V2509.6 M1914.9,2538.0V2532.1 M1917.0,2538.0V2527.6 M1918.2,2538.0V2530.3 M1921.0,2538.0V2528.6 M1926.5,2538.0V2533.4 M1928.7,2538.0V2513.5 M1935.3,2538.0V2524.1 M1937.1,2538.0V2509.6 M1947.0,2538.0V2531.1 M1948.6,2538.0V2509.6 M1949.6,2538.0V2530.5 M1952.0,2538.0V2532.9 M1953.6,2538.0V2509.6 M1957.3,2538.0V2535.6 M1963.3,2538.0V2530.8 M1969.6,2538.0V2523.8 M1972.1,2538.0V2523.5 M1974.0,2538.0V2534.7 M1977.4,2538.0V2528.2 M1979.6,2538.0V2519.4 M1981.9,2538.0V2512.6 M1983.4,2538.0V2535.5 M1989.0,2538.0V2530.2 M1990.2,2538.0V2530.6 M1991.9,2538.0V2532.1 M1992.6,2538.0V2534.4 M1996.3,2538.0V2509.6 M1997.0,2538.0V2522.7 M1997.9,2538.0V2518.6 M2000.5,2538.0V2535.4 M2003.2,2538.0V2510.9 M2008.0,2538.0V2518.3 M2008.9,2538.0V2520.1 M2014.0,2538.0V2530.4 M2015.8,2538.0V2527.5 M2019.6,2538.0V2527.8 M2020.5,2538.0V2511.5 M2023.0,2538.0V2518.8 M2024.1,2538.0V2529.6 M2027.1,2538.0V2531.8 M2027.7,2538.0V2523.0 M2029.8,2538.0V2534.3 M2031.2,2538.0V2529.2 M2033.5,2538.0V2535.8 M2034.8,2538.0V2533.5 M2036.9,2538.0V2533.8 M2038.6,2538.0V2520.9 M2042.4,2538.0V2525.1 M2046.9,2538.0V2531.6 M2048.3,2538.0V2527.4 M2049.9,2538.0V2535.9 M2052.3,2538.0V2509.6 M2053.3,2538.0V2528.3 M2054.8,2538.0V2509.6 M2057.2,2538.0V2527.7 M2058.8,2538.0V2532.5 M2060.1,2538.0V2522.8 M2063.6,2538.0V2536.1 M2065.1,2538.0V2509.6 M2068.2,2538.0V2509.6 M2071.5,2538.0V2530.2 M2072.6,2538.0V2532.4 M2075.2,2538.0V2526.9 M2076.6,2538.0V2527.7 M2080.9,2538.0V2509.6 M2085.0,2538.0V2529.6 M2086.6,2538.0V2529.5 M2088.7,2538.0V2526.7 M2089.3,2538.0V2531.0 M2092.2,2538.0V2521.6 M2093.1,2538.0V2534.5 M2095.4,2538.0V2515.0 M2096.2,2538.0V2535.5 M2097.6,2538.0V2531.8 M2101.6,2538.0V2532.1 M2106.6,2538.0V2530.3 M2108.4,2538.0V2535.8 M2109.5,2538.0V2531.4 M2111.3,2538.0V2536.3 M2117.4,2538.0V2525.8 M2118.4,2538.0V2534.7 M2119.5,2538.0V2534.5 M2120.7,2538.0V2533.0 M2121.3,2538.0V2535.4 M2124.1,2538.0V2536.2 M2125.3,2538.0V2533.4 M2127.0,2538.0V2536.2 M2128.8,2538.0V2524.8 M2133.4,2538.0V2527.9 M2134.8,2538.0V2532.8 M2138.0,2538.0V2521.6 M2139.2,2538.0V2533.7 M2140.2,2538.0V2536.2 M2143.6,2538.0V2528.7 M2146.3,2538.0V2533.8 M2147.4,2538.0V2533.2 M2148.2,2538.0V2528.2 M2154.4,2538.0V2534.7 M2157.1,2538.0V2530.3 M2158.8,2538.0V2525.4 M2161.1,2538.0V2535.2 M2164.0,2538.0V2535.0 M2166.9,2538.0V2533.7 M2168.5,2538.0V2520.0 M2172.5,2538.0V2524.0 M2173.3,2538.0V2523.3 M2174.9,2538.0V2534.0 M2175.6,2538.0V2535.7 M2181.0,2538.0V2523.1 M2182.7,2538.0V2525.9 M2186.3,2538.0V2529.7 M2188.8,2538.0V2535.4 M2189.9,2538.0V2532.6 M2191.9,2538.0V2527.0 M2195.0,2538.0V2531.3 M2196.6,2538.0V2536.2 M2202.5,2538.0V2532.8 M2210.1,2538.0V2536.4 M2210.8,2538.0V2534.0 M2212.2,2538.0V2531.5 M2213.9,2538.0V2535.5 M2220.2,2538.0V2532.2 M2222.9,2538.0V2524.1 M2226.8,2538.0V2535.4 M2227.5,2538.0V2531.3 M2228.2,2538.0V2528.5 M2231.2,2538.0V2528.2 M2235.8,2538.0V2530.6 M2237.9,2538.0V2515.4 M2240.9,2538.0V2529.2 M2242.3,2538.0V2525.5 M2246.3,2538.0V2528.9 M2250.9,2538.0V2531.0 M2251.8,2538.0V2528.1 M2255.1,2538.0V2536.5 M2255.8,2538.0V2533.4 M2261.1,2538.0V2520.1 M2263.9,2538.0V2534.9 M2267.7,2538.0V2519.4 M2268.7,2538.0V2533.5 M2270.7,2538.0V2535.8 M2274.4,2538.0V2536.4 M2275.3,2538.0V2535.4 M2281.8,2538.0V2532.7 M2286.1,2538.0V2532.3 M2290.3,2538.0V2532.9 M2295.7,2538.0V2529.4 M2300.4,2538.0V2531.8 M2301.2,2538.0V2534.1 M2302.6,2538.0V2532.3 M2304.5,2538.0V2532.7 M2305.5,2538.0V2528.1 M2306.5,2538.0V2534.6 M2308.0,2538.0V2536.6 M2309.8,2538.0V2531.1 M2310.5,2538.0V2535.9 M2313.5,2538.0V2526.9 M2315.8,2538.0V2527.9 M2318.6,2538.0V2533.5 M2322.8,2538.0V2535.2 M2323.5,2538.0V2534.7 M2326.2,2538.0V2535.5 M2328.3,2538.0V2535.9 M2328.9,2538.0V2532.3 M2333.1,2538.0V2528.2 M2334.0,2538.0V2536.3 M2335.5,2538.0V2525.8 M2337.3,2538.0V2534.6 M2339.0,2538.0V2519.4 M2344.1,2538.0V2531.4 M2345.5,2538.0V2533.9 M2355.6,2538.0V2530.6 M249.0,2538.0V2352.7 M252.2,2538.0V2456.7 M236.4,2538.0V2456.7 M258.1,2538.0V2498.2 M264.2,2538.0V2508.4 M269.9,2538.0V2477.2 M274.4,2538.0V2477.2 M280.0,2538.0V2503.3 M221.2,2538.0V2514.7 M226.7,2538.0V2519.8 M198.9,2538.0V2506.2 M296.0,2538.0V2519.8 M302.2,2538.0V2521.5 M316.0,2538.0V2522.1 M339.7,2538.0V2519.8 M381.4,2538.0V2519.2 M393.0,2538.0V2056.5 M394.6,2538.0V2445.3 M399.2,2538.0V2383.4 M402.0,2538.0V2498.2 M405.0,2538.0V2503.9 M410.0,2538.0V2506.7 M416.0,2538.0V2509.6 M422.0,2538.0V2515.3 M509.0,2538.0V2481.2 M512.9,2538.0V2460.7 M706.3,2538.0V2483.4 M707.9,2538.0V2455.6 M727.2,2538.0V1969.5 M730.3,2538.0V2354.9 M732.6,2538.0V2472.6 M735.0,2538.0V2498.2 M740.0,2538.0V2489.7 M750.0,2538.0V2509.6 M797.6,2538.0V2401.6 M803.0,2538.0V2455.6 M805.0,2538.0V2503.9 M876.5,2538.0V2503.3 M963.2,2538.0V2511.3 M611.2,2538.0V2507.3 M663.0,2538.0V2501.6 M667.0,2538.0V2512.4 M1038.2,2538.0V2391.3 M1042.0,2538.0V2492.0 M1044.0,2538.0V2503.9 M1125.6,2538.0V2522.7 M1030.0,2538.0V2518.1 M1200.3,2538.0V2486.3 M1203.0,2538.0V2515.3 M1223.2,2538.0V2493.7 M1365.1,2538.0V2521.5 M1374.5,2538.0V2226.5 M1377.8,2538.0V2373.1 M1380.4,2538.0V2441.4 M1383.0,2538.0V2498.2 M1448.4,2538.0V2453.9 M1451.0,2538.0V2492.5 M1459.4,2538.0V2462.4 M1465.4,2538.0V2349.8 M1471.3,2538.0V2462.4 M1524.8,2538.0V2208.8 M1526.5,2538.0V2402.7 M1535.0,2538.0V2391.9 M1538.4,2538.0V2453.9 M1541.0,2538.0V2503.9 M1578.4,2538.0V2489.7 M1611.5,2538.0V2456.7 M1643.8,2538.0V2228.2 M1648.0,2538.0V2377.1 M1650.0,2538.0V2492.5 M1682.0,2538.0V2439.1 M1686.0,2538.0V2486.8 M1699.0,2538.0V2484.0 M1711.8,2538.0V2462.4 M1736.4,2538.0V2409.5 M1762.8,2538.0V2453.9 M1784.0,2538.0V2347.6 M1801.8,2538.0V2430.6 M1804.4,2538.0V2496.5 M1921.6,2538.0V2500.5 M1999.0,2538.0V2390.2 M2000.7,2538.0V2449.3 M2024.5,2538.0V2405.5 M2028.7,2538.0V2439.1 M2058.5,2538.0V2492.0 M2117.9,2538.0V2526.6 M2215.6,2538.0V2503.3 M2312.5,2538.0V2513.6 M1626.0,2538.0V2486.8 M1632.0,2538.0V2498.2 M1665.0,2538.0V2492.5 M1718.0,2538.0V2498.2 M1748.0,2538.0V2492.5 M1772.0,2538.0V2481.2 M1780.0,2538.0V2503.9 M1590.0,2538.0V2503.9 M1600.0,2538.0V2509.6 M1560.0,2538.0V2515.3 M1830.0,2538.0V2509.6 M1850.0,2538.0V2515.3 M1880.0,2538.0V2512.4 M1940.0,2538.0V2509.6 M1960.0,2538.0V2515.3 M1975.0,2538.0V2509.6 M1985.0,2538.0V2515.3 M2010.0,2538.0V2509.6 M2045.0,2538.0V2512.4 M2070.0,2538.0V2518.1" stroke="#000" stroke-width="1.8" fill="none"/>
<text x="691.1" y="1963.2" font-size="23.0" font-weight="normal" text-anchor="start" fill="#000" font-family="'Liberation Sans', Arial, sans-serif" stroke="#000" stroke-width="0.7">495.30</text>
<text x="356.7" y="2050.7" font-size="23.0" font-weight="normal" text-anchor="start" fill="#000" font-family="'Liberation Sans', Arial, sans-serif" stroke="#000" stroke-width="0.7">372.30</text>
<text x="212.3" y="2346.2" font-size="23.0" font-weight="normal" text-anchor="start" fill="#000" font-family="'Liberation Sans', Arial, sans-serif" stroke="#000" stroke-width="0.7">319.24</text>
<text x="313.1" y="2389.5" font-size="23.0" font-weight="normal" text-anchor="start" fill="#000" font-family="'Liberation Sans', Arial, sans-serif" stroke="#000" stroke-width="0.7">368.21</text>
<text x="399.2" y="2379.5" font-size="23.0" font-weight="normal" text-anchor="start" fill="#000" font-family="'Liberation Sans', Arial, sans-serif" stroke="#000" stroke-width="0.7">374.30</text>
<text x="734.0" y="2352.4" font-size="23.0" font-weight="normal" text-anchor="start" fill="#000" font-family="'Liberation Sans', Arial, sans-serif" stroke="#000" stroke-width="0.7">497.30</text>
<text x="762.6" y="2396.5" font-size="23.0" font-weight="normal" text-anchor="start" fill="#000" font-family="'Liberation Sans', Arial, sans-serif" stroke="#000" stroke-width="0.7">522.32</text>
<text x="1003.1" y="2385.6" font-size="23.0" font-weight="normal" text-anchor="start" fill="#000" font-family="'Liberation Sans', Arial, sans-serif" stroke="#000" stroke-width="0.7">611.41</text>
<text x="256.0" y="2451.4" font-size="23.0" font-weight="normal" text-anchor="start" fill="#000" font-family="'Liberation Sans', Arial, sans-serif" stroke="#000" stroke-width="0.7">321.24</text>
<text x="806.6" y="2450.6" font-size="23.0" font-weight="normal" text-anchor="start" fill="#000" font-family="'Liberation Sans', Arial, sans-serif" stroke="#000" stroke-width="0.7">524.28</text>
<text x="478.8" y="2456.8" font-size="23.0" font-weight="normal" text-anchor="start" fill="#000" font-family="'Liberation Sans', Arial, sans-serif" stroke="#000" stroke-width="0.7">417.15</text>
<text x="648.6" y="2453.8" font-size="23.0" font-weight="normal" text-anchor="start" fill="#000" font-family="'Liberation Sans', Arial, sans-serif" stroke="#000" stroke-width="0.7">489.28</text>
<text x="1044.8" y="2486.2" font-size="23.0" font-weight="normal" text-anchor="start" fill="#000" font-family="'Liberation Sans', Arial, sans-serif" stroke="#000" stroke-width="0.7">612.41</text>
<text x="282.1" y="2500.1" font-size="23.0" font-weight="normal" text-anchor="start" fill="#000" font-family="'Liberation Sans', Arial, sans-serif" stroke="#000" stroke-width="0.7">330.75</text>
<text x="408.1" y="2491.6" font-size="23.0" font-weight="normal" text-anchor="start" fill="#000" font-family="'Liberation Sans', Arial, sans-serif" stroke="#000" stroke-width="0.7">375.30</text>
<text x="547.6" y="2504.8" font-size="23.0" font-weight="normal" text-anchor="start" fill="#000" font-family="'Liberation Sans', Arial, sans-serif" stroke="#000" stroke-width="0.7">452.98</text>
<text x="629.2" y="2498.6" font-size="23.0" font-weight="normal" text-anchor="start" fill="#000" font-family="'Liberation Sans', Arial, sans-serif" stroke="#000" stroke-width="0.7">472.93</text>
<text x="844.1" y="2500.1" font-size="23.0" font-weight="normal" text-anchor="start" fill="#000" font-family="'Liberation Sans', Arial, sans-serif" stroke="#000" stroke-width="0.7">551.36</text>
<text x="929.2" y="2506.3" font-size="23.0" font-weight="normal" text-anchor="start" fill="#000" font-family="'Liberation Sans', Arial, sans-serif" stroke="#000" stroke-width="0.7">582.93</text>
<text x="1089.2" y="2515.6" font-size="23.0" font-weight="normal" text-anchor="start" fill="#000" font-family="'Liberation Sans', Arial, sans-serif" stroke="#000" stroke-width="0.7">643.33</text>
<text x="1166.8" y="2482.6" font-size="23.0" font-weight="normal" text-anchor="start" fill="#000" font-family="'Liberation Sans', Arial, sans-serif" stroke="#000" stroke-width="0.7">671.26</text>
<text x="1229.7" y="2512.3" font-size="23.0" font-weight="normal" text-anchor="start" fill="#000" font-family="'Liberation Sans', Arial, sans-serif" stroke="#000" stroke-width="0.7">680.51</text>
<text x="1297.4" y="2485.1" font-size="23.0" font-weight="normal" text-anchor="start" fill="#000" font-family="'Liberation Sans', Arial, sans-serif" stroke="#000" stroke-width="0.7">731.44</text>
<text x="1340.4" y="2223.4" font-size="23.0" font-weight="normal" text-anchor="start" fill="#000" font-family="'Liberation Sans', Arial, sans-serif" stroke="#000" stroke-width="0.7">735.45</text>
<text x="1488.6" y="2206.4" font-size="23.0" font-weight="normal" text-anchor="start" fill="#000" font-family="'Liberation Sans', Arial, sans-serif" stroke="#000" stroke-width="0.7">790.54</text>
<text x="1607.8" y="2223.4" font-size="23.0" font-weight="normal" text-anchor="start" fill="#000" font-family="'Liberation Sans', Arial, sans-serif" stroke="#000" stroke-width="0.7">834.53</text>
<text x="1430.1" y="2346.6" font-size="23.0" font-weight="normal" text-anchor="start" fill="#000" font-family="'Liberation Sans', Arial, sans-serif" stroke="#000" stroke-width="0.7">768.53</text>
<text x="1382.5" y="2374.6" font-size="23.0" font-weight="normal" text-anchor="start" fill="#000" font-family="'Liberation Sans', Arial, sans-serif" stroke="#000" stroke-width="0.7">736.46</text>
<text x="1387.6" y="2449.4" font-size="23.0" font-weight="normal" text-anchor="start" fill="#000" font-family="'Liberation Sans', Arial, sans-serif" stroke="#000" stroke-width="0.7">762.50</text>
<text x="1532.7" y="2387.4" font-size="23.0" font-weight="normal" text-anchor="start" fill="#000" font-family="'Liberation Sans', Arial, sans-serif" stroke="#000" stroke-width="0.7">794.54</text>
<text x="1540.5" y="2449.4" font-size="23.0" font-weight="normal" text-anchor="start" fill="#000" font-family="'Liberation Sans', Arial, sans-serif" stroke="#000" stroke-width="0.7">795.55</text>
<text x="1650.3" y="2378.0" font-size="23.0" font-weight="normal" text-anchor="start" fill="#000" font-family="'Liberation Sans', Arial, sans-serif" stroke="#000" stroke-width="0.7">835.53</text>
<text x="1748.0" y="2344.1" font-size="23.0" font-weight="normal" text-anchor="start" fill="#000" font-family="'Liberation Sans', Arial, sans-serif" stroke="#000" stroke-width="0.7">885.55</text>
<text x="1702.1" y="2405.2" font-size="23.0" font-weight="normal" text-anchor="start" fill="#000" font-family="'Liberation Sans', Arial, sans-serif" stroke="#000" stroke-width="0.7">868.56</text>
<text x="1657.5" y="2435.8" font-size="23.0" font-weight="normal" text-anchor="start" fill="#000" font-family="'Liberation Sans', Arial, sans-serif" stroke="#000" stroke-width="0.7">848.49</text>
<text x="1793.4" y="2427.3" font-size="23.0" font-weight="normal" text-anchor="start" fill="#000" font-family="'Liberation Sans', Arial, sans-serif" stroke="#000" stroke-width="0.7">892.48</text>
<text x="1807.5" y="2492.8" font-size="23.0" font-weight="normal" text-anchor="start" fill="#000" font-family="'Liberation Sans', Arial, sans-serif" stroke="#000" stroke-width="0.7">893.49</text>
<text x="1902.5" y="2492.8" font-size="23.0" font-weight="normal" text-anchor="start" fill="#000" font-family="'Liberation Sans', Arial, sans-serif" stroke="#000" stroke-width="0.7">943.50</text>
<text x="1963.4" y="2386.5" font-size="23.0" font-weight="normal" text-anchor="start" fill="#000" font-family="'Liberation Sans', Arial, sans-serif" stroke="#000" stroke-width="0.7">965.51</text>
<text x="2030.9" y="2435.8" font-size="23.0" font-weight="normal" text-anchor="start" fill="#000" font-family="'Liberation Sans', Arial, sans-serif" stroke="#000" stroke-width="0.7">976.61</text>
<text x="2039.8" y="2490.2" font-size="23.0" font-weight="normal" text-anchor="start" fill="#000" font-family="'Liberation Sans', Arial, sans-serif" stroke="#000" stroke-width="0.7">987.49</text>
<text x="2113.8" y="2463.0" font-size="23.0" font-weight="normal" text-anchor="start" fill="#000" font-family="'Liberation Sans', Arial, sans-serif" stroke="#000" stroke-width="0.7">1010.38</text>
<text x="2172.4" y="2500.4" font-size="23.0" font-weight="normal" text-anchor="start" fill="#000" font-family="'Liberation Sans', Arial, sans-serif" stroke="#000" stroke-width="0.7">1045.48</text>
<text x="2271.0" y="2510.6" font-size="23.0" font-weight="normal" text-anchor="start" fill="#000" font-family="'Liberation Sans', Arial, sans-serif" stroke="#000" stroke-width="0.7">1081.56</text>
<line x1="1380.4" y1="2376.5" x2="1416.1" y2="2373.1" stroke="#22B14C" stroke-width="1.8" stroke-linecap="butt"/>
<line x1="1425.4" y1="2451.3" x2="1448.4" y2="2451.3" stroke="#22B14C" stroke-width="1.8" stroke-linecap="butt"/>
<line x1="1535.0" y1="2391.8" x2="1565.6" y2="2388.4" stroke="#22B14C" stroke-width="1.8" stroke-linecap="butt"/>
<line x1="1540.1" y1="2451.3" x2="1571.6" y2="2448.8" stroke="#22B14C" stroke-width="1.8" stroke-linecap="butt"/>
<line x1="1649.7" y1="2380.8" x2="1684.6" y2="2377.4" stroke="#22B14C" stroke-width="1.8" stroke-linecap="butt"/>
<line x1="1682.0" y1="2440.3" x2="1690.5" y2="2436.9" stroke="#22B14C" stroke-width="1.8" stroke-linecap="butt"/>
<line x1="1801.8" y1="2430.9" x2="1826.5" y2="2427.5" stroke="#22B14C" stroke-width="1.8" stroke-linecap="butt"/>
<line x1="1806.1" y1="2495.5" x2="1839.2" y2="2492.1" stroke="#22B14C" stroke-width="1.8" stroke-linecap="butt"/>
<line x1="2028.7" y1="2439.4" x2="2065.2" y2="2436.9" stroke="#22B14C" stroke-width="1.8" stroke-linecap="butt"/>
<line x1="2058.5" y1="2493.8" x2="2068.6" y2="2490.4" stroke="#22B14C" stroke-width="1.8" stroke-linecap="butt"/>
<line x1="2117.9" y1="2527.8" x2="2157.9" y2="2464.1" stroke="#22B14C" stroke-width="1.8" stroke-linecap="butt"/>
<line x1="1333.7" y1="2485.3" x2="1365.1" y2="2523.5" stroke="#22B14C" stroke-width="1.8" stroke-linecap="butt"/>
<line x1="1225.8" y1="2515.0" x2="1264.0" y2="2512.5" stroke="#22B14C" stroke-width="1.8" stroke-linecap="butt"/>
<line x1="1042.1" y1="2486.4" x2="1079.2" y2="2486.4" stroke="#22B14C" stroke-width="1.8" stroke-linecap="butt"/>
<line x1="804.6" y1="2453.9" x2="839.4" y2="2450.8" stroke="#22B14C" stroke-width="1.8" stroke-linecap="butt"/>
<line x1="731.9" y1="2354.9" x2="767.4" y2="2351.8" stroke="#22B14C" stroke-width="1.8" stroke-linecap="butt"/>
<line x1="683.1" y1="2455.5" x2="707.9" y2="2457.0" stroke="#22B14C" stroke-width="1.8" stroke-linecap="butt"/>
<line x1="585.6" y1="2505.0" x2="611.2" y2="2505.0" stroke="#22B14C" stroke-width="1.8" stroke-linecap="butt"/>
<line x1="400.7" y1="2381.2" x2="433.2" y2="2379.7" stroke="#22B14C" stroke-width="1.8" stroke-linecap="butt"/>
<line x1="402.3" y1="2495.7" x2="441.0" y2="2493.4" stroke="#22B14C" stroke-width="1.8" stroke-linecap="butt"/>
<line x1="253.0" y1="2456.7" x2="290.6" y2="2453.5" stroke="#22B14C" stroke-width="1.8" stroke-linecap="butt"/>
<line x1="280.5" y1="2503.8" x2="318.0" y2="2501.3" stroke="#22B14C" stroke-width="1.8" stroke-linecap="butt"/>
<line x1="349.7" y1="2391.3" x2="381.4" y2="2518.9" stroke="#22B14C" stroke-width="1.8" stroke-linecap="butt"/>
<text x="1918.6" y="2181.3" font-size="49.6" font-weight="bold" text-anchor="start" fill="#000" font-family="'Liberation Sans', Arial, sans-serif" >PI(4)P</text>
<text x="1945.6" y="2241.1" font-size="49.5" font-weight="bold" text-anchor="start" fill="#000" font-family="'Liberation Sans', Arial, sans-serif" >38:4</text>
<text x="2124.2" y="2296.5" font-size="49.9" font-weight="bold" text-anchor="start" fill="#000" font-family="'Liberation Sans', Arial, sans-serif" >PI(4,5)P</text>
<text x="2306.8" y="2311.0" font-size="22.5" font-weight="bold" text-anchor="start" fill="#000" font-family="'Liberation Sans', Arial, sans-serif" >2</text>
<text x="2176.0" y="2356.3" font-size="48.1" font-weight="bold" text-anchor="start" fill="#000" font-family="'Liberation Sans', Arial, sans-serif" >38:4</text>
<rect x="1997.1" y="2280.4" width="7.0" height="54.0" fill="#2A9BD8"/>
<path d="M2000.6,2357.7 L1981.7,2319.8 L2000.6,2334.4 L2020.2,2319.8 Z" fill="#2A9BD8"/>
<rect x="2214.2" y="2390.7" width="7.0" height="54.3" fill="#2A9BD8"/>
<path d="M2218.0,2468.6 L2198.1,2430.7 L2218.0,2445.0 L2237.8,2430.7 Z" fill="#2A9BD8"/>
<text x="52.2" y="2695.5" font-size="81.0" font-weight="bold" text-anchor="start" fill="#000" font-family="'Liberation Sans', Arial, sans-serif" >e</text>
<line x1="246.8" y1="2755.0" x2="246.8" y2="3302.3" stroke="#000" stroke-width="6.2" stroke-linecap="butt"/>
<line x1="224.0" y1="3299.3" x2="1063.5" y2="3299.3" stroke="#000" stroke-width="6.2" stroke-linecap="butt"/>
<line x1="224.0" y1="2758.0" x2="249.8" y2="2758.0" stroke="#000" stroke-width="6.2" stroke-linecap="butt"/>
<line x1="224.0" y1="3164.0" x2="246.8" y2="3164.0" stroke="#000" stroke-width="6.2" stroke-linecap="butt"/>
<line x1="224.0" y1="3028.7" x2="246.8" y2="3028.7" stroke="#000" stroke-width="6.2" stroke-linecap="butt"/>
<line x1="224.0" y1="2893.4" x2="246.8" y2="2893.4" stroke="#000" stroke-width="6.2" stroke-linecap="butt"/>
<line x1="246.8" y1="3299.3" x2="246.8" y2="3321.5" stroke="#000" stroke-width="6.2" stroke-linecap="butt"/>
<text x="236.1" y="3364.2" font-size="38.5" font-weight="bold" text-anchor="start" fill="#000" font-family="'Liberation Sans', Arial, sans-serif" >0</text>
<line x1="409.5" y1="3299.3" x2="409.5" y2="3321.5" stroke="#000" stroke-width="6.2" stroke-linecap="butt"/>
<text x="388.3" y="3364.2" font-size="38.5" font-weight="bold" text-anchor="start" fill="#000" font-family="'Liberation Sans', Arial, sans-serif" >50</text>
<line x1="572.2" y1="3299.3" x2="572.2" y2="3321.5" stroke="#000" stroke-width="6.2" stroke-linecap="butt"/>
<text x="539.7" y="3364.2" font-size="38.5" font-weight="bold" text-anchor="start" fill="#000" font-family="'Liberation Sans', Arial, sans-serif" >100</text>
<line x1="734.9" y1="3299.3" x2="734.9" y2="3321.5" stroke="#000" stroke-width="6.2" stroke-linecap="butt"/>
<text x="702.4" y="3364.2" font-size="38.5" font-weight="bold" text-anchor="start" fill="#000" font-family="'Liberation Sans', Arial, sans-serif" >150</text>
<line x1="897.6" y1="3299.3" x2="897.6" y2="3321.5" stroke="#000" stroke-width="6.2" stroke-linecap="butt"/>
<text x="865.6" y="3364.2" font-size="38.5" font-weight="bold" text-anchor="start" fill="#000" font-family="'Liberation Sans', Arial, sans-serif" >200</text>
<line x1="1060.3" y1="3299.3" x2="1060.3" y2="3321.5" stroke="#000" stroke-width="6.2" stroke-linecap="butt"/>
<text x="1028.3" y="3364.2" font-size="38.5" font-weight="bold" text-anchor="start" fill="#000" font-family="'Liberation Sans', Arial, sans-serif" >250</text>
<text x="115.7" y="2771.6" font-size="38.0" font-weight="bold" text-anchor="start" fill="#000" font-family="'Liberation Sans', Arial, sans-serif" >2×10</text>
<text x="204.8" y="2760.2" font-size="25.0" font-weight="bold" text-anchor="start" fill="#000" font-family="'Liberation Sans', Arial, sans-serif" >6</text>
<text x="84.1" y="2906.9" font-size="38.0" font-weight="bold" text-anchor="start" fill="#000" font-family="'Liberation Sans', Arial, sans-serif" >1.5×10</text>
<text x="204.8" y="2895.5" font-size="25.0" font-weight="bold" text-anchor="start" fill="#000" font-family="'Liberation Sans', Arial, sans-serif" >6</text>
<text x="115.7" y="3042.2" font-size="38.0" font-weight="bold" text-anchor="start" fill="#000" font-family="'Liberation Sans', Arial, sans-serif" >1×10</text>
<text x="204.8" y="3030.8" font-size="25.0" font-weight="bold" text-anchor="start" fill="#000" font-family="'Liberation Sans', Arial, sans-serif" >6</text>
<text x="115.7" y="3177.5" font-size="38.0" font-weight="bold" text-anchor="start" fill="#000" font-family="'Liberation Sans', Arial, sans-serif" >5×10</text>
<text x="204.8" y="3166.1" font-size="25.0" font-weight="bold" text-anchor="start" fill="#000" font-family="'Liberation Sans', Arial, sans-serif" >5</text>
<text x="193.2" y="3313.6" font-size="38.0" font-weight="bold" text-anchor="start" fill="#000" font-family="'Liberation Sans', Arial, sans-serif" >0</text>
<text x="0.0" y="0.0" font-size="46.6" font-weight="bold" text-anchor="start" fill="#000" font-family="'Liberation Sans', Arial, sans-serif" transform="translate(83.9,3231.5) rotate(-90) scale(0.925,1)" >Realtive Abundance</text>
<text x="371.5" y="3433.4" font-size="46.0" font-weight="bold" text-anchor="start" fill="#000" font-family="'Liberation Sans', Arial, sans-serif" >PIP or PIP</text>
<text x="584.1" y="3445.6" font-size="31.5" font-weight="bold" text-anchor="start" fill="#000" font-family="'Liberation Sans', Arial, sans-serif" >2</text>
<text x="617.2" y="3433.4" font-size="46.0" font-weight="bold" text-anchor="start" fill="#000" font-family="'Liberation Sans', Arial, sans-serif" >standard, pmol</text>
<line x1="320.4" y1="2815.6" x2="377.5" y2="2815.6" stroke="#00C000" stroke-width="4.2" stroke-linecap="butt"/>
<circle cx="348.8" cy="2816.3" r="11.5" fill="#000"/>
<line x1="320.4" y1="2885.8" x2="377.5" y2="2885.8" stroke="#00A2FF" stroke-width="4.2" stroke-linecap="butt"/>
<rect x="337.9" y="2875.0" width="22.4" height="22.2" fill="#000"/>
<text x="409.8" y="2830.1" font-size="45.0" font-weight="bold" text-anchor="start" fill="#000" font-family="'Liberation Sans', Arial, sans-serif" >PI(4)P 17:0/20:4</text>
<text x="409.8" y="2896.1" font-size="45.0" font-weight="bold" text-anchor="start" fill="#000" font-family="'Liberation Sans', Arial, sans-serif" >PI(4,5)P</text>
<text x="574.4" y="2905.3" font-size="28.0" font-weight="bold" text-anchor="start" fill="#000" font-family="'Liberation Sans', Arial, sans-serif" >2</text>
<text x="603.9" y="2896.1" font-size="45.0" font-weight="bold" text-anchor="start" fill="#000" font-family="'Liberation Sans', Arial, sans-serif" >17:0/20:4</text>
<line x1="249.8" y1="3298.3" x2="896.2" y2="2884.5" stroke="#00C000" stroke-width="5.8" stroke-linecap="butt"/>
<line x1="249.8" y1="3300.3" x2="897.0" y2="3164.2" stroke="#00A2FF" stroke-width="5.8" stroke-linecap="butt"/>
<circle cx="246.8" cy="3299.3" r="12" fill="#000"/>
<circle cx="279.3" cy="3272.2" r="12" fill="#000"/>
<circle cx="311.9" cy="3256.0" r="12" fill="#000"/>
<circle cx="409.5" cy="3199.2" r="12" fill="#000"/>
<circle cx="572.2" cy="3093.6" r="12" fill="#000"/>
<circle cx="897.6" cy="2882.6" r="12" fill="#000"/>
<rect x="236.0" y="3288.5" width="21.6" height="21.6" fill="#000"/>
<rect x="268.5" y="3279.6" width="21.6" height="21.6" fill="#000"/>
<rect x="301.1" y="3275.8" width="21.6" height="21.6" fill="#000"/>
<rect x="398.7" y="3258.7" width="21.6" height="21.6" fill="#000"/>
<rect x="561.4" y="3226.3" width="21.6" height="21.6" fill="#000"/>
<rect x="886.8" y="3153.2" width="21.6" height="21.6" fill="#000"/>
<text x="1143.6" y="2696.1" font-size="80.1" font-weight="bold" text-anchor="start" fill="#000" font-family="'Liberation Sans', Arial, sans-serif" >f</text>
<line x1="1321.5" y1="2667.0" x2="1321.5" y2="3289.0" stroke="#000" stroke-width="7" stroke-linecap="butt"/>
<line x1="1294.8" y1="2670.7" x2="1325.0" y2="2670.7" stroke="#000" stroke-width="7" stroke-linecap="butt"/>
<line x1="1294.8" y1="3286.0" x2="1610.7" y2="3286.0" stroke="#000" stroke-width="7" stroke-linecap="butt"/>
<line x1="1294.8" y1="3131.6" x2="1321.5" y2="3131.6" stroke="#000" stroke-width="7" stroke-linecap="butt"/>
<line x1="1294.8" y1="2977.2" x2="1321.5" y2="2977.2" stroke="#000" stroke-width="7" stroke-linecap="butt"/>
<line x1="1294.8" y1="2822.8" x2="1321.5" y2="2822.8" stroke="#000" stroke-width="7" stroke-linecap="butt"/>
<text x="1262.5" y="3304.0" font-size="46.6" font-weight="bold" text-anchor="start" fill="#000" font-family="'Liberation Sans', Arial, sans-serif" >0</text>
<text x="1236.5" y="3149.6" font-size="46.6" font-weight="bold" text-anchor="start" fill="#000" font-family="'Liberation Sans', Arial, sans-serif" >20</text>
<text x="1236.5" y="2995.2" font-size="46.6" font-weight="bold" text-anchor="start" fill="#000" font-family="'Liberation Sans', Arial, sans-serif" >40</text>
<text x="1236.5" y="2840.8" font-size="46.6" font-weight="bold" text-anchor="start" fill="#000" font-family="'Liberation Sans', Arial, sans-serif" >60</text>
<text x="1236.5" y="2686.4" font-size="46.6" font-weight="bold" text-anchor="start" fill="#000" font-family="'Liberation Sans', Arial, sans-serif" >80</text>
<rect x="1363.0" y="2744.5" width="65.3" height="541.5" fill="#DA6000" stroke="#000" stroke-width="7"/>
<rect x="1473.2" y="3118.1" width="67.6" height="167.9" fill="#DA6000" stroke="#000" stroke-width="7"/>
<path d="M1360.0,2739.4 L1378.0,2739.4 L1369.0,2752.9 Z" fill="#000"/>
<path d="M1371.0,2735.6 L1389.0,2735.6 L1380.0,2749.1 Z" fill="#000"/>
<path d="M1381.0,2730.9 L1399.0,2730.9 L1390.0,2744.4 Z" fill="#000"/>
<path d="M1389.0,2734.0 L1407.0,2734.0 L1398.0,2747.5 Z" fill="#000"/>
<path d="M1400.0,2733.3 L1418.0,2733.3 L1409.0,2746.8 Z" fill="#000"/>
<path d="M1412.0,2730.2 L1430.0,2730.2 L1421.0,2743.7 Z" fill="#000"/>
<path d="M1386.0,2737.1 L1404.0,2737.1 L1395.0,2750.6 Z" fill="#000"/>
<path d="M1471.0,3111.5 L1489.0,3111.5 L1480.0,3125.0 Z" fill="#000"/>
<path d="M1484.0,3106.9 L1502.0,3106.9 L1493.0,3120.4 Z" fill="#000"/>
<path d="M1491.0,3107.7 L1509.0,3107.7 L1500.0,3121.2 Z" fill="#000"/>
<path d="M1502.0,3108.4 L1520.0,3108.4 L1511.0,3121.9 Z" fill="#000"/>
<path d="M1512.0,3107.7 L1530.0,3107.7 L1521.0,3121.2 Z" fill="#000"/>
<path d="M1525.0,3105.4 L1543.0,3105.4 L1534.0,3118.9 Z" fill="#000"/>
<path d="M1496.0,3110.8 L1514.0,3110.8 L1505.0,3124.3 Z" fill="#000"/>
<line x1="1395.7" y1="3286.0" x2="1395.7" y2="3311.5" stroke="#000" stroke-width="7" stroke-linecap="butt"/>
<line x1="1507.2" y1="3286.0" x2="1507.2" y2="3311.5" stroke="#000" stroke-width="7" stroke-linecap="butt"/>
<line x1="1738.2" y1="2666.5" x2="1738.2" y2="2719.0" stroke="#000" stroke-width="6.5" stroke-linecap="butt"/>
<line x1="1713.0" y1="2670.0" x2="1741.4" y2="2670.0" stroke="#000" stroke-width="6.5" stroke-linecap="butt"/>
<line x1="1738.2" y1="2772.4" x2="1738.2" y2="3289.0" stroke="#000" stroke-width="6.5" stroke-linecap="butt"/>
<text x="1738.0" y="2773.5" font-size="86.0" font-weight="bold" text-anchor="middle" fill="#000" font-family="'Liberation Sans', Arial, sans-serif" stroke="#000" stroke-width="3.5">~</text>
<line x1="1713.0" y1="3285.0" x2="2348.6" y2="3285.0" stroke="#000" stroke-width="7" stroke-linecap="butt"/>
<line x1="1713.0" y1="3131.7" x2="1738.2" y2="3131.7" stroke="#000" stroke-width="6.5" stroke-linecap="butt"/>
<line x1="1713.0" y1="2978.4" x2="1738.2" y2="2978.4" stroke="#000" stroke-width="6.5" stroke-linecap="butt"/>
<line x1="1713.0" y1="2825.1" x2="1738.2" y2="2825.1" stroke="#000" stroke-width="6.5" stroke-linecap="butt"/>
<text x="1677.6" y="3301.3" font-size="46.6" font-weight="bold" text-anchor="start" fill="#000" font-family="'Liberation Sans', Arial, sans-serif" >0</text>
<text x="1676.9" y="3148.0" font-size="46.6" font-weight="bold" text-anchor="start" fill="#000" font-family="'Liberation Sans', Arial, sans-serif" >1</text>
<text x="1677.5" y="2994.7" font-size="46.6" font-weight="bold" text-anchor="start" fill="#000" font-family="'Liberation Sans', Arial, sans-serif" >2</text>
<text x="1677.3" y="2841.4" font-size="46.6" font-weight="bold" text-anchor="start" fill="#000" font-family="'Liberation Sans', Arial, sans-serif" >3</text>
<text x="1655.0" y="2686.3" font-size="46.6" font-weight="bold" text-anchor="start" fill="#000" font-family="'Liberation Sans', Arial, sans-serif" >80</text>
<line x1="1813.5" y1="3285.0" x2="1813.5" y2="3311.0" stroke="#000" stroke-width="7" stroke-linecap="butt"/>
<line x1="1924.4" y1="3285.0" x2="1924.4" y2="3311.0" stroke="#000" stroke-width="7" stroke-linecap="butt"/>
<line x1="2108.0" y1="3285.0" x2="2108.0" y2="3311.0" stroke="#000" stroke-width="7" stroke-linecap="butt"/>
<line x1="2219.8" y1="3285.0" x2="2219.8" y2="3311.0" stroke="#000" stroke-width="7" stroke-linecap="butt"/>
<line x1="2331.7" y1="3285.0" x2="2331.7" y2="3311.0" stroke="#000" stroke-width="7" stroke-linecap="butt"/>
<rect x="1780.5" y="2822.5" width="66.0" height="462.5" fill="#00C200" stroke="#000" stroke-width="7"/>
<rect x="1892.3" y="3165.9" width="63.8" height="119.1" fill="#00C200" stroke="#000" stroke-width="7"/>
<rect x="2076.3" y="2857.7" width="64.7" height="427.3" fill="#00A3FF" stroke="#000" stroke-width="7"/>
<rect x="2187.7" y="3190.4" width="65.2" height="94.6" fill="#00A3FF" stroke="#000" stroke-width="7"/>
<line x1="1813.5" y1="2791.4" x2="1813.5" y2="2843.5" stroke="#000" stroke-width="6" stroke-linecap="butt"/>
<line x1="1795.5" y1="2791.4" x2="1831.5" y2="2791.4" stroke="#000" stroke-width="6" stroke-linecap="butt"/>
<line x1="1795.5" y1="2843.5" x2="1831.5" y2="2843.5" stroke="#000" stroke-width="6" stroke-linecap="butt"/>
<circle cx="1795.0" cy="2797.5" r="8.5" fill="#000"/>
<circle cx="1832.0" cy="2797.5" r="8.5" fill="#000"/>
<circle cx="1813.5" cy="2825.1" r="8.5" fill="#000"/>
<circle cx="1813.5" cy="2855.8" r="8.5" fill="#000"/>
<line x1="1924.4" y1="3153.2" x2="1924.4" y2="3168.5" stroke="#000" stroke-width="6" stroke-linecap="butt"/>
<line x1="1907.4" y1="3153.2" x2="1941.4" y2="3153.2" stroke="#000" stroke-width="6" stroke-linecap="butt"/>
<line x1="1907.4" y1="3168.5" x2="1941.4" y2="3168.5" stroke="#000" stroke-width="6" stroke-linecap="butt"/>
<circle cx="1898.0" cy="3168.5" r="8.5" fill="#000"/>
<circle cx="1924.0" cy="3162.4" r="8.5" fill="#000"/>
<circle cx="1952.0" cy="3167.0" r="8.5" fill="#000"/>
<circle cx="1952.0" cy="3147.0" r="8.5" fill="#000"/>
<line x1="2108.0" y1="2774.5" x2="2108.0" y2="2932.4" stroke="#000" stroke-width="6" stroke-linecap="butt"/>
<line x1="2090.0" y1="2774.5" x2="2126.0" y2="2774.5" stroke="#000" stroke-width="6" stroke-linecap="butt"/>
<line x1="2090.0" y1="2932.4" x2="2126.0" y2="2932.4" stroke="#000" stroke-width="6" stroke-linecap="butt"/>
<rect x="2099.2" y="2755.0" width="17.5" height="17.5" fill="#000"/>
<rect x="2099.2" y="2816.3" width="17.5" height="17.5" fill="#000"/>
<rect x="2099.2" y="2862.3" width="17.5" height="17.5" fill="#000"/>
<rect x="2099.2" y="2946.7" width="17.5" height="17.5" fill="#000"/>
<line x1="2219.8" y1="3177.7" x2="2219.8" y2="3199.2" stroke="#000" stroke-width="6" stroke-linecap="butt"/>
<line x1="2202.8" y1="3177.7" x2="2236.8" y2="3177.7" stroke="#000" stroke-width="6" stroke-linecap="butt"/>
<line x1="2202.8" y1="3199.2" x2="2236.8" y2="3199.2" stroke="#000" stroke-width="6" stroke-linecap="butt"/>
<rect x="2184.2" y="3162.8" width="17.5" height="17.5" fill="#000"/>
<rect x="2238.2" y="3168.9" width="17.5" height="17.5" fill="#000"/>
<rect x="2211.2" y="3196.5" width="17.5" height="17.5" fill="#000"/>
<rect x="2211.2" y="3175.1" width="17.5" height="17.5" fill="#000"/>
<text x="0.0" y="0.0" font-size="54.0" font-weight="bold" text-anchor="start" fill="#000" font-family="'Liberation Sans', Arial, sans-serif" transform="translate(1196.1,3233.9) rotate(-90) scale(0.952,1)" >%of total PI, PIP, PIP</text>
<text x="0.0" y="0.0" font-size="40.0" font-weight="bold" text-anchor="start" fill="#000" font-family="'Liberation Sans', Arial, sans-serif" transform="translate(1208.5,2736.8) rotate(-90) scale(0.952,1)" >2</text>
<text transform="translate(1411.7,3351.5) rotate(-45)" text-anchor="end" font-family="Liberation Sans, Arial, sans-serif" fill="#000"><tspan font-size="47.0" font-weight="bold" dy="0">PI 38 :4</tspan></text>
<text transform="translate(1523.2,3351.5) rotate(-45)" text-anchor="end" font-family="Liberation Sans, Arial, sans-serif" fill="#000"><tspan font-size="47.0" font-weight="bold" dy="0">PI 36 :4</tspan></text>
<text transform="translate(1829.5,3351.5) rotate(-45)" text-anchor="end" font-family="Liberation Sans, Arial, sans-serif" fill="#000"><tspan font-size="47.0" font-weight="bold" dy="0">PI(4)P 38 :4</tspan></text>
<text transform="translate(1940.4,3351.5) rotate(-45)" text-anchor="end" font-family="Liberation Sans, Arial, sans-serif" fill="#000"><tspan font-size="47.0" font-weight="bold" dy="0">PI(4)P 36 :4</tspan></text>
<text transform="translate(2124.0,3351.5) rotate(-45)" text-anchor="end" font-family="Liberation Sans, Arial, sans-serif" fill="#000"><tspan font-size="47.0" font-weight="bold" dy="0">PI(4,5)P</tspan><tspan font-size="37.6" font-weight="normal" dy="6">2</tspan><tspan font-size="47.0" font-weight="bold" dy="-6"> 38 :4</tspan></text>
<text transform="translate(2235.8,3351.5) rotate(-45)" text-anchor="end" font-family="Liberation Sans, Arial, sans-serif" fill="#000"><tspan font-size="47.0" font-weight="bold" dy="0">PI(4,5)P</tspan><tspan font-size="37.6" font-weight="normal" dy="6">2</tspan><tspan font-size="47.0" font-weight="bold" dy="-6"> 36 :4</tspan></text>
</svg></body></html>
